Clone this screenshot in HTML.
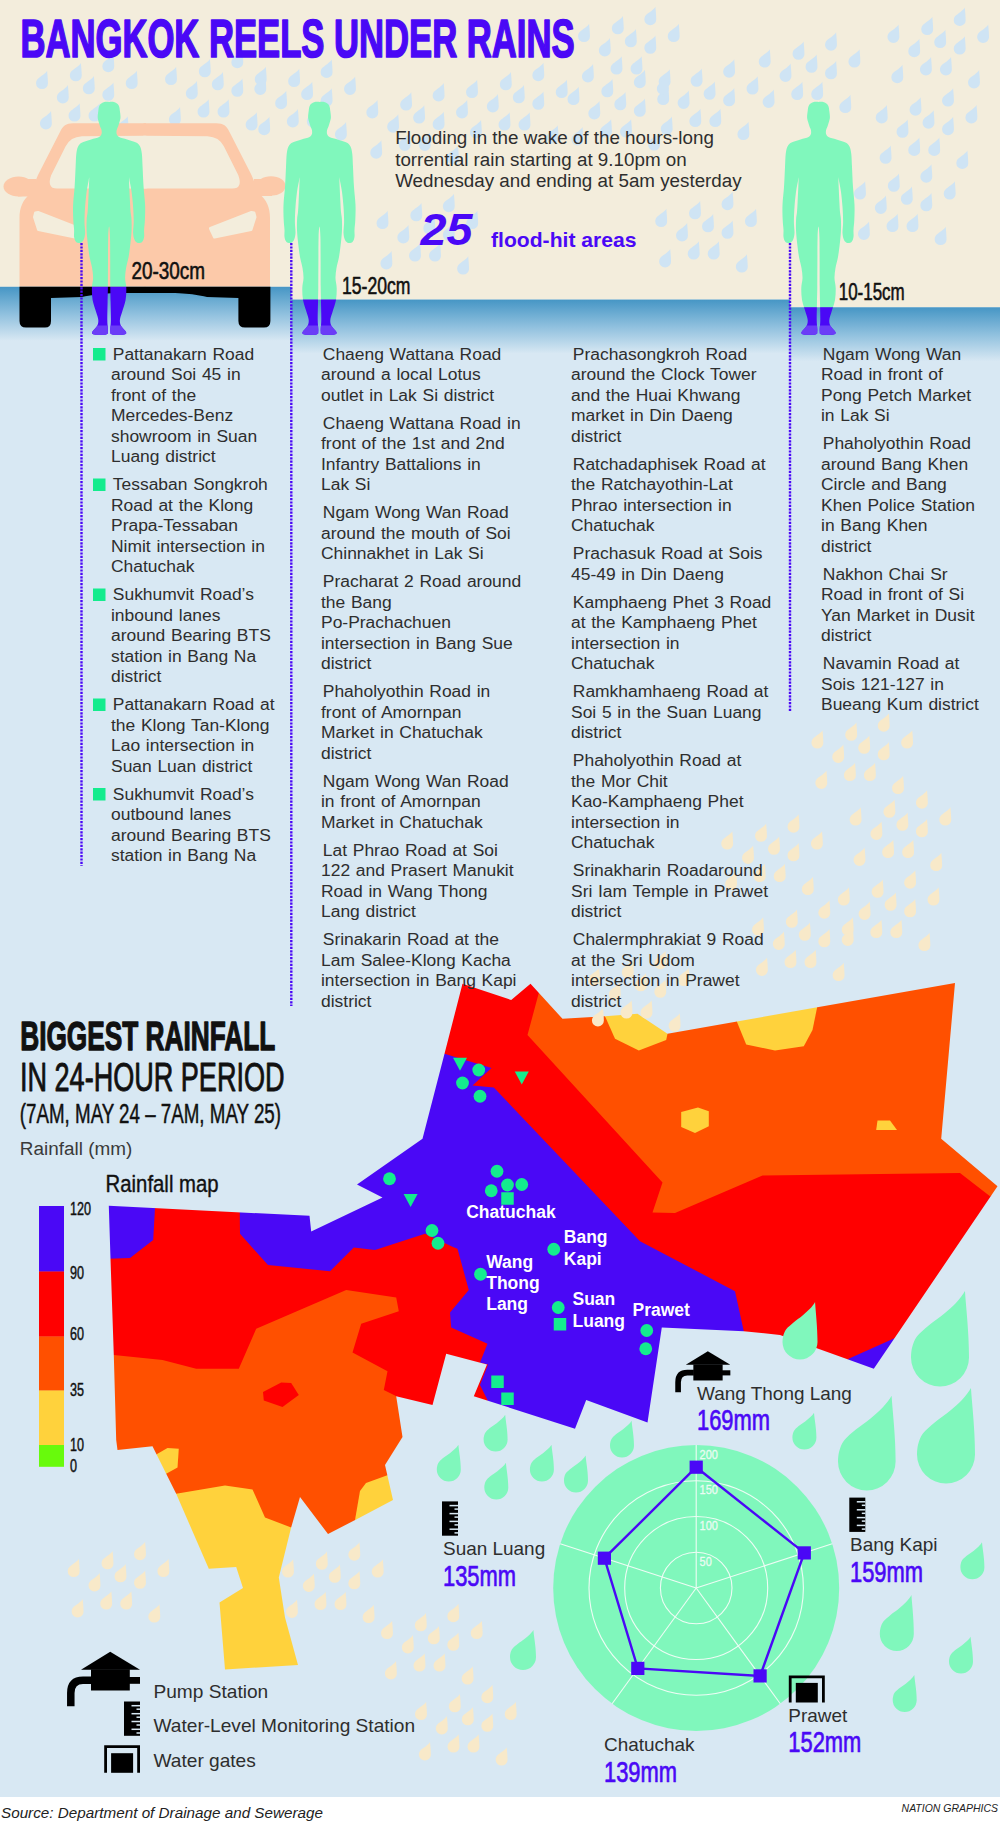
<!DOCTYPE html>
<html lang="en"><head><meta charset="utf-8"><title>Bangkok reels under rains</title>
<style>html,body{margin:0;padding:0;background:#fff}svg{display:block}text{font-family:"Liberation Sans",sans-serif}</style></head><body>
<svg width="1000" height="1823" viewBox="0 0 1000 1823">
<defs>
<linearGradient id="wg" x1="0" y1="0" x2="0" y2="1"><stop offset="0" stop-color="#4696c5"/><stop offset="0.5" stop-color="#8fc0de"/><stop offset="1" stop-color="#d8e8f3"/></linearGradient>
<clipPath id="creamclip"><path d="M0,0H1000V307.3H790V299.6H291.3V286.8H0Z"/></clipPath>
</defs>
<rect width="1000" height="1823" fill="#fff"/>
<rect width="1000" height="1797" fill="#d8e8f3"/>
<path d="M0,0H1000V307.3H790V299.6H291.3V286.8H0Z" fill="#f3eddc"/>
<g fill="#cfe4f4" clip-path="url(#creamclip)">
<path transform="translate(42.0,83.5) scale(5.94,5.6)" d="M0.86,-2.29C0.90,-1.69 1,-0.89 1,0A1,1 0 1 1 -1,0C-1.00,-0.11 -0.99,-0.23 -0.96,-0.35C-0.92,-0.47 -0.89,-0.60 -0.79,-0.73C-0.69,-0.86 -0.52,-0.99 -0.37,-1.12C-0.22,-1.25 -0.02,-1.37 0.13,-1.50C0.28,-1.63 0.43,-1.75 0.55,-1.88C0.67,-2.01 0.80,-2.17 0.86,-2.29Z"/>
<path transform="translate(75.8,75.7) scale(5.94,5.6)" d="M0.86,-2.29C0.90,-1.69 1,-0.89 1,0A1,1 0 1 1 -1,0C-1.00,-0.11 -0.99,-0.23 -0.96,-0.35C-0.92,-0.47 -0.89,-0.60 -0.79,-0.73C-0.69,-0.86 -0.52,-0.99 -0.37,-1.12C-0.22,-1.25 -0.02,-1.37 0.13,-1.50C0.28,-1.63 0.43,-1.75 0.55,-1.88C0.67,-2.01 0.80,-2.17 0.86,-2.29Z"/>
<path transform="translate(108.3,66.6) scale(5.94,5.6)" d="M0.86,-2.29C0.90,-1.69 1,-0.89 1,0A1,1 0 1 1 -1,0C-1.00,-0.11 -0.99,-0.23 -0.96,-0.35C-0.92,-0.47 -0.89,-0.60 -0.79,-0.73C-0.69,-0.86 -0.52,-0.99 -0.37,-1.12C-0.22,-1.25 -0.02,-1.37 0.13,-1.50C0.28,-1.63 0.43,-1.75 0.55,-1.88C0.67,-2.01 0.80,-2.17 0.86,-2.29Z"/>
<path transform="translate(131.7,83.5) scale(5.94,5.6)" d="M0.86,-2.29C0.90,-1.69 1,-0.89 1,0A1,1 0 1 1 -1,0C-1.00,-0.11 -0.99,-0.23 -0.96,-0.35C-0.92,-0.47 -0.89,-0.60 -0.79,-0.73C-0.69,-0.86 -0.52,-0.99 -0.37,-1.12C-0.22,-1.25 -0.02,-1.37 0.13,-1.50C0.28,-1.63 0.43,-1.75 0.55,-1.88C0.67,-2.01 0.80,-2.17 0.86,-2.29Z"/>
<path transform="translate(62.8,97.8) scale(5.94,5.6)" d="M0.86,-2.29C0.90,-1.69 1,-0.89 1,0A1,1 0 1 1 -1,0C-1.00,-0.11 -0.99,-0.23 -0.96,-0.35C-0.92,-0.47 -0.89,-0.60 -0.79,-0.73C-0.69,-0.86 -0.52,-0.99 -0.37,-1.12C-0.22,-1.25 -0.02,-1.37 0.13,-1.50C0.28,-1.63 0.43,-1.75 0.55,-1.88C0.67,-2.01 0.80,-2.17 0.86,-2.29Z"/>
<path transform="translate(88.8,88.7) scale(5.94,5.6)" d="M0.86,-2.29C0.90,-1.69 1,-0.89 1,0A1,1 0 1 1 -1,0C-1.00,-0.11 -0.99,-0.23 -0.96,-0.35C-0.92,-0.47 -0.89,-0.60 -0.79,-0.73C-0.69,-0.86 -0.52,-0.99 -0.37,-1.12C-0.22,-1.25 -0.02,-1.37 0.13,-1.50C0.28,-1.63 0.43,-1.75 0.55,-1.88C0.67,-2.01 0.80,-2.17 0.86,-2.29Z"/>
<path transform="translate(108.3,95.2) scale(5.94,5.6)" d="M0.86,-2.29C0.90,-1.69 1,-0.89 1,0A1,1 0 1 1 -1,0C-1.00,-0.11 -0.99,-0.23 -0.96,-0.35C-0.92,-0.47 -0.89,-0.60 -0.79,-0.73C-0.69,-0.86 -0.52,-0.99 -0.37,-1.12C-0.22,-1.25 -0.02,-1.37 0.13,-1.50C0.28,-1.63 0.43,-1.75 0.55,-1.88C0.67,-2.01 0.80,-2.17 0.86,-2.29Z"/>
<path transform="translate(45.9,123.8) scale(5.94,5.6)" d="M0.86,-2.29C0.90,-1.69 1,-0.89 1,0A1,1 0 1 1 -1,0C-1.00,-0.11 -0.99,-0.23 -0.96,-0.35C-0.92,-0.47 -0.89,-0.60 -0.79,-0.73C-0.69,-0.86 -0.52,-0.99 -0.37,-1.12C-0.22,-1.25 -0.02,-1.37 0.13,-1.50C0.28,-1.63 0.43,-1.75 0.55,-1.88C0.67,-2.01 0.80,-2.17 0.86,-2.29Z"/>
<path transform="translate(74.5,116.0) scale(5.94,5.6)" d="M0.86,-2.29C0.90,-1.69 1,-0.89 1,0A1,1 0 1 1 -1,0C-1.00,-0.11 -0.99,-0.23 -0.96,-0.35C-0.92,-0.47 -0.89,-0.60 -0.79,-0.73C-0.69,-0.86 -0.52,-0.99 -0.37,-1.12C-0.22,-1.25 -0.02,-1.37 0.13,-1.50C0.28,-1.63 0.43,-1.75 0.55,-1.88C0.67,-2.01 0.80,-2.17 0.86,-2.29Z"/>
<path transform="translate(94.5,116.0) scale(5.94,5.6)" d="M0.86,-2.29C0.90,-1.69 1,-0.89 1,0A1,1 0 1 1 -1,0C-1.00,-0.11 -0.99,-0.23 -0.96,-0.35C-0.92,-0.47 -0.89,-0.60 -0.79,-0.73C-0.69,-0.86 -0.52,-0.99 -0.37,-1.12C-0.22,-1.25 -0.02,-1.37 0.13,-1.50C0.28,-1.63 0.43,-1.75 0.55,-1.88C0.67,-2.01 0.80,-2.17 0.86,-2.29Z"/>
<path transform="translate(122.6,129.0) scale(5.94,5.6)" d="M0.86,-2.29C0.90,-1.69 1,-0.89 1,0A1,1 0 1 1 -1,0C-1.00,-0.11 -0.99,-0.23 -0.96,-0.35C-0.92,-0.47 -0.89,-0.60 -0.79,-0.73C-0.69,-0.86 -0.52,-0.99 -0.37,-1.12C-0.22,-1.25 -0.02,-1.37 0.13,-1.50C0.28,-1.63 0.43,-1.75 0.55,-1.88C0.67,-2.01 0.80,-2.17 0.86,-2.29Z"/>
</g>
<g fill="#cfe4f4" clip-path="url(#creamclip)">
<path transform="translate(171.0,79.5) scale(5.94,5.6)" d="M0.86,-2.29C0.90,-1.69 1,-0.89 1,0A1,1 0 1 1 -1,0C-1.00,-0.11 -0.99,-0.23 -0.96,-0.35C-0.92,-0.47 -0.89,-0.60 -0.79,-0.73C-0.69,-0.86 -0.52,-0.99 -0.37,-1.12C-0.22,-1.25 -0.02,-1.37 0.13,-1.50C0.28,-1.63 0.43,-1.75 0.55,-1.88C0.67,-2.01 0.80,-2.17 0.86,-2.29Z"/>
<path transform="translate(204.8,71.7) scale(5.94,5.6)" d="M0.86,-2.29C0.90,-1.69 1,-0.89 1,0A1,1 0 1 1 -1,0C-1.00,-0.11 -0.99,-0.23 -0.96,-0.35C-0.92,-0.47 -0.89,-0.60 -0.79,-0.73C-0.69,-0.86 -0.52,-0.99 -0.37,-1.12C-0.22,-1.25 -0.02,-1.37 0.13,-1.50C0.28,-1.63 0.43,-1.75 0.55,-1.88C0.67,-2.01 0.80,-2.17 0.86,-2.29Z"/>
<path transform="translate(237.3,62.6) scale(5.94,5.6)" d="M0.86,-2.29C0.90,-1.69 1,-0.89 1,0A1,1 0 1 1 -1,0C-1.00,-0.11 -0.99,-0.23 -0.96,-0.35C-0.92,-0.47 -0.89,-0.60 -0.79,-0.73C-0.69,-0.86 -0.52,-0.99 -0.37,-1.12C-0.22,-1.25 -0.02,-1.37 0.13,-1.50C0.28,-1.63 0.43,-1.75 0.55,-1.88C0.67,-2.01 0.80,-2.17 0.86,-2.29Z"/>
<path transform="translate(260.7,79.5) scale(5.94,5.6)" d="M0.86,-2.29C0.90,-1.69 1,-0.89 1,0A1,1 0 1 1 -1,0C-1.00,-0.11 -0.99,-0.23 -0.96,-0.35C-0.92,-0.47 -0.89,-0.60 -0.79,-0.73C-0.69,-0.86 -0.52,-0.99 -0.37,-1.12C-0.22,-1.25 -0.02,-1.37 0.13,-1.50C0.28,-1.63 0.43,-1.75 0.55,-1.88C0.67,-2.01 0.80,-2.17 0.86,-2.29Z"/>
<path transform="translate(191.8,93.8) scale(5.94,5.6)" d="M0.86,-2.29C0.90,-1.69 1,-0.89 1,0A1,1 0 1 1 -1,0C-1.00,-0.11 -0.99,-0.23 -0.96,-0.35C-0.92,-0.47 -0.89,-0.60 -0.79,-0.73C-0.69,-0.86 -0.52,-0.99 -0.37,-1.12C-0.22,-1.25 -0.02,-1.37 0.13,-1.50C0.28,-1.63 0.43,-1.75 0.55,-1.88C0.67,-2.01 0.80,-2.17 0.86,-2.29Z"/>
<path transform="translate(217.8,84.7) scale(5.94,5.6)" d="M0.86,-2.29C0.90,-1.69 1,-0.89 1,0A1,1 0 1 1 -1,0C-1.00,-0.11 -0.99,-0.23 -0.96,-0.35C-0.92,-0.47 -0.89,-0.60 -0.79,-0.73C-0.69,-0.86 -0.52,-0.99 -0.37,-1.12C-0.22,-1.25 -0.02,-1.37 0.13,-1.50C0.28,-1.63 0.43,-1.75 0.55,-1.88C0.67,-2.01 0.80,-2.17 0.86,-2.29Z"/>
<path transform="translate(237.3,91.2) scale(5.94,5.6)" d="M0.86,-2.29C0.90,-1.69 1,-0.89 1,0A1,1 0 1 1 -1,0C-1.00,-0.11 -0.99,-0.23 -0.96,-0.35C-0.92,-0.47 -0.89,-0.60 -0.79,-0.73C-0.69,-0.86 -0.52,-0.99 -0.37,-1.12C-0.22,-1.25 -0.02,-1.37 0.13,-1.50C0.28,-1.63 0.43,-1.75 0.55,-1.88C0.67,-2.01 0.80,-2.17 0.86,-2.29Z"/>
<path transform="translate(174.9,119.8) scale(5.94,5.6)" d="M0.86,-2.29C0.90,-1.69 1,-0.89 1,0A1,1 0 1 1 -1,0C-1.00,-0.11 -0.99,-0.23 -0.96,-0.35C-0.92,-0.47 -0.89,-0.60 -0.79,-0.73C-0.69,-0.86 -0.52,-0.99 -0.37,-1.12C-0.22,-1.25 -0.02,-1.37 0.13,-1.50C0.28,-1.63 0.43,-1.75 0.55,-1.88C0.67,-2.01 0.80,-2.17 0.86,-2.29Z"/>
<path transform="translate(203.5,112.0) scale(5.94,5.6)" d="M0.86,-2.29C0.90,-1.69 1,-0.89 1,0A1,1 0 1 1 -1,0C-1.00,-0.11 -0.99,-0.23 -0.96,-0.35C-0.92,-0.47 -0.89,-0.60 -0.79,-0.73C-0.69,-0.86 -0.52,-0.99 -0.37,-1.12C-0.22,-1.25 -0.02,-1.37 0.13,-1.50C0.28,-1.63 0.43,-1.75 0.55,-1.88C0.67,-2.01 0.80,-2.17 0.86,-2.29Z"/>
<path transform="translate(223.5,112.0) scale(5.94,5.6)" d="M0.86,-2.29C0.90,-1.69 1,-0.89 1,0A1,1 0 1 1 -1,0C-1.00,-0.11 -0.99,-0.23 -0.96,-0.35C-0.92,-0.47 -0.89,-0.60 -0.79,-0.73C-0.69,-0.86 -0.52,-0.99 -0.37,-1.12C-0.22,-1.25 -0.02,-1.37 0.13,-1.50C0.28,-1.63 0.43,-1.75 0.55,-1.88C0.67,-2.01 0.80,-2.17 0.86,-2.29Z"/>
<path transform="translate(251.6,125.0) scale(5.94,5.6)" d="M0.86,-2.29C0.90,-1.69 1,-0.89 1,0A1,1 0 1 1 -1,0C-1.00,-0.11 -0.99,-0.23 -0.96,-0.35C-0.92,-0.47 -0.89,-0.60 -0.79,-0.73C-0.69,-0.86 -0.52,-0.99 -0.37,-1.12C-0.22,-1.25 -0.02,-1.37 0.13,-1.50C0.28,-1.63 0.43,-1.75 0.55,-1.88C0.67,-2.01 0.80,-2.17 0.86,-2.29Z"/>
</g>
<g fill="#cfe4f4" clip-path="url(#creamclip)">
<path transform="translate(260.3,89.3) scale(5.94,5.6)" d="M0.86,-2.29C0.90,-1.69 1,-0.89 1,0A1,1 0 1 1 -1,0C-1.00,-0.11 -0.99,-0.23 -0.96,-0.35C-0.92,-0.47 -0.89,-0.60 -0.79,-0.73C-0.69,-0.86 -0.52,-0.99 -0.37,-1.12C-0.22,-1.25 -0.02,-1.37 0.13,-1.50C0.28,-1.63 0.43,-1.75 0.55,-1.88C0.67,-2.01 0.80,-2.17 0.86,-2.29Z"/>
<path transform="translate(294.1,81.5) scale(5.94,5.6)" d="M0.86,-2.29C0.90,-1.69 1,-0.89 1,0A1,1 0 1 1 -1,0C-1.00,-0.11 -0.99,-0.23 -0.96,-0.35C-0.92,-0.47 -0.89,-0.60 -0.79,-0.73C-0.69,-0.86 -0.52,-0.99 -0.37,-1.12C-0.22,-1.25 -0.02,-1.37 0.13,-1.50C0.28,-1.63 0.43,-1.75 0.55,-1.88C0.67,-2.01 0.80,-2.17 0.86,-2.29Z"/>
<path transform="translate(326.6,72.4) scale(5.94,5.6)" d="M0.86,-2.29C0.90,-1.69 1,-0.89 1,0A1,1 0 1 1 -1,0C-1.00,-0.11 -0.99,-0.23 -0.96,-0.35C-0.92,-0.47 -0.89,-0.60 -0.79,-0.73C-0.69,-0.86 -0.52,-0.99 -0.37,-1.12C-0.22,-1.25 -0.02,-1.37 0.13,-1.50C0.28,-1.63 0.43,-1.75 0.55,-1.88C0.67,-2.01 0.80,-2.17 0.86,-2.29Z"/>
<path transform="translate(350.0,89.3) scale(5.94,5.6)" d="M0.86,-2.29C0.90,-1.69 1,-0.89 1,0A1,1 0 1 1 -1,0C-1.00,-0.11 -0.99,-0.23 -0.96,-0.35C-0.92,-0.47 -0.89,-0.60 -0.79,-0.73C-0.69,-0.86 -0.52,-0.99 -0.37,-1.12C-0.22,-1.25 -0.02,-1.37 0.13,-1.50C0.28,-1.63 0.43,-1.75 0.55,-1.88C0.67,-2.01 0.80,-2.17 0.86,-2.29Z"/>
<path transform="translate(281.1,103.6) scale(5.94,5.6)" d="M0.86,-2.29C0.90,-1.69 1,-0.89 1,0A1,1 0 1 1 -1,0C-1.00,-0.11 -0.99,-0.23 -0.96,-0.35C-0.92,-0.47 -0.89,-0.60 -0.79,-0.73C-0.69,-0.86 -0.52,-0.99 -0.37,-1.12C-0.22,-1.25 -0.02,-1.37 0.13,-1.50C0.28,-1.63 0.43,-1.75 0.55,-1.88C0.67,-2.01 0.80,-2.17 0.86,-2.29Z"/>
<path transform="translate(307.1,94.5) scale(5.94,5.6)" d="M0.86,-2.29C0.90,-1.69 1,-0.89 1,0A1,1 0 1 1 -1,0C-1.00,-0.11 -0.99,-0.23 -0.96,-0.35C-0.92,-0.47 -0.89,-0.60 -0.79,-0.73C-0.69,-0.86 -0.52,-0.99 -0.37,-1.12C-0.22,-1.25 -0.02,-1.37 0.13,-1.50C0.28,-1.63 0.43,-1.75 0.55,-1.88C0.67,-2.01 0.80,-2.17 0.86,-2.29Z"/>
<path transform="translate(326.6,101.0) scale(5.94,5.6)" d="M0.86,-2.29C0.90,-1.69 1,-0.89 1,0A1,1 0 1 1 -1,0C-1.00,-0.11 -0.99,-0.23 -0.96,-0.35C-0.92,-0.47 -0.89,-0.60 -0.79,-0.73C-0.69,-0.86 -0.52,-0.99 -0.37,-1.12C-0.22,-1.25 -0.02,-1.37 0.13,-1.50C0.28,-1.63 0.43,-1.75 0.55,-1.88C0.67,-2.01 0.80,-2.17 0.86,-2.29Z"/>
<path transform="translate(264.2,129.6) scale(5.94,5.6)" d="M0.86,-2.29C0.90,-1.69 1,-0.89 1,0A1,1 0 1 1 -1,0C-1.00,-0.11 -0.99,-0.23 -0.96,-0.35C-0.92,-0.47 -0.89,-0.60 -0.79,-0.73C-0.69,-0.86 -0.52,-0.99 -0.37,-1.12C-0.22,-1.25 -0.02,-1.37 0.13,-1.50C0.28,-1.63 0.43,-1.75 0.55,-1.88C0.67,-2.01 0.80,-2.17 0.86,-2.29Z"/>
<path transform="translate(292.8,121.8) scale(5.94,5.6)" d="M0.86,-2.29C0.90,-1.69 1,-0.89 1,0A1,1 0 1 1 -1,0C-1.00,-0.11 -0.99,-0.23 -0.96,-0.35C-0.92,-0.47 -0.89,-0.60 -0.79,-0.73C-0.69,-0.86 -0.52,-0.99 -0.37,-1.12C-0.22,-1.25 -0.02,-1.37 0.13,-1.50C0.28,-1.63 0.43,-1.75 0.55,-1.88C0.67,-2.01 0.80,-2.17 0.86,-2.29Z"/>
<path transform="translate(312.8,121.8) scale(5.94,5.6)" d="M0.86,-2.29C0.90,-1.69 1,-0.89 1,0A1,1 0 1 1 -1,0C-1.00,-0.11 -0.99,-0.23 -0.96,-0.35C-0.92,-0.47 -0.89,-0.60 -0.79,-0.73C-0.69,-0.86 -0.52,-0.99 -0.37,-1.12C-0.22,-1.25 -0.02,-1.37 0.13,-1.50C0.28,-1.63 0.43,-1.75 0.55,-1.88C0.67,-2.01 0.80,-2.17 0.86,-2.29Z"/>
<path transform="translate(340.9,134.8) scale(5.94,5.6)" d="M0.86,-2.29C0.90,-1.69 1,-0.89 1,0A1,1 0 1 1 -1,0C-1.00,-0.11 -0.99,-0.23 -0.96,-0.35C-0.92,-0.47 -0.89,-0.60 -0.79,-0.73C-0.69,-0.86 -0.52,-0.99 -0.37,-1.12C-0.22,-1.25 -0.02,-1.37 0.13,-1.50C0.28,-1.63 0.43,-1.75 0.55,-1.88C0.67,-2.01 0.80,-2.17 0.86,-2.29Z"/>
</g>
<g fill="#cfe4f4" clip-path="url(#creamclip)">
<path transform="translate(372.3,112.8) scale(5.94,5.6)" d="M0.86,-2.29C0.90,-1.69 1,-0.89 1,0A1,1 0 1 1 -1,0C-1.00,-0.11 -0.99,-0.23 -0.96,-0.35C-0.92,-0.47 -0.89,-0.60 -0.79,-0.73C-0.69,-0.86 -0.52,-0.99 -0.37,-1.12C-0.22,-1.25 -0.02,-1.37 0.13,-1.50C0.28,-1.63 0.43,-1.75 0.55,-1.88C0.67,-2.01 0.80,-2.17 0.86,-2.29Z"/>
<path transform="translate(406.1,105.0) scale(5.94,5.6)" d="M0.86,-2.29C0.90,-1.69 1,-0.89 1,0A1,1 0 1 1 -1,0C-1.00,-0.11 -0.99,-0.23 -0.96,-0.35C-0.92,-0.47 -0.89,-0.60 -0.79,-0.73C-0.69,-0.86 -0.52,-0.99 -0.37,-1.12C-0.22,-1.25 -0.02,-1.37 0.13,-1.50C0.28,-1.63 0.43,-1.75 0.55,-1.88C0.67,-2.01 0.80,-2.17 0.86,-2.29Z"/>
<path transform="translate(438.6,95.9) scale(5.94,5.6)" d="M0.86,-2.29C0.90,-1.69 1,-0.89 1,0A1,1 0 1 1 -1,0C-1.00,-0.11 -0.99,-0.23 -0.96,-0.35C-0.92,-0.47 -0.89,-0.60 -0.79,-0.73C-0.69,-0.86 -0.52,-0.99 -0.37,-1.12C-0.22,-1.25 -0.02,-1.37 0.13,-1.50C0.28,-1.63 0.43,-1.75 0.55,-1.88C0.67,-2.01 0.80,-2.17 0.86,-2.29Z"/>
<path transform="translate(462.0,112.8) scale(5.94,5.6)" d="M0.86,-2.29C0.90,-1.69 1,-0.89 1,0A1,1 0 1 1 -1,0C-1.00,-0.11 -0.99,-0.23 -0.96,-0.35C-0.92,-0.47 -0.89,-0.60 -0.79,-0.73C-0.69,-0.86 -0.52,-0.99 -0.37,-1.12C-0.22,-1.25 -0.02,-1.37 0.13,-1.50C0.28,-1.63 0.43,-1.75 0.55,-1.88C0.67,-2.01 0.80,-2.17 0.86,-2.29Z"/>
<path transform="translate(393.1,127.1) scale(5.94,5.6)" d="M0.86,-2.29C0.90,-1.69 1,-0.89 1,0A1,1 0 1 1 -1,0C-1.00,-0.11 -0.99,-0.23 -0.96,-0.35C-0.92,-0.47 -0.89,-0.60 -0.79,-0.73C-0.69,-0.86 -0.52,-0.99 -0.37,-1.12C-0.22,-1.25 -0.02,-1.37 0.13,-1.50C0.28,-1.63 0.43,-1.75 0.55,-1.88C0.67,-2.01 0.80,-2.17 0.86,-2.29Z"/>
<path transform="translate(419.1,118.0) scale(5.94,5.6)" d="M0.86,-2.29C0.90,-1.69 1,-0.89 1,0A1,1 0 1 1 -1,0C-1.00,-0.11 -0.99,-0.23 -0.96,-0.35C-0.92,-0.47 -0.89,-0.60 -0.79,-0.73C-0.69,-0.86 -0.52,-0.99 -0.37,-1.12C-0.22,-1.25 -0.02,-1.37 0.13,-1.50C0.28,-1.63 0.43,-1.75 0.55,-1.88C0.67,-2.01 0.80,-2.17 0.86,-2.29Z"/>
<path transform="translate(438.6,124.5) scale(5.94,5.6)" d="M0.86,-2.29C0.90,-1.69 1,-0.89 1,0A1,1 0 1 1 -1,0C-1.00,-0.11 -0.99,-0.23 -0.96,-0.35C-0.92,-0.47 -0.89,-0.60 -0.79,-0.73C-0.69,-0.86 -0.52,-0.99 -0.37,-1.12C-0.22,-1.25 -0.02,-1.37 0.13,-1.50C0.28,-1.63 0.43,-1.75 0.55,-1.88C0.67,-2.01 0.80,-2.17 0.86,-2.29Z"/>
<path transform="translate(376.2,153.1) scale(5.94,5.6)" d="M0.86,-2.29C0.90,-1.69 1,-0.89 1,0A1,1 0 1 1 -1,0C-1.00,-0.11 -0.99,-0.23 -0.96,-0.35C-0.92,-0.47 -0.89,-0.60 -0.79,-0.73C-0.69,-0.86 -0.52,-0.99 -0.37,-1.12C-0.22,-1.25 -0.02,-1.37 0.13,-1.50C0.28,-1.63 0.43,-1.75 0.55,-1.88C0.67,-2.01 0.80,-2.17 0.86,-2.29Z"/>
<path transform="translate(404.8,145.3) scale(5.94,5.6)" d="M0.86,-2.29C0.90,-1.69 1,-0.89 1,0A1,1 0 1 1 -1,0C-1.00,-0.11 -0.99,-0.23 -0.96,-0.35C-0.92,-0.47 -0.89,-0.60 -0.79,-0.73C-0.69,-0.86 -0.52,-0.99 -0.37,-1.12C-0.22,-1.25 -0.02,-1.37 0.13,-1.50C0.28,-1.63 0.43,-1.75 0.55,-1.88C0.67,-2.01 0.80,-2.17 0.86,-2.29Z"/>
<path transform="translate(424.8,145.3) scale(5.94,5.6)" d="M0.86,-2.29C0.90,-1.69 1,-0.89 1,0A1,1 0 1 1 -1,0C-1.00,-0.11 -0.99,-0.23 -0.96,-0.35C-0.92,-0.47 -0.89,-0.60 -0.79,-0.73C-0.69,-0.86 -0.52,-0.99 -0.37,-1.12C-0.22,-1.25 -0.02,-1.37 0.13,-1.50C0.28,-1.63 0.43,-1.75 0.55,-1.88C0.67,-2.01 0.80,-2.17 0.86,-2.29Z"/>
<path transform="translate(452.9,158.3) scale(5.94,5.6)" d="M0.86,-2.29C0.90,-1.69 1,-0.89 1,0A1,1 0 1 1 -1,0C-1.00,-0.11 -0.99,-0.23 -0.96,-0.35C-0.92,-0.47 -0.89,-0.60 -0.79,-0.73C-0.69,-0.86 -0.52,-0.99 -0.37,-1.12C-0.22,-1.25 -0.02,-1.37 0.13,-1.50C0.28,-1.63 0.43,-1.75 0.55,-1.88C0.67,-2.01 0.80,-2.17 0.86,-2.29Z"/>
</g>
<g fill="#cfe4f4" clip-path="url(#creamclip)">
<path transform="translate(382.5,223.5) scale(5.94,5.6)" d="M0.86,-2.29C0.90,-1.69 1,-0.89 1,0A1,1 0 1 1 -1,0C-1.00,-0.11 -0.99,-0.23 -0.96,-0.35C-0.92,-0.47 -0.89,-0.60 -0.79,-0.73C-0.69,-0.86 -0.52,-0.99 -0.37,-1.12C-0.22,-1.25 -0.02,-1.37 0.13,-1.50C0.28,-1.63 0.43,-1.75 0.55,-1.88C0.67,-2.01 0.80,-2.17 0.86,-2.29Z"/>
<path transform="translate(416.3,215.7) scale(5.94,5.6)" d="M0.86,-2.29C0.90,-1.69 1,-0.89 1,0A1,1 0 1 1 -1,0C-1.00,-0.11 -0.99,-0.23 -0.96,-0.35C-0.92,-0.47 -0.89,-0.60 -0.79,-0.73C-0.69,-0.86 -0.52,-0.99 -0.37,-1.12C-0.22,-1.25 -0.02,-1.37 0.13,-1.50C0.28,-1.63 0.43,-1.75 0.55,-1.88C0.67,-2.01 0.80,-2.17 0.86,-2.29Z"/>
<path transform="translate(448.8,206.6) scale(5.94,5.6)" d="M0.86,-2.29C0.90,-1.69 1,-0.89 1,0A1,1 0 1 1 -1,0C-1.00,-0.11 -0.99,-0.23 -0.96,-0.35C-0.92,-0.47 -0.89,-0.60 -0.79,-0.73C-0.69,-0.86 -0.52,-0.99 -0.37,-1.12C-0.22,-1.25 -0.02,-1.37 0.13,-1.50C0.28,-1.63 0.43,-1.75 0.55,-1.88C0.67,-2.01 0.80,-2.17 0.86,-2.29Z"/>
<path transform="translate(472.2,223.5) scale(5.94,5.6)" d="M0.86,-2.29C0.90,-1.69 1,-0.89 1,0A1,1 0 1 1 -1,0C-1.00,-0.11 -0.99,-0.23 -0.96,-0.35C-0.92,-0.47 -0.89,-0.60 -0.79,-0.73C-0.69,-0.86 -0.52,-0.99 -0.37,-1.12C-0.22,-1.25 -0.02,-1.37 0.13,-1.50C0.28,-1.63 0.43,-1.75 0.55,-1.88C0.67,-2.01 0.80,-2.17 0.86,-2.29Z"/>
<path transform="translate(403.3,237.8) scale(5.94,5.6)" d="M0.86,-2.29C0.90,-1.69 1,-0.89 1,0A1,1 0 1 1 -1,0C-1.00,-0.11 -0.99,-0.23 -0.96,-0.35C-0.92,-0.47 -0.89,-0.60 -0.79,-0.73C-0.69,-0.86 -0.52,-0.99 -0.37,-1.12C-0.22,-1.25 -0.02,-1.37 0.13,-1.50C0.28,-1.63 0.43,-1.75 0.55,-1.88C0.67,-2.01 0.80,-2.17 0.86,-2.29Z"/>
<path transform="translate(429.3,228.7) scale(5.94,5.6)" d="M0.86,-2.29C0.90,-1.69 1,-0.89 1,0A1,1 0 1 1 -1,0C-1.00,-0.11 -0.99,-0.23 -0.96,-0.35C-0.92,-0.47 -0.89,-0.60 -0.79,-0.73C-0.69,-0.86 -0.52,-0.99 -0.37,-1.12C-0.22,-1.25 -0.02,-1.37 0.13,-1.50C0.28,-1.63 0.43,-1.75 0.55,-1.88C0.67,-2.01 0.80,-2.17 0.86,-2.29Z"/>
<path transform="translate(448.8,235.2) scale(5.94,5.6)" d="M0.86,-2.29C0.90,-1.69 1,-0.89 1,0A1,1 0 1 1 -1,0C-1.00,-0.11 -0.99,-0.23 -0.96,-0.35C-0.92,-0.47 -0.89,-0.60 -0.79,-0.73C-0.69,-0.86 -0.52,-0.99 -0.37,-1.12C-0.22,-1.25 -0.02,-1.37 0.13,-1.50C0.28,-1.63 0.43,-1.75 0.55,-1.88C0.67,-2.01 0.80,-2.17 0.86,-2.29Z"/>
<path transform="translate(386.4,263.8) scale(5.94,5.6)" d="M0.86,-2.29C0.90,-1.69 1,-0.89 1,0A1,1 0 1 1 -1,0C-1.00,-0.11 -0.99,-0.23 -0.96,-0.35C-0.92,-0.47 -0.89,-0.60 -0.79,-0.73C-0.69,-0.86 -0.52,-0.99 -0.37,-1.12C-0.22,-1.25 -0.02,-1.37 0.13,-1.50C0.28,-1.63 0.43,-1.75 0.55,-1.88C0.67,-2.01 0.80,-2.17 0.86,-2.29Z"/>
<path transform="translate(415.0,256.0) scale(5.94,5.6)" d="M0.86,-2.29C0.90,-1.69 1,-0.89 1,0A1,1 0 1 1 -1,0C-1.00,-0.11 -0.99,-0.23 -0.96,-0.35C-0.92,-0.47 -0.89,-0.60 -0.79,-0.73C-0.69,-0.86 -0.52,-0.99 -0.37,-1.12C-0.22,-1.25 -0.02,-1.37 0.13,-1.50C0.28,-1.63 0.43,-1.75 0.55,-1.88C0.67,-2.01 0.80,-2.17 0.86,-2.29Z"/>
<path transform="translate(435.0,256.0) scale(5.94,5.6)" d="M0.86,-2.29C0.90,-1.69 1,-0.89 1,0A1,1 0 1 1 -1,0C-1.00,-0.11 -0.99,-0.23 -0.96,-0.35C-0.92,-0.47 -0.89,-0.60 -0.79,-0.73C-0.69,-0.86 -0.52,-0.99 -0.37,-1.12C-0.22,-1.25 -0.02,-1.37 0.13,-1.50C0.28,-1.63 0.43,-1.75 0.55,-1.88C0.67,-2.01 0.80,-2.17 0.86,-2.29Z"/>
<path transform="translate(463.1,269.0) scale(5.94,5.6)" d="M0.86,-2.29C0.90,-1.69 1,-0.89 1,0A1,1 0 1 1 -1,0C-1.00,-0.11 -0.99,-0.23 -0.96,-0.35C-0.92,-0.47 -0.89,-0.60 -0.79,-0.73C-0.69,-0.86 -0.52,-0.99 -0.37,-1.12C-0.22,-1.25 -0.02,-1.37 0.13,-1.50C0.28,-1.63 0.43,-1.75 0.55,-1.88C0.67,-2.01 0.80,-2.17 0.86,-2.29Z"/>
</g>
<g fill="#cfe4f4" clip-path="url(#creamclip)">
<path transform="translate(472.0,92.5) scale(5.94,5.6)" d="M0.86,-2.29C0.90,-1.69 1,-0.89 1,0A1,1 0 1 1 -1,0C-1.00,-0.11 -0.99,-0.23 -0.96,-0.35C-0.92,-0.47 -0.89,-0.60 -0.79,-0.73C-0.69,-0.86 -0.52,-0.99 -0.37,-1.12C-0.22,-1.25 -0.02,-1.37 0.13,-1.50C0.28,-1.63 0.43,-1.75 0.55,-1.88C0.67,-2.01 0.80,-2.17 0.86,-2.29Z"/>
<path transform="translate(505.8,84.7) scale(5.94,5.6)" d="M0.86,-2.29C0.90,-1.69 1,-0.89 1,0A1,1 0 1 1 -1,0C-1.00,-0.11 -0.99,-0.23 -0.96,-0.35C-0.92,-0.47 -0.89,-0.60 -0.79,-0.73C-0.69,-0.86 -0.52,-0.99 -0.37,-1.12C-0.22,-1.25 -0.02,-1.37 0.13,-1.50C0.28,-1.63 0.43,-1.75 0.55,-1.88C0.67,-2.01 0.80,-2.17 0.86,-2.29Z"/>
<path transform="translate(538.3,75.6) scale(5.94,5.6)" d="M0.86,-2.29C0.90,-1.69 1,-0.89 1,0A1,1 0 1 1 -1,0C-1.00,-0.11 -0.99,-0.23 -0.96,-0.35C-0.92,-0.47 -0.89,-0.60 -0.79,-0.73C-0.69,-0.86 -0.52,-0.99 -0.37,-1.12C-0.22,-1.25 -0.02,-1.37 0.13,-1.50C0.28,-1.63 0.43,-1.75 0.55,-1.88C0.67,-2.01 0.80,-2.17 0.86,-2.29Z"/>
<path transform="translate(561.7,92.5) scale(5.94,5.6)" d="M0.86,-2.29C0.90,-1.69 1,-0.89 1,0A1,1 0 1 1 -1,0C-1.00,-0.11 -0.99,-0.23 -0.96,-0.35C-0.92,-0.47 -0.89,-0.60 -0.79,-0.73C-0.69,-0.86 -0.52,-0.99 -0.37,-1.12C-0.22,-1.25 -0.02,-1.37 0.13,-1.50C0.28,-1.63 0.43,-1.75 0.55,-1.88C0.67,-2.01 0.80,-2.17 0.86,-2.29Z"/>
<path transform="translate(492.8,106.8) scale(5.94,5.6)" d="M0.86,-2.29C0.90,-1.69 1,-0.89 1,0A1,1 0 1 1 -1,0C-1.00,-0.11 -0.99,-0.23 -0.96,-0.35C-0.92,-0.47 -0.89,-0.60 -0.79,-0.73C-0.69,-0.86 -0.52,-0.99 -0.37,-1.12C-0.22,-1.25 -0.02,-1.37 0.13,-1.50C0.28,-1.63 0.43,-1.75 0.55,-1.88C0.67,-2.01 0.80,-2.17 0.86,-2.29Z"/>
<path transform="translate(518.8,97.7) scale(5.94,5.6)" d="M0.86,-2.29C0.90,-1.69 1,-0.89 1,0A1,1 0 1 1 -1,0C-1.00,-0.11 -0.99,-0.23 -0.96,-0.35C-0.92,-0.47 -0.89,-0.60 -0.79,-0.73C-0.69,-0.86 -0.52,-0.99 -0.37,-1.12C-0.22,-1.25 -0.02,-1.37 0.13,-1.50C0.28,-1.63 0.43,-1.75 0.55,-1.88C0.67,-2.01 0.80,-2.17 0.86,-2.29Z"/>
<path transform="translate(538.3,104.2) scale(5.94,5.6)" d="M0.86,-2.29C0.90,-1.69 1,-0.89 1,0A1,1 0 1 1 -1,0C-1.00,-0.11 -0.99,-0.23 -0.96,-0.35C-0.92,-0.47 -0.89,-0.60 -0.79,-0.73C-0.69,-0.86 -0.52,-0.99 -0.37,-1.12C-0.22,-1.25 -0.02,-1.37 0.13,-1.50C0.28,-1.63 0.43,-1.75 0.55,-1.88C0.67,-2.01 0.80,-2.17 0.86,-2.29Z"/>
<path transform="translate(475.9,132.8) scale(5.94,5.6)" d="M0.86,-2.29C0.90,-1.69 1,-0.89 1,0A1,1 0 1 1 -1,0C-1.00,-0.11 -0.99,-0.23 -0.96,-0.35C-0.92,-0.47 -0.89,-0.60 -0.79,-0.73C-0.69,-0.86 -0.52,-0.99 -0.37,-1.12C-0.22,-1.25 -0.02,-1.37 0.13,-1.50C0.28,-1.63 0.43,-1.75 0.55,-1.88C0.67,-2.01 0.80,-2.17 0.86,-2.29Z"/>
<path transform="translate(504.5,125.0) scale(5.94,5.6)" d="M0.86,-2.29C0.90,-1.69 1,-0.89 1,0A1,1 0 1 1 -1,0C-1.00,-0.11 -0.99,-0.23 -0.96,-0.35C-0.92,-0.47 -0.89,-0.60 -0.79,-0.73C-0.69,-0.86 -0.52,-0.99 -0.37,-1.12C-0.22,-1.25 -0.02,-1.37 0.13,-1.50C0.28,-1.63 0.43,-1.75 0.55,-1.88C0.67,-2.01 0.80,-2.17 0.86,-2.29Z"/>
<path transform="translate(524.5,125.0) scale(5.94,5.6)" d="M0.86,-2.29C0.90,-1.69 1,-0.89 1,0A1,1 0 1 1 -1,0C-1.00,-0.11 -0.99,-0.23 -0.96,-0.35C-0.92,-0.47 -0.89,-0.60 -0.79,-0.73C-0.69,-0.86 -0.52,-0.99 -0.37,-1.12C-0.22,-1.25 -0.02,-1.37 0.13,-1.50C0.28,-1.63 0.43,-1.75 0.55,-1.88C0.67,-2.01 0.80,-2.17 0.86,-2.29Z"/>
<path transform="translate(552.6,138.0) scale(5.94,5.6)" d="M0.86,-2.29C0.90,-1.69 1,-0.89 1,0A1,1 0 1 1 -1,0C-1.00,-0.11 -0.99,-0.23 -0.96,-0.35C-0.92,-0.47 -0.89,-0.60 -0.79,-0.73C-0.69,-0.86 -0.52,-0.99 -0.37,-1.12C-0.22,-1.25 -0.02,-1.37 0.13,-1.50C0.28,-1.63 0.43,-1.75 0.55,-1.88C0.67,-2.01 0.80,-2.17 0.86,-2.29Z"/>
</g>
<g fill="#cfe4f4" clip-path="url(#creamclip)">
<path transform="translate(573.5,99.5) scale(5.94,5.6)" d="M0.86,-2.29C0.90,-1.69 1,-0.89 1,0A1,1 0 1 1 -1,0C-1.00,-0.11 -0.99,-0.23 -0.96,-0.35C-0.92,-0.47 -0.89,-0.60 -0.79,-0.73C-0.69,-0.86 -0.52,-0.99 -0.37,-1.12C-0.22,-1.25 -0.02,-1.37 0.13,-1.50C0.28,-1.63 0.43,-1.75 0.55,-1.88C0.67,-2.01 0.80,-2.17 0.86,-2.29Z"/>
<path transform="translate(607.3,91.7) scale(5.94,5.6)" d="M0.86,-2.29C0.90,-1.69 1,-0.89 1,0A1,1 0 1 1 -1,0C-1.00,-0.11 -0.99,-0.23 -0.96,-0.35C-0.92,-0.47 -0.89,-0.60 -0.79,-0.73C-0.69,-0.86 -0.52,-0.99 -0.37,-1.12C-0.22,-1.25 -0.02,-1.37 0.13,-1.50C0.28,-1.63 0.43,-1.75 0.55,-1.88C0.67,-2.01 0.80,-2.17 0.86,-2.29Z"/>
<path transform="translate(639.8,82.6) scale(5.94,5.6)" d="M0.86,-2.29C0.90,-1.69 1,-0.89 1,0A1,1 0 1 1 -1,0C-1.00,-0.11 -0.99,-0.23 -0.96,-0.35C-0.92,-0.47 -0.89,-0.60 -0.79,-0.73C-0.69,-0.86 -0.52,-0.99 -0.37,-1.12C-0.22,-1.25 -0.02,-1.37 0.13,-1.50C0.28,-1.63 0.43,-1.75 0.55,-1.88C0.67,-2.01 0.80,-2.17 0.86,-2.29Z"/>
<path transform="translate(663.2,99.5) scale(5.94,5.6)" d="M0.86,-2.29C0.90,-1.69 1,-0.89 1,0A1,1 0 1 1 -1,0C-1.00,-0.11 -0.99,-0.23 -0.96,-0.35C-0.92,-0.47 -0.89,-0.60 -0.79,-0.73C-0.69,-0.86 -0.52,-0.99 -0.37,-1.12C-0.22,-1.25 -0.02,-1.37 0.13,-1.50C0.28,-1.63 0.43,-1.75 0.55,-1.88C0.67,-2.01 0.80,-2.17 0.86,-2.29Z"/>
<path transform="translate(594.3,113.8) scale(5.94,5.6)" d="M0.86,-2.29C0.90,-1.69 1,-0.89 1,0A1,1 0 1 1 -1,0C-1.00,-0.11 -0.99,-0.23 -0.96,-0.35C-0.92,-0.47 -0.89,-0.60 -0.79,-0.73C-0.69,-0.86 -0.52,-0.99 -0.37,-1.12C-0.22,-1.25 -0.02,-1.37 0.13,-1.50C0.28,-1.63 0.43,-1.75 0.55,-1.88C0.67,-2.01 0.80,-2.17 0.86,-2.29Z"/>
<path transform="translate(620.3,104.7) scale(5.94,5.6)" d="M0.86,-2.29C0.90,-1.69 1,-0.89 1,0A1,1 0 1 1 -1,0C-1.00,-0.11 -0.99,-0.23 -0.96,-0.35C-0.92,-0.47 -0.89,-0.60 -0.79,-0.73C-0.69,-0.86 -0.52,-0.99 -0.37,-1.12C-0.22,-1.25 -0.02,-1.37 0.13,-1.50C0.28,-1.63 0.43,-1.75 0.55,-1.88C0.67,-2.01 0.80,-2.17 0.86,-2.29Z"/>
<path transform="translate(639.8,111.2) scale(5.94,5.6)" d="M0.86,-2.29C0.90,-1.69 1,-0.89 1,0A1,1 0 1 1 -1,0C-1.00,-0.11 -0.99,-0.23 -0.96,-0.35C-0.92,-0.47 -0.89,-0.60 -0.79,-0.73C-0.69,-0.86 -0.52,-0.99 -0.37,-1.12C-0.22,-1.25 -0.02,-1.37 0.13,-1.50C0.28,-1.63 0.43,-1.75 0.55,-1.88C0.67,-2.01 0.80,-2.17 0.86,-2.29Z"/>
<path transform="translate(577.4,139.8) scale(5.94,5.6)" d="M0.86,-2.29C0.90,-1.69 1,-0.89 1,0A1,1 0 1 1 -1,0C-1.00,-0.11 -0.99,-0.23 -0.96,-0.35C-0.92,-0.47 -0.89,-0.60 -0.79,-0.73C-0.69,-0.86 -0.52,-0.99 -0.37,-1.12C-0.22,-1.25 -0.02,-1.37 0.13,-1.50C0.28,-1.63 0.43,-1.75 0.55,-1.88C0.67,-2.01 0.80,-2.17 0.86,-2.29Z"/>
<path transform="translate(606.0,132.0) scale(5.94,5.6)" d="M0.86,-2.29C0.90,-1.69 1,-0.89 1,0A1,1 0 1 1 -1,0C-1.00,-0.11 -0.99,-0.23 -0.96,-0.35C-0.92,-0.47 -0.89,-0.60 -0.79,-0.73C-0.69,-0.86 -0.52,-0.99 -0.37,-1.12C-0.22,-1.25 -0.02,-1.37 0.13,-1.50C0.28,-1.63 0.43,-1.75 0.55,-1.88C0.67,-2.01 0.80,-2.17 0.86,-2.29Z"/>
<path transform="translate(626.0,132.0) scale(5.94,5.6)" d="M0.86,-2.29C0.90,-1.69 1,-0.89 1,0A1,1 0 1 1 -1,0C-1.00,-0.11 -0.99,-0.23 -0.96,-0.35C-0.92,-0.47 -0.89,-0.60 -0.79,-0.73C-0.69,-0.86 -0.52,-0.99 -0.37,-1.12C-0.22,-1.25 -0.02,-1.37 0.13,-1.50C0.28,-1.63 0.43,-1.75 0.55,-1.88C0.67,-2.01 0.80,-2.17 0.86,-2.29Z"/>
<path transform="translate(654.1,145.0) scale(5.94,5.6)" d="M0.86,-2.29C0.90,-1.69 1,-0.89 1,0A1,1 0 1 1 -1,0C-1.00,-0.11 -0.99,-0.23 -0.96,-0.35C-0.92,-0.47 -0.89,-0.60 -0.79,-0.73C-0.69,-0.86 -0.52,-0.99 -0.37,-1.12C-0.22,-1.25 -0.02,-1.37 0.13,-1.50C0.28,-1.63 0.43,-1.75 0.55,-1.88C0.67,-2.01 0.80,-2.17 0.86,-2.29Z"/>
</g>
<g fill="#cfe4f4" clip-path="url(#creamclip)">
<path transform="translate(584.0,36.5) scale(5.94,5.6)" d="M0.86,-2.29C0.90,-1.69 1,-0.89 1,0A1,1 0 1 1 -1,0C-1.00,-0.11 -0.99,-0.23 -0.96,-0.35C-0.92,-0.47 -0.89,-0.60 -0.79,-0.73C-0.69,-0.86 -0.52,-0.99 -0.37,-1.12C-0.22,-1.25 -0.02,-1.37 0.13,-1.50C0.28,-1.63 0.43,-1.75 0.55,-1.88C0.67,-2.01 0.80,-2.17 0.86,-2.29Z"/>
<path transform="translate(617.8,28.7) scale(5.94,5.6)" d="M0.86,-2.29C0.90,-1.69 1,-0.89 1,0A1,1 0 1 1 -1,0C-1.00,-0.11 -0.99,-0.23 -0.96,-0.35C-0.92,-0.47 -0.89,-0.60 -0.79,-0.73C-0.69,-0.86 -0.52,-0.99 -0.37,-1.12C-0.22,-1.25 -0.02,-1.37 0.13,-1.50C0.28,-1.63 0.43,-1.75 0.55,-1.88C0.67,-2.01 0.80,-2.17 0.86,-2.29Z"/>
<path transform="translate(650.3,19.6) scale(5.94,5.6)" d="M0.86,-2.29C0.90,-1.69 1,-0.89 1,0A1,1 0 1 1 -1,0C-1.00,-0.11 -0.99,-0.23 -0.96,-0.35C-0.92,-0.47 -0.89,-0.60 -0.79,-0.73C-0.69,-0.86 -0.52,-0.99 -0.37,-1.12C-0.22,-1.25 -0.02,-1.37 0.13,-1.50C0.28,-1.63 0.43,-1.75 0.55,-1.88C0.67,-2.01 0.80,-2.17 0.86,-2.29Z"/>
<path transform="translate(673.7,36.5) scale(5.94,5.6)" d="M0.86,-2.29C0.90,-1.69 1,-0.89 1,0A1,1 0 1 1 -1,0C-1.00,-0.11 -0.99,-0.23 -0.96,-0.35C-0.92,-0.47 -0.89,-0.60 -0.79,-0.73C-0.69,-0.86 -0.52,-0.99 -0.37,-1.12C-0.22,-1.25 -0.02,-1.37 0.13,-1.50C0.28,-1.63 0.43,-1.75 0.55,-1.88C0.67,-2.01 0.80,-2.17 0.86,-2.29Z"/>
<path transform="translate(604.8,50.8) scale(5.94,5.6)" d="M0.86,-2.29C0.90,-1.69 1,-0.89 1,0A1,1 0 1 1 -1,0C-1.00,-0.11 -0.99,-0.23 -0.96,-0.35C-0.92,-0.47 -0.89,-0.60 -0.79,-0.73C-0.69,-0.86 -0.52,-0.99 -0.37,-1.12C-0.22,-1.25 -0.02,-1.37 0.13,-1.50C0.28,-1.63 0.43,-1.75 0.55,-1.88C0.67,-2.01 0.80,-2.17 0.86,-2.29Z"/>
<path transform="translate(630.8,41.7) scale(5.94,5.6)" d="M0.86,-2.29C0.90,-1.69 1,-0.89 1,0A1,1 0 1 1 -1,0C-1.00,-0.11 -0.99,-0.23 -0.96,-0.35C-0.92,-0.47 -0.89,-0.60 -0.79,-0.73C-0.69,-0.86 -0.52,-0.99 -0.37,-1.12C-0.22,-1.25 -0.02,-1.37 0.13,-1.50C0.28,-1.63 0.43,-1.75 0.55,-1.88C0.67,-2.01 0.80,-2.17 0.86,-2.29Z"/>
<path transform="translate(650.3,48.2) scale(5.94,5.6)" d="M0.86,-2.29C0.90,-1.69 1,-0.89 1,0A1,1 0 1 1 -1,0C-1.00,-0.11 -0.99,-0.23 -0.96,-0.35C-0.92,-0.47 -0.89,-0.60 -0.79,-0.73C-0.69,-0.86 -0.52,-0.99 -0.37,-1.12C-0.22,-1.25 -0.02,-1.37 0.13,-1.50C0.28,-1.63 0.43,-1.75 0.55,-1.88C0.67,-2.01 0.80,-2.17 0.86,-2.29Z"/>
<path transform="translate(587.9,76.8) scale(5.94,5.6)" d="M0.86,-2.29C0.90,-1.69 1,-0.89 1,0A1,1 0 1 1 -1,0C-1.00,-0.11 -0.99,-0.23 -0.96,-0.35C-0.92,-0.47 -0.89,-0.60 -0.79,-0.73C-0.69,-0.86 -0.52,-0.99 -0.37,-1.12C-0.22,-1.25 -0.02,-1.37 0.13,-1.50C0.28,-1.63 0.43,-1.75 0.55,-1.88C0.67,-2.01 0.80,-2.17 0.86,-2.29Z"/>
<path transform="translate(616.5,69.0) scale(5.94,5.6)" d="M0.86,-2.29C0.90,-1.69 1,-0.89 1,0A1,1 0 1 1 -1,0C-1.00,-0.11 -0.99,-0.23 -0.96,-0.35C-0.92,-0.47 -0.89,-0.60 -0.79,-0.73C-0.69,-0.86 -0.52,-0.99 -0.37,-1.12C-0.22,-1.25 -0.02,-1.37 0.13,-1.50C0.28,-1.63 0.43,-1.75 0.55,-1.88C0.67,-2.01 0.80,-2.17 0.86,-2.29Z"/>
<path transform="translate(636.5,69.0) scale(5.94,5.6)" d="M0.86,-2.29C0.90,-1.69 1,-0.89 1,0A1,1 0 1 1 -1,0C-1.00,-0.11 -0.99,-0.23 -0.96,-0.35C-0.92,-0.47 -0.89,-0.60 -0.79,-0.73C-0.69,-0.86 -0.52,-0.99 -0.37,-1.12C-0.22,-1.25 -0.02,-1.37 0.13,-1.50C0.28,-1.63 0.43,-1.75 0.55,-1.88C0.67,-2.01 0.80,-2.17 0.86,-2.29Z"/>
<path transform="translate(664.6,82.0) scale(5.94,5.6)" d="M0.86,-2.29C0.90,-1.69 1,-0.89 1,0A1,1 0 1 1 -1,0C-1.00,-0.11 -0.99,-0.23 -0.96,-0.35C-0.92,-0.47 -0.89,-0.60 -0.79,-0.73C-0.69,-0.86 -0.52,-0.99 -0.37,-1.12C-0.22,-1.25 -0.02,-1.37 0.13,-1.50C0.28,-1.63 0.43,-1.75 0.55,-1.88C0.67,-2.01 0.80,-2.17 0.86,-2.29Z"/>
</g>
<g fill="#cfe4f4" clip-path="url(#creamclip)">
<path transform="translate(662.8,89.0) scale(5.94,5.6)" d="M0.86,-2.29C0.90,-1.69 1,-0.89 1,0A1,1 0 1 1 -1,0C-1.00,-0.11 -0.99,-0.23 -0.96,-0.35C-0.92,-0.47 -0.89,-0.60 -0.79,-0.73C-0.69,-0.86 -0.52,-0.99 -0.37,-1.12C-0.22,-1.25 -0.02,-1.37 0.13,-1.50C0.28,-1.63 0.43,-1.75 0.55,-1.88C0.67,-2.01 0.80,-2.17 0.86,-2.29Z"/>
<path transform="translate(696.6,81.2) scale(5.94,5.6)" d="M0.86,-2.29C0.90,-1.69 1,-0.89 1,0A1,1 0 1 1 -1,0C-1.00,-0.11 -0.99,-0.23 -0.96,-0.35C-0.92,-0.47 -0.89,-0.60 -0.79,-0.73C-0.69,-0.86 -0.52,-0.99 -0.37,-1.12C-0.22,-1.25 -0.02,-1.37 0.13,-1.50C0.28,-1.63 0.43,-1.75 0.55,-1.88C0.67,-2.01 0.80,-2.17 0.86,-2.29Z"/>
<path transform="translate(729.1,72.1) scale(5.94,5.6)" d="M0.86,-2.29C0.90,-1.69 1,-0.89 1,0A1,1 0 1 1 -1,0C-1.00,-0.11 -0.99,-0.23 -0.96,-0.35C-0.92,-0.47 -0.89,-0.60 -0.79,-0.73C-0.69,-0.86 -0.52,-0.99 -0.37,-1.12C-0.22,-1.25 -0.02,-1.37 0.13,-1.50C0.28,-1.63 0.43,-1.75 0.55,-1.88C0.67,-2.01 0.80,-2.17 0.86,-2.29Z"/>
<path transform="translate(752.5,89.0) scale(5.94,5.6)" d="M0.86,-2.29C0.90,-1.69 1,-0.89 1,0A1,1 0 1 1 -1,0C-1.00,-0.11 -0.99,-0.23 -0.96,-0.35C-0.92,-0.47 -0.89,-0.60 -0.79,-0.73C-0.69,-0.86 -0.52,-0.99 -0.37,-1.12C-0.22,-1.25 -0.02,-1.37 0.13,-1.50C0.28,-1.63 0.43,-1.75 0.55,-1.88C0.67,-2.01 0.80,-2.17 0.86,-2.29Z"/>
<path transform="translate(683.6,103.3) scale(5.94,5.6)" d="M0.86,-2.29C0.90,-1.69 1,-0.89 1,0A1,1 0 1 1 -1,0C-1.00,-0.11 -0.99,-0.23 -0.96,-0.35C-0.92,-0.47 -0.89,-0.60 -0.79,-0.73C-0.69,-0.86 -0.52,-0.99 -0.37,-1.12C-0.22,-1.25 -0.02,-1.37 0.13,-1.50C0.28,-1.63 0.43,-1.75 0.55,-1.88C0.67,-2.01 0.80,-2.17 0.86,-2.29Z"/>
<path transform="translate(709.6,94.2) scale(5.94,5.6)" d="M0.86,-2.29C0.90,-1.69 1,-0.89 1,0A1,1 0 1 1 -1,0C-1.00,-0.11 -0.99,-0.23 -0.96,-0.35C-0.92,-0.47 -0.89,-0.60 -0.79,-0.73C-0.69,-0.86 -0.52,-0.99 -0.37,-1.12C-0.22,-1.25 -0.02,-1.37 0.13,-1.50C0.28,-1.63 0.43,-1.75 0.55,-1.88C0.67,-2.01 0.80,-2.17 0.86,-2.29Z"/>
<path transform="translate(729.1,100.7) scale(5.94,5.6)" d="M0.86,-2.29C0.90,-1.69 1,-0.89 1,0A1,1 0 1 1 -1,0C-1.00,-0.11 -0.99,-0.23 -0.96,-0.35C-0.92,-0.47 -0.89,-0.60 -0.79,-0.73C-0.69,-0.86 -0.52,-0.99 -0.37,-1.12C-0.22,-1.25 -0.02,-1.37 0.13,-1.50C0.28,-1.63 0.43,-1.75 0.55,-1.88C0.67,-2.01 0.80,-2.17 0.86,-2.29Z"/>
<path transform="translate(666.7,129.3) scale(5.94,5.6)" d="M0.86,-2.29C0.90,-1.69 1,-0.89 1,0A1,1 0 1 1 -1,0C-1.00,-0.11 -0.99,-0.23 -0.96,-0.35C-0.92,-0.47 -0.89,-0.60 -0.79,-0.73C-0.69,-0.86 -0.52,-0.99 -0.37,-1.12C-0.22,-1.25 -0.02,-1.37 0.13,-1.50C0.28,-1.63 0.43,-1.75 0.55,-1.88C0.67,-2.01 0.80,-2.17 0.86,-2.29Z"/>
<path transform="translate(695.3,121.5) scale(5.94,5.6)" d="M0.86,-2.29C0.90,-1.69 1,-0.89 1,0A1,1 0 1 1 -1,0C-1.00,-0.11 -0.99,-0.23 -0.96,-0.35C-0.92,-0.47 -0.89,-0.60 -0.79,-0.73C-0.69,-0.86 -0.52,-0.99 -0.37,-1.12C-0.22,-1.25 -0.02,-1.37 0.13,-1.50C0.28,-1.63 0.43,-1.75 0.55,-1.88C0.67,-2.01 0.80,-2.17 0.86,-2.29Z"/>
<path transform="translate(715.3,121.5) scale(5.94,5.6)" d="M0.86,-2.29C0.90,-1.69 1,-0.89 1,0A1,1 0 1 1 -1,0C-1.00,-0.11 -0.99,-0.23 -0.96,-0.35C-0.92,-0.47 -0.89,-0.60 -0.79,-0.73C-0.69,-0.86 -0.52,-0.99 -0.37,-1.12C-0.22,-1.25 -0.02,-1.37 0.13,-1.50C0.28,-1.63 0.43,-1.75 0.55,-1.88C0.67,-2.01 0.80,-2.17 0.86,-2.29Z"/>
<path transform="translate(743.4,134.5) scale(5.94,5.6)" d="M0.86,-2.29C0.90,-1.69 1,-0.89 1,0A1,1 0 1 1 -1,0C-1.00,-0.11 -0.99,-0.23 -0.96,-0.35C-0.92,-0.47 -0.89,-0.60 -0.79,-0.73C-0.69,-0.86 -0.52,-0.99 -0.37,-1.12C-0.22,-1.25 -0.02,-1.37 0.13,-1.50C0.28,-1.63 0.43,-1.75 0.55,-1.88C0.67,-2.01 0.80,-2.17 0.86,-2.29Z"/>
</g>
<g fill="#cfe4f4" clip-path="url(#creamclip)">
<path transform="translate(764.7,62.0) scale(5.94,5.6)" d="M0.86,-2.29C0.90,-1.69 1,-0.89 1,0A1,1 0 1 1 -1,0C-1.00,-0.11 -0.99,-0.23 -0.96,-0.35C-0.92,-0.47 -0.89,-0.60 -0.79,-0.73C-0.69,-0.86 -0.52,-0.99 -0.37,-1.12C-0.22,-1.25 -0.02,-1.37 0.13,-1.50C0.28,-1.63 0.43,-1.75 0.55,-1.88C0.67,-2.01 0.80,-2.17 0.86,-2.29Z"/>
<path transform="translate(798.5,54.2) scale(5.94,5.6)" d="M0.86,-2.29C0.90,-1.69 1,-0.89 1,0A1,1 0 1 1 -1,0C-1.00,-0.11 -0.99,-0.23 -0.96,-0.35C-0.92,-0.47 -0.89,-0.60 -0.79,-0.73C-0.69,-0.86 -0.52,-0.99 -0.37,-1.12C-0.22,-1.25 -0.02,-1.37 0.13,-1.50C0.28,-1.63 0.43,-1.75 0.55,-1.88C0.67,-2.01 0.80,-2.17 0.86,-2.29Z"/>
<path transform="translate(831.0,45.1) scale(5.94,5.6)" d="M0.86,-2.29C0.90,-1.69 1,-0.89 1,0A1,1 0 1 1 -1,0C-1.00,-0.11 -0.99,-0.23 -0.96,-0.35C-0.92,-0.47 -0.89,-0.60 -0.79,-0.73C-0.69,-0.86 -0.52,-0.99 -0.37,-1.12C-0.22,-1.25 -0.02,-1.37 0.13,-1.50C0.28,-1.63 0.43,-1.75 0.55,-1.88C0.67,-2.01 0.80,-2.17 0.86,-2.29Z"/>
<path transform="translate(854.4,62.0) scale(5.94,5.6)" d="M0.86,-2.29C0.90,-1.69 1,-0.89 1,0A1,1 0 1 1 -1,0C-1.00,-0.11 -0.99,-0.23 -0.96,-0.35C-0.92,-0.47 -0.89,-0.60 -0.79,-0.73C-0.69,-0.86 -0.52,-0.99 -0.37,-1.12C-0.22,-1.25 -0.02,-1.37 0.13,-1.50C0.28,-1.63 0.43,-1.75 0.55,-1.88C0.67,-2.01 0.80,-2.17 0.86,-2.29Z"/>
<path transform="translate(785.5,76.3) scale(5.94,5.6)" d="M0.86,-2.29C0.90,-1.69 1,-0.89 1,0A1,1 0 1 1 -1,0C-1.00,-0.11 -0.99,-0.23 -0.96,-0.35C-0.92,-0.47 -0.89,-0.60 -0.79,-0.73C-0.69,-0.86 -0.52,-0.99 -0.37,-1.12C-0.22,-1.25 -0.02,-1.37 0.13,-1.50C0.28,-1.63 0.43,-1.75 0.55,-1.88C0.67,-2.01 0.80,-2.17 0.86,-2.29Z"/>
<path transform="translate(811.5,67.2) scale(5.94,5.6)" d="M0.86,-2.29C0.90,-1.69 1,-0.89 1,0A1,1 0 1 1 -1,0C-1.00,-0.11 -0.99,-0.23 -0.96,-0.35C-0.92,-0.47 -0.89,-0.60 -0.79,-0.73C-0.69,-0.86 -0.52,-0.99 -0.37,-1.12C-0.22,-1.25 -0.02,-1.37 0.13,-1.50C0.28,-1.63 0.43,-1.75 0.55,-1.88C0.67,-2.01 0.80,-2.17 0.86,-2.29Z"/>
<path transform="translate(831.0,73.7) scale(5.94,5.6)" d="M0.86,-2.29C0.90,-1.69 1,-0.89 1,0A1,1 0 1 1 -1,0C-1.00,-0.11 -0.99,-0.23 -0.96,-0.35C-0.92,-0.47 -0.89,-0.60 -0.79,-0.73C-0.69,-0.86 -0.52,-0.99 -0.37,-1.12C-0.22,-1.25 -0.02,-1.37 0.13,-1.50C0.28,-1.63 0.43,-1.75 0.55,-1.88C0.67,-2.01 0.80,-2.17 0.86,-2.29Z"/>
<path transform="translate(768.6,102.3) scale(5.94,5.6)" d="M0.86,-2.29C0.90,-1.69 1,-0.89 1,0A1,1 0 1 1 -1,0C-1.00,-0.11 -0.99,-0.23 -0.96,-0.35C-0.92,-0.47 -0.89,-0.60 -0.79,-0.73C-0.69,-0.86 -0.52,-0.99 -0.37,-1.12C-0.22,-1.25 -0.02,-1.37 0.13,-1.50C0.28,-1.63 0.43,-1.75 0.55,-1.88C0.67,-2.01 0.80,-2.17 0.86,-2.29Z"/>
<path transform="translate(797.2,94.5) scale(5.94,5.6)" d="M0.86,-2.29C0.90,-1.69 1,-0.89 1,0A1,1 0 1 1 -1,0C-1.00,-0.11 -0.99,-0.23 -0.96,-0.35C-0.92,-0.47 -0.89,-0.60 -0.79,-0.73C-0.69,-0.86 -0.52,-0.99 -0.37,-1.12C-0.22,-1.25 -0.02,-1.37 0.13,-1.50C0.28,-1.63 0.43,-1.75 0.55,-1.88C0.67,-2.01 0.80,-2.17 0.86,-2.29Z"/>
<path transform="translate(817.2,94.5) scale(5.94,5.6)" d="M0.86,-2.29C0.90,-1.69 1,-0.89 1,0A1,1 0 1 1 -1,0C-1.00,-0.11 -0.99,-0.23 -0.96,-0.35C-0.92,-0.47 -0.89,-0.60 -0.79,-0.73C-0.69,-0.86 -0.52,-0.99 -0.37,-1.12C-0.22,-1.25 -0.02,-1.37 0.13,-1.50C0.28,-1.63 0.43,-1.75 0.55,-1.88C0.67,-2.01 0.80,-2.17 0.86,-2.29Z"/>
<path transform="translate(845.3,107.5) scale(5.94,5.6)" d="M0.86,-2.29C0.90,-1.69 1,-0.89 1,0A1,1 0 1 1 -1,0C-1.00,-0.11 -0.99,-0.23 -0.96,-0.35C-0.92,-0.47 -0.89,-0.60 -0.79,-0.73C-0.69,-0.86 -0.52,-0.99 -0.37,-1.12C-0.22,-1.25 -0.02,-1.37 0.13,-1.50C0.28,-1.63 0.43,-1.75 0.55,-1.88C0.67,-2.01 0.80,-2.17 0.86,-2.29Z"/>
</g>
<g fill="#cfe4f4" clip-path="url(#creamclip)">
<path transform="translate(893.4,37.3) scale(5.94,5.6)" d="M0.86,-2.29C0.90,-1.69 1,-0.89 1,0A1,1 0 1 1 -1,0C-1.00,-0.11 -0.99,-0.23 -0.96,-0.35C-0.92,-0.47 -0.89,-0.60 -0.79,-0.73C-0.69,-0.86 -0.52,-0.99 -0.37,-1.12C-0.22,-1.25 -0.02,-1.37 0.13,-1.50C0.28,-1.63 0.43,-1.75 0.55,-1.88C0.67,-2.01 0.80,-2.17 0.86,-2.29Z"/>
<path transform="translate(927.2,29.5) scale(5.94,5.6)" d="M0.86,-2.29C0.90,-1.69 1,-0.89 1,0A1,1 0 1 1 -1,0C-1.00,-0.11 -0.99,-0.23 -0.96,-0.35C-0.92,-0.47 -0.89,-0.60 -0.79,-0.73C-0.69,-0.86 -0.52,-0.99 -0.37,-1.12C-0.22,-1.25 -0.02,-1.37 0.13,-1.50C0.28,-1.63 0.43,-1.75 0.55,-1.88C0.67,-2.01 0.80,-2.17 0.86,-2.29Z"/>
<path transform="translate(959.7,20.4) scale(5.94,5.6)" d="M0.86,-2.29C0.90,-1.69 1,-0.89 1,0A1,1 0 1 1 -1,0C-1.00,-0.11 -0.99,-0.23 -0.96,-0.35C-0.92,-0.47 -0.89,-0.60 -0.79,-0.73C-0.69,-0.86 -0.52,-0.99 -0.37,-1.12C-0.22,-1.25 -0.02,-1.37 0.13,-1.50C0.28,-1.63 0.43,-1.75 0.55,-1.88C0.67,-2.01 0.80,-2.17 0.86,-2.29Z"/>
<path transform="translate(983.1,37.3) scale(5.94,5.6)" d="M0.86,-2.29C0.90,-1.69 1,-0.89 1,0A1,1 0 1 1 -1,0C-1.00,-0.11 -0.99,-0.23 -0.96,-0.35C-0.92,-0.47 -0.89,-0.60 -0.79,-0.73C-0.69,-0.86 -0.52,-0.99 -0.37,-1.12C-0.22,-1.25 -0.02,-1.37 0.13,-1.50C0.28,-1.63 0.43,-1.75 0.55,-1.88C0.67,-2.01 0.80,-2.17 0.86,-2.29Z"/>
<path transform="translate(914.2,51.6) scale(5.94,5.6)" d="M0.86,-2.29C0.90,-1.69 1,-0.89 1,0A1,1 0 1 1 -1,0C-1.00,-0.11 -0.99,-0.23 -0.96,-0.35C-0.92,-0.47 -0.89,-0.60 -0.79,-0.73C-0.69,-0.86 -0.52,-0.99 -0.37,-1.12C-0.22,-1.25 -0.02,-1.37 0.13,-1.50C0.28,-1.63 0.43,-1.75 0.55,-1.88C0.67,-2.01 0.80,-2.17 0.86,-2.29Z"/>
<path transform="translate(940.2,42.5) scale(5.94,5.6)" d="M0.86,-2.29C0.90,-1.69 1,-0.89 1,0A1,1 0 1 1 -1,0C-1.00,-0.11 -0.99,-0.23 -0.96,-0.35C-0.92,-0.47 -0.89,-0.60 -0.79,-0.73C-0.69,-0.86 -0.52,-0.99 -0.37,-1.12C-0.22,-1.25 -0.02,-1.37 0.13,-1.50C0.28,-1.63 0.43,-1.75 0.55,-1.88C0.67,-2.01 0.80,-2.17 0.86,-2.29Z"/>
<path transform="translate(959.7,49.0) scale(5.94,5.6)" d="M0.86,-2.29C0.90,-1.69 1,-0.89 1,0A1,1 0 1 1 -1,0C-1.00,-0.11 -0.99,-0.23 -0.96,-0.35C-0.92,-0.47 -0.89,-0.60 -0.79,-0.73C-0.69,-0.86 -0.52,-0.99 -0.37,-1.12C-0.22,-1.25 -0.02,-1.37 0.13,-1.50C0.28,-1.63 0.43,-1.75 0.55,-1.88C0.67,-2.01 0.80,-2.17 0.86,-2.29Z"/>
<path transform="translate(897.3,77.6) scale(5.94,5.6)" d="M0.86,-2.29C0.90,-1.69 1,-0.89 1,0A1,1 0 1 1 -1,0C-1.00,-0.11 -0.99,-0.23 -0.96,-0.35C-0.92,-0.47 -0.89,-0.60 -0.79,-0.73C-0.69,-0.86 -0.52,-0.99 -0.37,-1.12C-0.22,-1.25 -0.02,-1.37 0.13,-1.50C0.28,-1.63 0.43,-1.75 0.55,-1.88C0.67,-2.01 0.80,-2.17 0.86,-2.29Z"/>
<path transform="translate(925.9,69.8) scale(5.94,5.6)" d="M0.86,-2.29C0.90,-1.69 1,-0.89 1,0A1,1 0 1 1 -1,0C-1.00,-0.11 -0.99,-0.23 -0.96,-0.35C-0.92,-0.47 -0.89,-0.60 -0.79,-0.73C-0.69,-0.86 -0.52,-0.99 -0.37,-1.12C-0.22,-1.25 -0.02,-1.37 0.13,-1.50C0.28,-1.63 0.43,-1.75 0.55,-1.88C0.67,-2.01 0.80,-2.17 0.86,-2.29Z"/>
<path transform="translate(945.9,69.8) scale(5.94,5.6)" d="M0.86,-2.29C0.90,-1.69 1,-0.89 1,0A1,1 0 1 1 -1,0C-1.00,-0.11 -0.99,-0.23 -0.96,-0.35C-0.92,-0.47 -0.89,-0.60 -0.79,-0.73C-0.69,-0.86 -0.52,-0.99 -0.37,-1.12C-0.22,-1.25 -0.02,-1.37 0.13,-1.50C0.28,-1.63 0.43,-1.75 0.55,-1.88C0.67,-2.01 0.80,-2.17 0.86,-2.29Z"/>
<path transform="translate(974.0,82.8) scale(5.94,5.6)" d="M0.86,-2.29C0.90,-1.69 1,-0.89 1,0A1,1 0 1 1 -1,0C-1.00,-0.11 -0.99,-0.23 -0.96,-0.35C-0.92,-0.47 -0.89,-0.60 -0.79,-0.73C-0.69,-0.86 -0.52,-0.99 -0.37,-1.12C-0.22,-1.25 -0.02,-1.37 0.13,-1.50C0.28,-1.63 0.43,-1.75 0.55,-1.88C0.67,-2.01 0.80,-2.17 0.86,-2.29Z"/>
</g>
<g fill="#cfe4f4" clip-path="url(#creamclip)">
<path transform="translate(881.7,117.9) scale(5.94,5.6)" d="M0.86,-2.29C0.90,-1.69 1,-0.89 1,0A1,1 0 1 1 -1,0C-1.00,-0.11 -0.99,-0.23 -0.96,-0.35C-0.92,-0.47 -0.89,-0.60 -0.79,-0.73C-0.69,-0.86 -0.52,-0.99 -0.37,-1.12C-0.22,-1.25 -0.02,-1.37 0.13,-1.50C0.28,-1.63 0.43,-1.75 0.55,-1.88C0.67,-2.01 0.80,-2.17 0.86,-2.29Z"/>
<path transform="translate(915.5,110.1) scale(5.94,5.6)" d="M0.86,-2.29C0.90,-1.69 1,-0.89 1,0A1,1 0 1 1 -1,0C-1.00,-0.11 -0.99,-0.23 -0.96,-0.35C-0.92,-0.47 -0.89,-0.60 -0.79,-0.73C-0.69,-0.86 -0.52,-0.99 -0.37,-1.12C-0.22,-1.25 -0.02,-1.37 0.13,-1.50C0.28,-1.63 0.43,-1.75 0.55,-1.88C0.67,-2.01 0.80,-2.17 0.86,-2.29Z"/>
<path transform="translate(948.0,101.0) scale(5.94,5.6)" d="M0.86,-2.29C0.90,-1.69 1,-0.89 1,0A1,1 0 1 1 -1,0C-1.00,-0.11 -0.99,-0.23 -0.96,-0.35C-0.92,-0.47 -0.89,-0.60 -0.79,-0.73C-0.69,-0.86 -0.52,-0.99 -0.37,-1.12C-0.22,-1.25 -0.02,-1.37 0.13,-1.50C0.28,-1.63 0.43,-1.75 0.55,-1.88C0.67,-2.01 0.80,-2.17 0.86,-2.29Z"/>
<path transform="translate(971.4,117.9) scale(5.94,5.6)" d="M0.86,-2.29C0.90,-1.69 1,-0.89 1,0A1,1 0 1 1 -1,0C-1.00,-0.11 -0.99,-0.23 -0.96,-0.35C-0.92,-0.47 -0.89,-0.60 -0.79,-0.73C-0.69,-0.86 -0.52,-0.99 -0.37,-1.12C-0.22,-1.25 -0.02,-1.37 0.13,-1.50C0.28,-1.63 0.43,-1.75 0.55,-1.88C0.67,-2.01 0.80,-2.17 0.86,-2.29Z"/>
<path transform="translate(902.5,132.2) scale(5.94,5.6)" d="M0.86,-2.29C0.90,-1.69 1,-0.89 1,0A1,1 0 1 1 -1,0C-1.00,-0.11 -0.99,-0.23 -0.96,-0.35C-0.92,-0.47 -0.89,-0.60 -0.79,-0.73C-0.69,-0.86 -0.52,-0.99 -0.37,-1.12C-0.22,-1.25 -0.02,-1.37 0.13,-1.50C0.28,-1.63 0.43,-1.75 0.55,-1.88C0.67,-2.01 0.80,-2.17 0.86,-2.29Z"/>
<path transform="translate(928.5,123.1) scale(5.94,5.6)" d="M0.86,-2.29C0.90,-1.69 1,-0.89 1,0A1,1 0 1 1 -1,0C-1.00,-0.11 -0.99,-0.23 -0.96,-0.35C-0.92,-0.47 -0.89,-0.60 -0.79,-0.73C-0.69,-0.86 -0.52,-0.99 -0.37,-1.12C-0.22,-1.25 -0.02,-1.37 0.13,-1.50C0.28,-1.63 0.43,-1.75 0.55,-1.88C0.67,-2.01 0.80,-2.17 0.86,-2.29Z"/>
<path transform="translate(948.0,129.6) scale(5.94,5.6)" d="M0.86,-2.29C0.90,-1.69 1,-0.89 1,0A1,1 0 1 1 -1,0C-1.00,-0.11 -0.99,-0.23 -0.96,-0.35C-0.92,-0.47 -0.89,-0.60 -0.79,-0.73C-0.69,-0.86 -0.52,-0.99 -0.37,-1.12C-0.22,-1.25 -0.02,-1.37 0.13,-1.50C0.28,-1.63 0.43,-1.75 0.55,-1.88C0.67,-2.01 0.80,-2.17 0.86,-2.29Z"/>
<path transform="translate(885.6,158.2) scale(5.94,5.6)" d="M0.86,-2.29C0.90,-1.69 1,-0.89 1,0A1,1 0 1 1 -1,0C-1.00,-0.11 -0.99,-0.23 -0.96,-0.35C-0.92,-0.47 -0.89,-0.60 -0.79,-0.73C-0.69,-0.86 -0.52,-0.99 -0.37,-1.12C-0.22,-1.25 -0.02,-1.37 0.13,-1.50C0.28,-1.63 0.43,-1.75 0.55,-1.88C0.67,-2.01 0.80,-2.17 0.86,-2.29Z"/>
<path transform="translate(914.2,150.4) scale(5.94,5.6)" d="M0.86,-2.29C0.90,-1.69 1,-0.89 1,0A1,1 0 1 1 -1,0C-1.00,-0.11 -0.99,-0.23 -0.96,-0.35C-0.92,-0.47 -0.89,-0.60 -0.79,-0.73C-0.69,-0.86 -0.52,-0.99 -0.37,-1.12C-0.22,-1.25 -0.02,-1.37 0.13,-1.50C0.28,-1.63 0.43,-1.75 0.55,-1.88C0.67,-2.01 0.80,-2.17 0.86,-2.29Z"/>
<path transform="translate(934.2,150.4) scale(5.94,5.6)" d="M0.86,-2.29C0.90,-1.69 1,-0.89 1,0A1,1 0 1 1 -1,0C-1.00,-0.11 -0.99,-0.23 -0.96,-0.35C-0.92,-0.47 -0.89,-0.60 -0.79,-0.73C-0.69,-0.86 -0.52,-0.99 -0.37,-1.12C-0.22,-1.25 -0.02,-1.37 0.13,-1.50C0.28,-1.63 0.43,-1.75 0.55,-1.88C0.67,-2.01 0.80,-2.17 0.86,-2.29Z"/>
<path transform="translate(962.3,163.4) scale(5.94,5.6)" d="M0.86,-2.29C0.90,-1.69 1,-0.89 1,0A1,1 0 1 1 -1,0C-1.00,-0.11 -0.99,-0.23 -0.96,-0.35C-0.92,-0.47 -0.89,-0.60 -0.79,-0.73C-0.69,-0.86 -0.52,-0.99 -0.37,-1.12C-0.22,-1.25 -0.02,-1.37 0.13,-1.50C0.28,-1.63 0.43,-1.75 0.55,-1.88C0.67,-2.01 0.80,-2.17 0.86,-2.29Z"/>
</g>
<g fill="#cfe4f4" clip-path="url(#creamclip)">
<path transform="translate(860.0,194.0) scale(5.94,5.6)" d="M0.86,-2.29C0.90,-1.69 1,-0.89 1,0A1,1 0 1 1 -1,0C-1.00,-0.11 -0.99,-0.23 -0.96,-0.35C-0.92,-0.47 -0.89,-0.60 -0.79,-0.73C-0.69,-0.86 -0.52,-0.99 -0.37,-1.12C-0.22,-1.25 -0.02,-1.37 0.13,-1.50C0.28,-1.63 0.43,-1.75 0.55,-1.88C0.67,-2.01 0.80,-2.17 0.86,-2.29Z"/>
<path transform="translate(893.8,186.2) scale(5.94,5.6)" d="M0.86,-2.29C0.90,-1.69 1,-0.89 1,0A1,1 0 1 1 -1,0C-1.00,-0.11 -0.99,-0.23 -0.96,-0.35C-0.92,-0.47 -0.89,-0.60 -0.79,-0.73C-0.69,-0.86 -0.52,-0.99 -0.37,-1.12C-0.22,-1.25 -0.02,-1.37 0.13,-1.50C0.28,-1.63 0.43,-1.75 0.55,-1.88C0.67,-2.01 0.80,-2.17 0.86,-2.29Z"/>
<path transform="translate(926.3,177.1) scale(5.94,5.6)" d="M0.86,-2.29C0.90,-1.69 1,-0.89 1,0A1,1 0 1 1 -1,0C-1.00,-0.11 -0.99,-0.23 -0.96,-0.35C-0.92,-0.47 -0.89,-0.60 -0.79,-0.73C-0.69,-0.86 -0.52,-0.99 -0.37,-1.12C-0.22,-1.25 -0.02,-1.37 0.13,-1.50C0.28,-1.63 0.43,-1.75 0.55,-1.88C0.67,-2.01 0.80,-2.17 0.86,-2.29Z"/>
<path transform="translate(949.7,194.0) scale(5.94,5.6)" d="M0.86,-2.29C0.90,-1.69 1,-0.89 1,0A1,1 0 1 1 -1,0C-1.00,-0.11 -0.99,-0.23 -0.96,-0.35C-0.92,-0.47 -0.89,-0.60 -0.79,-0.73C-0.69,-0.86 -0.52,-0.99 -0.37,-1.12C-0.22,-1.25 -0.02,-1.37 0.13,-1.50C0.28,-1.63 0.43,-1.75 0.55,-1.88C0.67,-2.01 0.80,-2.17 0.86,-2.29Z"/>
<path transform="translate(880.8,208.3) scale(5.94,5.6)" d="M0.86,-2.29C0.90,-1.69 1,-0.89 1,0A1,1 0 1 1 -1,0C-1.00,-0.11 -0.99,-0.23 -0.96,-0.35C-0.92,-0.47 -0.89,-0.60 -0.79,-0.73C-0.69,-0.86 -0.52,-0.99 -0.37,-1.12C-0.22,-1.25 -0.02,-1.37 0.13,-1.50C0.28,-1.63 0.43,-1.75 0.55,-1.88C0.67,-2.01 0.80,-2.17 0.86,-2.29Z"/>
<path transform="translate(906.8,199.2) scale(5.94,5.6)" d="M0.86,-2.29C0.90,-1.69 1,-0.89 1,0A1,1 0 1 1 -1,0C-1.00,-0.11 -0.99,-0.23 -0.96,-0.35C-0.92,-0.47 -0.89,-0.60 -0.79,-0.73C-0.69,-0.86 -0.52,-0.99 -0.37,-1.12C-0.22,-1.25 -0.02,-1.37 0.13,-1.50C0.28,-1.63 0.43,-1.75 0.55,-1.88C0.67,-2.01 0.80,-2.17 0.86,-2.29Z"/>
<path transform="translate(926.3,205.7) scale(5.94,5.6)" d="M0.86,-2.29C0.90,-1.69 1,-0.89 1,0A1,1 0 1 1 -1,0C-1.00,-0.11 -0.99,-0.23 -0.96,-0.35C-0.92,-0.47 -0.89,-0.60 -0.79,-0.73C-0.69,-0.86 -0.52,-0.99 -0.37,-1.12C-0.22,-1.25 -0.02,-1.37 0.13,-1.50C0.28,-1.63 0.43,-1.75 0.55,-1.88C0.67,-2.01 0.80,-2.17 0.86,-2.29Z"/>
<path transform="translate(863.9,234.3) scale(5.94,5.6)" d="M0.86,-2.29C0.90,-1.69 1,-0.89 1,0A1,1 0 1 1 -1,0C-1.00,-0.11 -0.99,-0.23 -0.96,-0.35C-0.92,-0.47 -0.89,-0.60 -0.79,-0.73C-0.69,-0.86 -0.52,-0.99 -0.37,-1.12C-0.22,-1.25 -0.02,-1.37 0.13,-1.50C0.28,-1.63 0.43,-1.75 0.55,-1.88C0.67,-2.01 0.80,-2.17 0.86,-2.29Z"/>
<path transform="translate(892.5,226.5) scale(5.94,5.6)" d="M0.86,-2.29C0.90,-1.69 1,-0.89 1,0A1,1 0 1 1 -1,0C-1.00,-0.11 -0.99,-0.23 -0.96,-0.35C-0.92,-0.47 -0.89,-0.60 -0.79,-0.73C-0.69,-0.86 -0.52,-0.99 -0.37,-1.12C-0.22,-1.25 -0.02,-1.37 0.13,-1.50C0.28,-1.63 0.43,-1.75 0.55,-1.88C0.67,-2.01 0.80,-2.17 0.86,-2.29Z"/>
<path transform="translate(912.5,226.5) scale(5.94,5.6)" d="M0.86,-2.29C0.90,-1.69 1,-0.89 1,0A1,1 0 1 1 -1,0C-1.00,-0.11 -0.99,-0.23 -0.96,-0.35C-0.92,-0.47 -0.89,-0.60 -0.79,-0.73C-0.69,-0.86 -0.52,-0.99 -0.37,-1.12C-0.22,-1.25 -0.02,-1.37 0.13,-1.50C0.28,-1.63 0.43,-1.75 0.55,-1.88C0.67,-2.01 0.80,-2.17 0.86,-2.29Z"/>
<path transform="translate(940.6,239.5) scale(5.94,5.6)" d="M0.86,-2.29C0.90,-1.69 1,-0.89 1,0A1,1 0 1 1 -1,0C-1.00,-0.11 -0.99,-0.23 -0.96,-0.35C-0.92,-0.47 -0.89,-0.60 -0.79,-0.73C-0.69,-0.86 -0.52,-0.99 -0.37,-1.12C-0.22,-1.25 -0.02,-1.37 0.13,-1.50C0.28,-1.63 0.43,-1.75 0.55,-1.88C0.67,-2.01 0.80,-2.17 0.86,-2.29Z"/>
</g>
<g fill="#cfe4f4" clip-path="url(#creamclip)">
<path transform="translate(661.2,221.5) scale(5.94,5.6)" d="M0.86,-2.29C0.90,-1.69 1,-0.89 1,0A1,1 0 1 1 -1,0C-1.00,-0.11 -0.99,-0.23 -0.96,-0.35C-0.92,-0.47 -0.89,-0.60 -0.79,-0.73C-0.69,-0.86 -0.52,-0.99 -0.37,-1.12C-0.22,-1.25 -0.02,-1.37 0.13,-1.50C0.28,-1.63 0.43,-1.75 0.55,-1.88C0.67,-2.01 0.80,-2.17 0.86,-2.29Z"/>
<path transform="translate(695.0,213.7) scale(5.94,5.6)" d="M0.86,-2.29C0.90,-1.69 1,-0.89 1,0A1,1 0 1 1 -1,0C-1.00,-0.11 -0.99,-0.23 -0.96,-0.35C-0.92,-0.47 -0.89,-0.60 -0.79,-0.73C-0.69,-0.86 -0.52,-0.99 -0.37,-1.12C-0.22,-1.25 -0.02,-1.37 0.13,-1.50C0.28,-1.63 0.43,-1.75 0.55,-1.88C0.67,-2.01 0.80,-2.17 0.86,-2.29Z"/>
<path transform="translate(727.5,204.6) scale(5.94,5.6)" d="M0.86,-2.29C0.90,-1.69 1,-0.89 1,0A1,1 0 1 1 -1,0C-1.00,-0.11 -0.99,-0.23 -0.96,-0.35C-0.92,-0.47 -0.89,-0.60 -0.79,-0.73C-0.69,-0.86 -0.52,-0.99 -0.37,-1.12C-0.22,-1.25 -0.02,-1.37 0.13,-1.50C0.28,-1.63 0.43,-1.75 0.55,-1.88C0.67,-2.01 0.80,-2.17 0.86,-2.29Z"/>
<path transform="translate(750.9,221.5) scale(5.94,5.6)" d="M0.86,-2.29C0.90,-1.69 1,-0.89 1,0A1,1 0 1 1 -1,0C-1.00,-0.11 -0.99,-0.23 -0.96,-0.35C-0.92,-0.47 -0.89,-0.60 -0.79,-0.73C-0.69,-0.86 -0.52,-0.99 -0.37,-1.12C-0.22,-1.25 -0.02,-1.37 0.13,-1.50C0.28,-1.63 0.43,-1.75 0.55,-1.88C0.67,-2.01 0.80,-2.17 0.86,-2.29Z"/>
<path transform="translate(682.0,235.8) scale(5.94,5.6)" d="M0.86,-2.29C0.90,-1.69 1,-0.89 1,0A1,1 0 1 1 -1,0C-1.00,-0.11 -0.99,-0.23 -0.96,-0.35C-0.92,-0.47 -0.89,-0.60 -0.79,-0.73C-0.69,-0.86 -0.52,-0.99 -0.37,-1.12C-0.22,-1.25 -0.02,-1.37 0.13,-1.50C0.28,-1.63 0.43,-1.75 0.55,-1.88C0.67,-2.01 0.80,-2.17 0.86,-2.29Z"/>
<path transform="translate(708.0,226.7) scale(5.94,5.6)" d="M0.86,-2.29C0.90,-1.69 1,-0.89 1,0A1,1 0 1 1 -1,0C-1.00,-0.11 -0.99,-0.23 -0.96,-0.35C-0.92,-0.47 -0.89,-0.60 -0.79,-0.73C-0.69,-0.86 -0.52,-0.99 -0.37,-1.12C-0.22,-1.25 -0.02,-1.37 0.13,-1.50C0.28,-1.63 0.43,-1.75 0.55,-1.88C0.67,-2.01 0.80,-2.17 0.86,-2.29Z"/>
<path transform="translate(727.5,233.2) scale(5.94,5.6)" d="M0.86,-2.29C0.90,-1.69 1,-0.89 1,0A1,1 0 1 1 -1,0C-1.00,-0.11 -0.99,-0.23 -0.96,-0.35C-0.92,-0.47 -0.89,-0.60 -0.79,-0.73C-0.69,-0.86 -0.52,-0.99 -0.37,-1.12C-0.22,-1.25 -0.02,-1.37 0.13,-1.50C0.28,-1.63 0.43,-1.75 0.55,-1.88C0.67,-2.01 0.80,-2.17 0.86,-2.29Z"/>
<path transform="translate(665.1,261.8) scale(5.94,5.6)" d="M0.86,-2.29C0.90,-1.69 1,-0.89 1,0A1,1 0 1 1 -1,0C-1.00,-0.11 -0.99,-0.23 -0.96,-0.35C-0.92,-0.47 -0.89,-0.60 -0.79,-0.73C-0.69,-0.86 -0.52,-0.99 -0.37,-1.12C-0.22,-1.25 -0.02,-1.37 0.13,-1.50C0.28,-1.63 0.43,-1.75 0.55,-1.88C0.67,-2.01 0.80,-2.17 0.86,-2.29Z"/>
<path transform="translate(693.7,254.0) scale(5.94,5.6)" d="M0.86,-2.29C0.90,-1.69 1,-0.89 1,0A1,1 0 1 1 -1,0C-1.00,-0.11 -0.99,-0.23 -0.96,-0.35C-0.92,-0.47 -0.89,-0.60 -0.79,-0.73C-0.69,-0.86 -0.52,-0.99 -0.37,-1.12C-0.22,-1.25 -0.02,-1.37 0.13,-1.50C0.28,-1.63 0.43,-1.75 0.55,-1.88C0.67,-2.01 0.80,-2.17 0.86,-2.29Z"/>
<path transform="translate(713.7,254.0) scale(5.94,5.6)" d="M0.86,-2.29C0.90,-1.69 1,-0.89 1,0A1,1 0 1 1 -1,0C-1.00,-0.11 -0.99,-0.23 -0.96,-0.35C-0.92,-0.47 -0.89,-0.60 -0.79,-0.73C-0.69,-0.86 -0.52,-0.99 -0.37,-1.12C-0.22,-1.25 -0.02,-1.37 0.13,-1.50C0.28,-1.63 0.43,-1.75 0.55,-1.88C0.67,-2.01 0.80,-2.17 0.86,-2.29Z"/>
<path transform="translate(741.8,267.0) scale(5.94,5.6)" d="M0.86,-2.29C0.90,-1.69 1,-0.89 1,0A1,1 0 1 1 -1,0C-1.00,-0.11 -0.99,-0.23 -0.96,-0.35C-0.92,-0.47 -0.89,-0.60 -0.79,-0.73C-0.69,-0.86 -0.52,-0.99 -0.37,-1.12C-0.22,-1.25 -0.02,-1.37 0.13,-1.50C0.28,-1.63 0.43,-1.75 0.55,-1.88C0.67,-2.01 0.80,-2.17 0.86,-2.29Z"/>
</g>
<g id="car" fill="#fcc9a9">
<path d="M146,123.3 L73,123.3 C66,123.3 63,126 60,132 L38,175 C35,182 33,188 30,194 C23,200 19.5,207 19.5,218 L19.5,286.8 L146,286.8 Z"/><path d="M146,123.3 L73,123.3 C66,123.3 63,126 60,132 L38,175 C35,182 33,188 30,194 C23,200 19.5,207 19.5,218 L19.5,286.8 L146,286.8 Z" transform="translate(289.5,0) scale(-1,1)"/>
<ellipse cx="18.5" cy="186.5" rx="15" ry="10"/><rect x="18" y="179" width="18" height="17.5"/>
<ellipse cx="271" cy="186" rx="14.5" ry="9.8"/><rect x="254" y="179" width="18" height="17"/>
</g>
<g fill="#f3eddc" stroke="#f3eddc" stroke-width="3" stroke-linejoin="round">
<path d="M146,137.3 L82,137.8 C74,138.3 70,141 67,147 L52.5,176 C50,183 51,187 57,187 L146,187 Z"/><path d="M146,137.3 L82,137.8 C74,138.3 70,141 67,147 L52.5,176 C50,183 51,187 57,187 L146,187 Z" transform="translate(289.5,0) scale(-1,1)"/>
<path d="M35.5,213 L38,212.5 L79,228.5 L75,237 L38.5,229.5 L34.5,217 Z"/><path d="M35.5,213 L38,212.5 L79,228.5 L75,237 L38.5,229.5 L34.5,217 Z" transform="translate(289.5,0) scale(-1,1)"/>
</g>
<rect x="0" y="286.8" width="291.3" height="54" fill="url(#wg)"/>
<rect x="291.3" y="299.6" width="498.7" height="54" fill="url(#wg)"/>
<rect x="790" y="307.3" width="210" height="54" fill="url(#wg)"/>
<path d="M19.5,286.8 H270.4 V321 Q270.4,327.6 264,327.6 H245 Q238.4,327.6 238.4,321 V298 L207,297 C190,293 180,293 144.75,293 C110,293 100,293 82,297 L51,298 V321 Q51,327.6 45,327.6 H26 Q19.5,327.6 19.5,321 Z" fill="#000"/>
<clipPath id="pa1"><rect x="59.099999999999994" y="0" width="100" height="286.8"/></clipPath>
<clipPath id="pb1"><rect x="59.099999999999994" y="286.8" width="100" height="100"/></clipPath>
<g clip-path="url(#pa1)"><path d="M0.00,0.00 C1.83,0.00 3.90,-0.18 5.50,0.40 C7.10,0.98 8.72,2.07 9.60,3.50 C10.48,4.93 10.50,7.00 10.80,9.00 C11.10,11.00 11.47,13.67 11.40,15.50 C11.33,17.33 10.80,18.50 10.40,20.00 C10.00,21.50 9.47,23.17 9.00,24.50 C8.53,25.83 7.83,26.75 7.60,28.00 C7.37,29.25 7.20,30.83 7.60,32.00 C8.00,33.17 8.27,34.08 10.00,35.00 C11.73,35.92 15.17,36.58 18.00,37.50 C20.83,38.42 24.83,39.33 27.00,40.50 C29.17,41.67 30.03,42.58 31.00,44.50 C31.97,46.42 32.38,48.58 32.80,52.00 C33.22,55.42 33.22,59.50 33.50,65.00 C33.78,70.50 34.08,78.67 34.50,85.00 C34.92,91.33 35.78,97.50 36.00,103.00 C36.22,108.50 35.97,113.83 35.80,118.00 C35.63,122.17 35.13,125.17 35.00,128.00 C34.87,130.83 35.33,133.00 35.00,135.00 C34.67,137.00 34.00,139.00 33.00,140.00 C32.00,141.00 30.25,141.33 29.00,141.00 C27.75,140.67 26.33,139.67 25.50,138.00 C24.67,136.33 24.15,134.00 24.00,131.00 C23.85,128.00 24.60,124.33 24.60,120.00 C24.60,115.67 24.35,110.00 24.00,105.00 C23.65,100.00 23.08,94.33 22.50,90.00 C21.92,85.67 20.93,81.33 20.50,79.00 C20.07,76.67 19.95,75.00 19.90,76.00 C19.85,77.00 20.03,81.00 20.20,85.00 C20.37,89.00 20.68,95.83 20.90,100.00 C21.12,104.17 21.25,107.17 21.50,110.00 C21.75,112.83 22.23,114.00 22.40,117.00 C22.57,120.00 22.65,124.17 22.50,128.00 C22.35,131.83 22.00,135.50 21.50,140.00 C21.00,144.50 20.25,150.67 19.50,155.00 C18.75,159.33 17.58,162.50 17.00,166.00 C16.42,169.50 15.97,172.67 16.00,176.00 C16.03,179.33 17.12,182.33 17.20,186.00 C17.28,189.67 17.20,194.00 16.50,198.00 C15.80,202.00 13.95,206.67 13.00,210.00 C12.05,213.33 10.97,215.67 10.80,218.00 C10.63,220.33 10.98,222.00 12.00,224.00 C13.02,226.00 16.40,228.58 16.90,230.00 C17.40,231.42 17.32,232.08 15.00,232.50 C12.68,232.92 5.30,233.08 3.00,232.50 C0.70,231.92 1.40,231.42 1.20,229.00 C1.00,226.58 1.75,222.83 1.80,218.00 C1.85,213.17 1.60,205.50 1.50,200.00 C1.40,194.50 1.27,191.67 1.20,185.00 C1.13,178.33 1.15,168.33 1.10,160.00 C1.05,151.67 1.08,140.92 0.90,135.00 C0.72,129.08 0.30,124.50 0.00,124.50 C-0.30,124.50 -0.72,129.08 -0.90,135.00 C-1.08,140.92 -1.05,151.67 -1.10,160.00 C-1.15,168.33 -1.13,178.33 -1.20,185.00 C-1.27,191.67 -1.40,194.50 -1.50,200.00 C-1.60,205.50 -1.85,213.17 -1.80,218.00 C-1.75,222.83 -1.00,226.58 -1.20,229.00 C-1.40,231.42 -0.70,231.92 -3.00,232.50 C-5.30,233.08 -12.68,232.92 -15.00,232.50 C-17.32,232.08 -17.40,231.42 -16.90,230.00 C-16.40,228.58 -13.02,226.00 -12.00,224.00 C-10.98,222.00 -10.63,220.33 -10.80,218.00 C-10.97,215.67 -12.05,213.33 -13.00,210.00 C-13.95,206.67 -15.80,202.00 -16.50,198.00 C-17.20,194.00 -17.28,189.67 -17.20,186.00 C-17.12,182.33 -16.03,179.33 -16.00,176.00 C-15.97,172.67 -16.42,169.50 -17.00,166.00 C-17.58,162.50 -18.75,159.33 -19.50,155.00 C-20.25,150.67 -21.00,144.50 -21.50,140.00 C-22.00,135.50 -22.35,131.83 -22.50,128.00 C-22.65,124.17 -22.57,120.00 -22.40,117.00 C-22.23,114.00 -21.75,112.83 -21.50,110.00 C-21.25,107.17 -21.12,104.17 -20.90,100.00 C-20.68,95.83 -20.37,89.00 -20.20,85.00 C-20.03,81.00 -19.85,77.00 -19.90,76.00 C-19.95,75.00 -20.07,76.67 -20.50,79.00 C-20.93,81.33 -21.92,85.67 -22.50,90.00 C-23.08,94.33 -23.65,100.00 -24.00,105.00 C-24.35,110.00 -24.60,115.67 -24.60,120.00 C-24.60,124.33 -23.85,128.00 -24.00,131.00 C-24.15,134.00 -24.67,136.33 -25.50,138.00 C-26.33,139.67 -27.75,140.67 -29.00,141.00 C-30.25,141.33 -32.00,141.00 -33.00,140.00 C-34.00,139.00 -34.67,137.00 -35.00,135.00 C-35.33,133.00 -34.87,130.83 -35.00,128.00 C-35.13,125.17 -35.63,122.17 -35.80,118.00 C-35.97,113.83 -36.22,108.50 -36.00,103.00 C-35.78,97.50 -34.92,91.33 -34.50,85.00 C-34.08,78.67 -33.78,70.50 -33.50,65.00 C-33.22,59.50 -33.22,55.42 -32.80,52.00 C-32.38,48.58 -31.97,46.42 -31.00,44.50 C-30.03,42.58 -29.17,41.67 -27.00,40.50 C-24.83,39.33 -20.83,38.42 -18.00,37.50 C-15.17,36.58 -11.73,35.92 -10.00,35.00 C-8.27,34.08 -8.00,33.17 -7.60,32.00 C-7.20,30.83 -7.37,29.25 -7.60,28.00 C-7.83,26.75 -8.53,25.83 -9.00,24.50 C-9.47,23.17 -10.00,21.50 -10.40,20.00 C-10.80,18.50 -11.33,17.33 -11.40,15.50 C-11.47,13.67 -11.10,11.00 -10.80,9.00 C-10.50,7.00 -10.48,4.93 -9.60,3.50 C-8.72,2.07 -7.10,0.98 -5.50,0.40 C-3.90,-0.18 -1.83,0.00 0.00,0.00Z" transform="translate(109.1,101.9)" fill="#80f7bc"/></g>
<g clip-path="url(#pb1)"><path d="M0.00,0.00 C1.83,0.00 3.90,-0.18 5.50,0.40 C7.10,0.98 8.72,2.07 9.60,3.50 C10.48,4.93 10.50,7.00 10.80,9.00 C11.10,11.00 11.47,13.67 11.40,15.50 C11.33,17.33 10.80,18.50 10.40,20.00 C10.00,21.50 9.47,23.17 9.00,24.50 C8.53,25.83 7.83,26.75 7.60,28.00 C7.37,29.25 7.20,30.83 7.60,32.00 C8.00,33.17 8.27,34.08 10.00,35.00 C11.73,35.92 15.17,36.58 18.00,37.50 C20.83,38.42 24.83,39.33 27.00,40.50 C29.17,41.67 30.03,42.58 31.00,44.50 C31.97,46.42 32.38,48.58 32.80,52.00 C33.22,55.42 33.22,59.50 33.50,65.00 C33.78,70.50 34.08,78.67 34.50,85.00 C34.92,91.33 35.78,97.50 36.00,103.00 C36.22,108.50 35.97,113.83 35.80,118.00 C35.63,122.17 35.13,125.17 35.00,128.00 C34.87,130.83 35.33,133.00 35.00,135.00 C34.67,137.00 34.00,139.00 33.00,140.00 C32.00,141.00 30.25,141.33 29.00,141.00 C27.75,140.67 26.33,139.67 25.50,138.00 C24.67,136.33 24.15,134.00 24.00,131.00 C23.85,128.00 24.60,124.33 24.60,120.00 C24.60,115.67 24.35,110.00 24.00,105.00 C23.65,100.00 23.08,94.33 22.50,90.00 C21.92,85.67 20.93,81.33 20.50,79.00 C20.07,76.67 19.95,75.00 19.90,76.00 C19.85,77.00 20.03,81.00 20.20,85.00 C20.37,89.00 20.68,95.83 20.90,100.00 C21.12,104.17 21.25,107.17 21.50,110.00 C21.75,112.83 22.23,114.00 22.40,117.00 C22.57,120.00 22.65,124.17 22.50,128.00 C22.35,131.83 22.00,135.50 21.50,140.00 C21.00,144.50 20.25,150.67 19.50,155.00 C18.75,159.33 17.58,162.50 17.00,166.00 C16.42,169.50 15.97,172.67 16.00,176.00 C16.03,179.33 17.12,182.33 17.20,186.00 C17.28,189.67 17.20,194.00 16.50,198.00 C15.80,202.00 13.95,206.67 13.00,210.00 C12.05,213.33 10.97,215.67 10.80,218.00 C10.63,220.33 10.98,222.00 12.00,224.00 C13.02,226.00 16.40,228.58 16.90,230.00 C17.40,231.42 17.32,232.08 15.00,232.50 C12.68,232.92 5.30,233.08 3.00,232.50 C0.70,231.92 1.40,231.42 1.20,229.00 C1.00,226.58 1.75,222.83 1.80,218.00 C1.85,213.17 1.60,205.50 1.50,200.00 C1.40,194.50 1.27,191.67 1.20,185.00 C1.13,178.33 1.15,168.33 1.10,160.00 C1.05,151.67 1.08,140.92 0.90,135.00 C0.72,129.08 0.30,124.50 0.00,124.50 C-0.30,124.50 -0.72,129.08 -0.90,135.00 C-1.08,140.92 -1.05,151.67 -1.10,160.00 C-1.15,168.33 -1.13,178.33 -1.20,185.00 C-1.27,191.67 -1.40,194.50 -1.50,200.00 C-1.60,205.50 -1.85,213.17 -1.80,218.00 C-1.75,222.83 -1.00,226.58 -1.20,229.00 C-1.40,231.42 -0.70,231.92 -3.00,232.50 C-5.30,233.08 -12.68,232.92 -15.00,232.50 C-17.32,232.08 -17.40,231.42 -16.90,230.00 C-16.40,228.58 -13.02,226.00 -12.00,224.00 C-10.98,222.00 -10.63,220.33 -10.80,218.00 C-10.97,215.67 -12.05,213.33 -13.00,210.00 C-13.95,206.67 -15.80,202.00 -16.50,198.00 C-17.20,194.00 -17.28,189.67 -17.20,186.00 C-17.12,182.33 -16.03,179.33 -16.00,176.00 C-15.97,172.67 -16.42,169.50 -17.00,166.00 C-17.58,162.50 -18.75,159.33 -19.50,155.00 C-20.25,150.67 -21.00,144.50 -21.50,140.00 C-22.00,135.50 -22.35,131.83 -22.50,128.00 C-22.65,124.17 -22.57,120.00 -22.40,117.00 C-22.23,114.00 -21.75,112.83 -21.50,110.00 C-21.25,107.17 -21.12,104.17 -20.90,100.00 C-20.68,95.83 -20.37,89.00 -20.20,85.00 C-20.03,81.00 -19.85,77.00 -19.90,76.00 C-19.95,75.00 -20.07,76.67 -20.50,79.00 C-20.93,81.33 -21.92,85.67 -22.50,90.00 C-23.08,94.33 -23.65,100.00 -24.00,105.00 C-24.35,110.00 -24.60,115.67 -24.60,120.00 C-24.60,124.33 -23.85,128.00 -24.00,131.00 C-24.15,134.00 -24.67,136.33 -25.50,138.00 C-26.33,139.67 -27.75,140.67 -29.00,141.00 C-30.25,141.33 -32.00,141.00 -33.00,140.00 C-34.00,139.00 -34.67,137.00 -35.00,135.00 C-35.33,133.00 -34.87,130.83 -35.00,128.00 C-35.13,125.17 -35.63,122.17 -35.80,118.00 C-35.97,113.83 -36.22,108.50 -36.00,103.00 C-35.78,97.50 -34.92,91.33 -34.50,85.00 C-34.08,78.67 -33.78,70.50 -33.50,65.00 C-33.22,59.50 -33.22,55.42 -32.80,52.00 C-32.38,48.58 -31.97,46.42 -31.00,44.50 C-30.03,42.58 -29.17,41.67 -27.00,40.50 C-24.83,39.33 -20.83,38.42 -18.00,37.50 C-15.17,36.58 -11.73,35.92 -10.00,35.00 C-8.27,34.08 -8.00,33.17 -7.60,32.00 C-7.20,30.83 -7.37,29.25 -7.60,28.00 C-7.83,26.75 -8.53,25.83 -9.00,24.50 C-9.47,23.17 -10.00,21.50 -10.40,20.00 C-10.80,18.50 -11.33,17.33 -11.40,15.50 C-11.47,13.67 -11.10,11.00 -10.80,9.00 C-10.50,7.00 -10.48,4.93 -9.60,3.50 C-8.72,2.07 -7.10,0.98 -5.50,0.40 C-3.90,-0.18 -1.83,0.00 0.00,0.00Z" transform="translate(109.1,101.9)" fill="#4a08f6"/></g>
<clipPath id="pc1"><rect x="59.099999999999994" y="325.4" width="100" height="20"/></clipPath>
<g clip-path="url(#pc1)"><path d="M0.00,0.00 C1.83,0.00 3.90,-0.18 5.50,0.40 C7.10,0.98 8.72,2.07 9.60,3.50 C10.48,4.93 10.50,7.00 10.80,9.00 C11.10,11.00 11.47,13.67 11.40,15.50 C11.33,17.33 10.80,18.50 10.40,20.00 C10.00,21.50 9.47,23.17 9.00,24.50 C8.53,25.83 7.83,26.75 7.60,28.00 C7.37,29.25 7.20,30.83 7.60,32.00 C8.00,33.17 8.27,34.08 10.00,35.00 C11.73,35.92 15.17,36.58 18.00,37.50 C20.83,38.42 24.83,39.33 27.00,40.50 C29.17,41.67 30.03,42.58 31.00,44.50 C31.97,46.42 32.38,48.58 32.80,52.00 C33.22,55.42 33.22,59.50 33.50,65.00 C33.78,70.50 34.08,78.67 34.50,85.00 C34.92,91.33 35.78,97.50 36.00,103.00 C36.22,108.50 35.97,113.83 35.80,118.00 C35.63,122.17 35.13,125.17 35.00,128.00 C34.87,130.83 35.33,133.00 35.00,135.00 C34.67,137.00 34.00,139.00 33.00,140.00 C32.00,141.00 30.25,141.33 29.00,141.00 C27.75,140.67 26.33,139.67 25.50,138.00 C24.67,136.33 24.15,134.00 24.00,131.00 C23.85,128.00 24.60,124.33 24.60,120.00 C24.60,115.67 24.35,110.00 24.00,105.00 C23.65,100.00 23.08,94.33 22.50,90.00 C21.92,85.67 20.93,81.33 20.50,79.00 C20.07,76.67 19.95,75.00 19.90,76.00 C19.85,77.00 20.03,81.00 20.20,85.00 C20.37,89.00 20.68,95.83 20.90,100.00 C21.12,104.17 21.25,107.17 21.50,110.00 C21.75,112.83 22.23,114.00 22.40,117.00 C22.57,120.00 22.65,124.17 22.50,128.00 C22.35,131.83 22.00,135.50 21.50,140.00 C21.00,144.50 20.25,150.67 19.50,155.00 C18.75,159.33 17.58,162.50 17.00,166.00 C16.42,169.50 15.97,172.67 16.00,176.00 C16.03,179.33 17.12,182.33 17.20,186.00 C17.28,189.67 17.20,194.00 16.50,198.00 C15.80,202.00 13.95,206.67 13.00,210.00 C12.05,213.33 10.97,215.67 10.80,218.00 C10.63,220.33 10.98,222.00 12.00,224.00 C13.02,226.00 16.40,228.58 16.90,230.00 C17.40,231.42 17.32,232.08 15.00,232.50 C12.68,232.92 5.30,233.08 3.00,232.50 C0.70,231.92 1.40,231.42 1.20,229.00 C1.00,226.58 1.75,222.83 1.80,218.00 C1.85,213.17 1.60,205.50 1.50,200.00 C1.40,194.50 1.27,191.67 1.20,185.00 C1.13,178.33 1.15,168.33 1.10,160.00 C1.05,151.67 1.08,140.92 0.90,135.00 C0.72,129.08 0.30,124.50 0.00,124.50 C-0.30,124.50 -0.72,129.08 -0.90,135.00 C-1.08,140.92 -1.05,151.67 -1.10,160.00 C-1.15,168.33 -1.13,178.33 -1.20,185.00 C-1.27,191.67 -1.40,194.50 -1.50,200.00 C-1.60,205.50 -1.85,213.17 -1.80,218.00 C-1.75,222.83 -1.00,226.58 -1.20,229.00 C-1.40,231.42 -0.70,231.92 -3.00,232.50 C-5.30,233.08 -12.68,232.92 -15.00,232.50 C-17.32,232.08 -17.40,231.42 -16.90,230.00 C-16.40,228.58 -13.02,226.00 -12.00,224.00 C-10.98,222.00 -10.63,220.33 -10.80,218.00 C-10.97,215.67 -12.05,213.33 -13.00,210.00 C-13.95,206.67 -15.80,202.00 -16.50,198.00 C-17.20,194.00 -17.28,189.67 -17.20,186.00 C-17.12,182.33 -16.03,179.33 -16.00,176.00 C-15.97,172.67 -16.42,169.50 -17.00,166.00 C-17.58,162.50 -18.75,159.33 -19.50,155.00 C-20.25,150.67 -21.00,144.50 -21.50,140.00 C-22.00,135.50 -22.35,131.83 -22.50,128.00 C-22.65,124.17 -22.57,120.00 -22.40,117.00 C-22.23,114.00 -21.75,112.83 -21.50,110.00 C-21.25,107.17 -21.12,104.17 -20.90,100.00 C-20.68,95.83 -20.37,89.00 -20.20,85.00 C-20.03,81.00 -19.85,77.00 -19.90,76.00 C-19.95,75.00 -20.07,76.67 -20.50,79.00 C-20.93,81.33 -21.92,85.67 -22.50,90.00 C-23.08,94.33 -23.65,100.00 -24.00,105.00 C-24.35,110.00 -24.60,115.67 -24.60,120.00 C-24.60,124.33 -23.85,128.00 -24.00,131.00 C-24.15,134.00 -24.67,136.33 -25.50,138.00 C-26.33,139.67 -27.75,140.67 -29.00,141.00 C-30.25,141.33 -32.00,141.00 -33.00,140.00 C-34.00,139.00 -34.67,137.00 -35.00,135.00 C-35.33,133.00 -34.87,130.83 -35.00,128.00 C-35.13,125.17 -35.63,122.17 -35.80,118.00 C-35.97,113.83 -36.22,108.50 -36.00,103.00 C-35.78,97.50 -34.92,91.33 -34.50,85.00 C-34.08,78.67 -33.78,70.50 -33.50,65.00 C-33.22,59.50 -33.22,55.42 -32.80,52.00 C-32.38,48.58 -31.97,46.42 -31.00,44.50 C-30.03,42.58 -29.17,41.67 -27.00,40.50 C-24.83,39.33 -20.83,38.42 -18.00,37.50 C-15.17,36.58 -11.73,35.92 -10.00,35.00 C-8.27,34.08 -8.00,33.17 -7.60,32.00 C-7.20,30.83 -7.37,29.25 -7.60,28.00 C-7.83,26.75 -8.53,25.83 -9.00,24.50 C-9.47,23.17 -10.00,21.50 -10.40,20.00 C-10.80,18.50 -11.33,17.33 -11.40,15.50 C-11.47,13.67 -11.10,11.00 -10.80,9.00 C-10.50,7.00 -10.48,4.93 -9.60,3.50 C-8.72,2.07 -7.10,0.98 -5.50,0.40 C-3.90,-0.18 -1.83,0.00 0.00,0.00Z" transform="translate(109.1,101.9)" fill="#6b3df7"/></g>
<clipPath id="pa2"><rect x="269.5" y="0" width="100" height="299.6"/></clipPath>
<clipPath id="pb2"><rect x="269.5" y="299.6" width="100" height="100"/></clipPath>
<g clip-path="url(#pa2)"><path d="M0.00,0.00 C1.83,0.00 3.90,-0.18 5.50,0.40 C7.10,0.98 8.72,2.07 9.60,3.50 C10.48,4.93 10.50,7.00 10.80,9.00 C11.10,11.00 11.47,13.67 11.40,15.50 C11.33,17.33 10.80,18.50 10.40,20.00 C10.00,21.50 9.47,23.17 9.00,24.50 C8.53,25.83 7.83,26.75 7.60,28.00 C7.37,29.25 7.20,30.83 7.60,32.00 C8.00,33.17 8.27,34.08 10.00,35.00 C11.73,35.92 15.17,36.58 18.00,37.50 C20.83,38.42 24.83,39.33 27.00,40.50 C29.17,41.67 30.03,42.58 31.00,44.50 C31.97,46.42 32.38,48.58 32.80,52.00 C33.22,55.42 33.22,59.50 33.50,65.00 C33.78,70.50 34.08,78.67 34.50,85.00 C34.92,91.33 35.78,97.50 36.00,103.00 C36.22,108.50 35.97,113.83 35.80,118.00 C35.63,122.17 35.13,125.17 35.00,128.00 C34.87,130.83 35.33,133.00 35.00,135.00 C34.67,137.00 34.00,139.00 33.00,140.00 C32.00,141.00 30.25,141.33 29.00,141.00 C27.75,140.67 26.33,139.67 25.50,138.00 C24.67,136.33 24.15,134.00 24.00,131.00 C23.85,128.00 24.60,124.33 24.60,120.00 C24.60,115.67 24.35,110.00 24.00,105.00 C23.65,100.00 23.08,94.33 22.50,90.00 C21.92,85.67 20.93,81.33 20.50,79.00 C20.07,76.67 19.95,75.00 19.90,76.00 C19.85,77.00 20.03,81.00 20.20,85.00 C20.37,89.00 20.68,95.83 20.90,100.00 C21.12,104.17 21.25,107.17 21.50,110.00 C21.75,112.83 22.23,114.00 22.40,117.00 C22.57,120.00 22.65,124.17 22.50,128.00 C22.35,131.83 22.00,135.50 21.50,140.00 C21.00,144.50 20.25,150.67 19.50,155.00 C18.75,159.33 17.58,162.50 17.00,166.00 C16.42,169.50 15.97,172.67 16.00,176.00 C16.03,179.33 17.12,182.33 17.20,186.00 C17.28,189.67 17.20,194.00 16.50,198.00 C15.80,202.00 13.95,206.67 13.00,210.00 C12.05,213.33 10.97,215.67 10.80,218.00 C10.63,220.33 10.98,222.00 12.00,224.00 C13.02,226.00 16.40,228.58 16.90,230.00 C17.40,231.42 17.32,232.08 15.00,232.50 C12.68,232.92 5.30,233.08 3.00,232.50 C0.70,231.92 1.40,231.42 1.20,229.00 C1.00,226.58 1.75,222.83 1.80,218.00 C1.85,213.17 1.60,205.50 1.50,200.00 C1.40,194.50 1.27,191.67 1.20,185.00 C1.13,178.33 1.15,168.33 1.10,160.00 C1.05,151.67 1.08,140.92 0.90,135.00 C0.72,129.08 0.30,124.50 0.00,124.50 C-0.30,124.50 -0.72,129.08 -0.90,135.00 C-1.08,140.92 -1.05,151.67 -1.10,160.00 C-1.15,168.33 -1.13,178.33 -1.20,185.00 C-1.27,191.67 -1.40,194.50 -1.50,200.00 C-1.60,205.50 -1.85,213.17 -1.80,218.00 C-1.75,222.83 -1.00,226.58 -1.20,229.00 C-1.40,231.42 -0.70,231.92 -3.00,232.50 C-5.30,233.08 -12.68,232.92 -15.00,232.50 C-17.32,232.08 -17.40,231.42 -16.90,230.00 C-16.40,228.58 -13.02,226.00 -12.00,224.00 C-10.98,222.00 -10.63,220.33 -10.80,218.00 C-10.97,215.67 -12.05,213.33 -13.00,210.00 C-13.95,206.67 -15.80,202.00 -16.50,198.00 C-17.20,194.00 -17.28,189.67 -17.20,186.00 C-17.12,182.33 -16.03,179.33 -16.00,176.00 C-15.97,172.67 -16.42,169.50 -17.00,166.00 C-17.58,162.50 -18.75,159.33 -19.50,155.00 C-20.25,150.67 -21.00,144.50 -21.50,140.00 C-22.00,135.50 -22.35,131.83 -22.50,128.00 C-22.65,124.17 -22.57,120.00 -22.40,117.00 C-22.23,114.00 -21.75,112.83 -21.50,110.00 C-21.25,107.17 -21.12,104.17 -20.90,100.00 C-20.68,95.83 -20.37,89.00 -20.20,85.00 C-20.03,81.00 -19.85,77.00 -19.90,76.00 C-19.95,75.00 -20.07,76.67 -20.50,79.00 C-20.93,81.33 -21.92,85.67 -22.50,90.00 C-23.08,94.33 -23.65,100.00 -24.00,105.00 C-24.35,110.00 -24.60,115.67 -24.60,120.00 C-24.60,124.33 -23.85,128.00 -24.00,131.00 C-24.15,134.00 -24.67,136.33 -25.50,138.00 C-26.33,139.67 -27.75,140.67 -29.00,141.00 C-30.25,141.33 -32.00,141.00 -33.00,140.00 C-34.00,139.00 -34.67,137.00 -35.00,135.00 C-35.33,133.00 -34.87,130.83 -35.00,128.00 C-35.13,125.17 -35.63,122.17 -35.80,118.00 C-35.97,113.83 -36.22,108.50 -36.00,103.00 C-35.78,97.50 -34.92,91.33 -34.50,85.00 C-34.08,78.67 -33.78,70.50 -33.50,65.00 C-33.22,59.50 -33.22,55.42 -32.80,52.00 C-32.38,48.58 -31.97,46.42 -31.00,44.50 C-30.03,42.58 -29.17,41.67 -27.00,40.50 C-24.83,39.33 -20.83,38.42 -18.00,37.50 C-15.17,36.58 -11.73,35.92 -10.00,35.00 C-8.27,34.08 -8.00,33.17 -7.60,32.00 C-7.20,30.83 -7.37,29.25 -7.60,28.00 C-7.83,26.75 -8.53,25.83 -9.00,24.50 C-9.47,23.17 -10.00,21.50 -10.40,20.00 C-10.80,18.50 -11.33,17.33 -11.40,15.50 C-11.47,13.67 -11.10,11.00 -10.80,9.00 C-10.50,7.00 -10.48,4.93 -9.60,3.50 C-8.72,2.07 -7.10,0.98 -5.50,0.40 C-3.90,-0.18 -1.83,0.00 0.00,0.00Z" transform="translate(319.5,101.9)" fill="#80f7bc"/></g>
<g clip-path="url(#pb2)"><path d="M0.00,0.00 C1.83,0.00 3.90,-0.18 5.50,0.40 C7.10,0.98 8.72,2.07 9.60,3.50 C10.48,4.93 10.50,7.00 10.80,9.00 C11.10,11.00 11.47,13.67 11.40,15.50 C11.33,17.33 10.80,18.50 10.40,20.00 C10.00,21.50 9.47,23.17 9.00,24.50 C8.53,25.83 7.83,26.75 7.60,28.00 C7.37,29.25 7.20,30.83 7.60,32.00 C8.00,33.17 8.27,34.08 10.00,35.00 C11.73,35.92 15.17,36.58 18.00,37.50 C20.83,38.42 24.83,39.33 27.00,40.50 C29.17,41.67 30.03,42.58 31.00,44.50 C31.97,46.42 32.38,48.58 32.80,52.00 C33.22,55.42 33.22,59.50 33.50,65.00 C33.78,70.50 34.08,78.67 34.50,85.00 C34.92,91.33 35.78,97.50 36.00,103.00 C36.22,108.50 35.97,113.83 35.80,118.00 C35.63,122.17 35.13,125.17 35.00,128.00 C34.87,130.83 35.33,133.00 35.00,135.00 C34.67,137.00 34.00,139.00 33.00,140.00 C32.00,141.00 30.25,141.33 29.00,141.00 C27.75,140.67 26.33,139.67 25.50,138.00 C24.67,136.33 24.15,134.00 24.00,131.00 C23.85,128.00 24.60,124.33 24.60,120.00 C24.60,115.67 24.35,110.00 24.00,105.00 C23.65,100.00 23.08,94.33 22.50,90.00 C21.92,85.67 20.93,81.33 20.50,79.00 C20.07,76.67 19.95,75.00 19.90,76.00 C19.85,77.00 20.03,81.00 20.20,85.00 C20.37,89.00 20.68,95.83 20.90,100.00 C21.12,104.17 21.25,107.17 21.50,110.00 C21.75,112.83 22.23,114.00 22.40,117.00 C22.57,120.00 22.65,124.17 22.50,128.00 C22.35,131.83 22.00,135.50 21.50,140.00 C21.00,144.50 20.25,150.67 19.50,155.00 C18.75,159.33 17.58,162.50 17.00,166.00 C16.42,169.50 15.97,172.67 16.00,176.00 C16.03,179.33 17.12,182.33 17.20,186.00 C17.28,189.67 17.20,194.00 16.50,198.00 C15.80,202.00 13.95,206.67 13.00,210.00 C12.05,213.33 10.97,215.67 10.80,218.00 C10.63,220.33 10.98,222.00 12.00,224.00 C13.02,226.00 16.40,228.58 16.90,230.00 C17.40,231.42 17.32,232.08 15.00,232.50 C12.68,232.92 5.30,233.08 3.00,232.50 C0.70,231.92 1.40,231.42 1.20,229.00 C1.00,226.58 1.75,222.83 1.80,218.00 C1.85,213.17 1.60,205.50 1.50,200.00 C1.40,194.50 1.27,191.67 1.20,185.00 C1.13,178.33 1.15,168.33 1.10,160.00 C1.05,151.67 1.08,140.92 0.90,135.00 C0.72,129.08 0.30,124.50 0.00,124.50 C-0.30,124.50 -0.72,129.08 -0.90,135.00 C-1.08,140.92 -1.05,151.67 -1.10,160.00 C-1.15,168.33 -1.13,178.33 -1.20,185.00 C-1.27,191.67 -1.40,194.50 -1.50,200.00 C-1.60,205.50 -1.85,213.17 -1.80,218.00 C-1.75,222.83 -1.00,226.58 -1.20,229.00 C-1.40,231.42 -0.70,231.92 -3.00,232.50 C-5.30,233.08 -12.68,232.92 -15.00,232.50 C-17.32,232.08 -17.40,231.42 -16.90,230.00 C-16.40,228.58 -13.02,226.00 -12.00,224.00 C-10.98,222.00 -10.63,220.33 -10.80,218.00 C-10.97,215.67 -12.05,213.33 -13.00,210.00 C-13.95,206.67 -15.80,202.00 -16.50,198.00 C-17.20,194.00 -17.28,189.67 -17.20,186.00 C-17.12,182.33 -16.03,179.33 -16.00,176.00 C-15.97,172.67 -16.42,169.50 -17.00,166.00 C-17.58,162.50 -18.75,159.33 -19.50,155.00 C-20.25,150.67 -21.00,144.50 -21.50,140.00 C-22.00,135.50 -22.35,131.83 -22.50,128.00 C-22.65,124.17 -22.57,120.00 -22.40,117.00 C-22.23,114.00 -21.75,112.83 -21.50,110.00 C-21.25,107.17 -21.12,104.17 -20.90,100.00 C-20.68,95.83 -20.37,89.00 -20.20,85.00 C-20.03,81.00 -19.85,77.00 -19.90,76.00 C-19.95,75.00 -20.07,76.67 -20.50,79.00 C-20.93,81.33 -21.92,85.67 -22.50,90.00 C-23.08,94.33 -23.65,100.00 -24.00,105.00 C-24.35,110.00 -24.60,115.67 -24.60,120.00 C-24.60,124.33 -23.85,128.00 -24.00,131.00 C-24.15,134.00 -24.67,136.33 -25.50,138.00 C-26.33,139.67 -27.75,140.67 -29.00,141.00 C-30.25,141.33 -32.00,141.00 -33.00,140.00 C-34.00,139.00 -34.67,137.00 -35.00,135.00 C-35.33,133.00 -34.87,130.83 -35.00,128.00 C-35.13,125.17 -35.63,122.17 -35.80,118.00 C-35.97,113.83 -36.22,108.50 -36.00,103.00 C-35.78,97.50 -34.92,91.33 -34.50,85.00 C-34.08,78.67 -33.78,70.50 -33.50,65.00 C-33.22,59.50 -33.22,55.42 -32.80,52.00 C-32.38,48.58 -31.97,46.42 -31.00,44.50 C-30.03,42.58 -29.17,41.67 -27.00,40.50 C-24.83,39.33 -20.83,38.42 -18.00,37.50 C-15.17,36.58 -11.73,35.92 -10.00,35.00 C-8.27,34.08 -8.00,33.17 -7.60,32.00 C-7.20,30.83 -7.37,29.25 -7.60,28.00 C-7.83,26.75 -8.53,25.83 -9.00,24.50 C-9.47,23.17 -10.00,21.50 -10.40,20.00 C-10.80,18.50 -11.33,17.33 -11.40,15.50 C-11.47,13.67 -11.10,11.00 -10.80,9.00 C-10.50,7.00 -10.48,4.93 -9.60,3.50 C-8.72,2.07 -7.10,0.98 -5.50,0.40 C-3.90,-0.18 -1.83,0.00 0.00,0.00Z" transform="translate(319.5,101.9)" fill="#4a08f6"/></g>
<clipPath id="pc2"><rect x="269.5" y="325.4" width="100" height="20"/></clipPath>
<g clip-path="url(#pc2)"><path d="M0.00,0.00 C1.83,0.00 3.90,-0.18 5.50,0.40 C7.10,0.98 8.72,2.07 9.60,3.50 C10.48,4.93 10.50,7.00 10.80,9.00 C11.10,11.00 11.47,13.67 11.40,15.50 C11.33,17.33 10.80,18.50 10.40,20.00 C10.00,21.50 9.47,23.17 9.00,24.50 C8.53,25.83 7.83,26.75 7.60,28.00 C7.37,29.25 7.20,30.83 7.60,32.00 C8.00,33.17 8.27,34.08 10.00,35.00 C11.73,35.92 15.17,36.58 18.00,37.50 C20.83,38.42 24.83,39.33 27.00,40.50 C29.17,41.67 30.03,42.58 31.00,44.50 C31.97,46.42 32.38,48.58 32.80,52.00 C33.22,55.42 33.22,59.50 33.50,65.00 C33.78,70.50 34.08,78.67 34.50,85.00 C34.92,91.33 35.78,97.50 36.00,103.00 C36.22,108.50 35.97,113.83 35.80,118.00 C35.63,122.17 35.13,125.17 35.00,128.00 C34.87,130.83 35.33,133.00 35.00,135.00 C34.67,137.00 34.00,139.00 33.00,140.00 C32.00,141.00 30.25,141.33 29.00,141.00 C27.75,140.67 26.33,139.67 25.50,138.00 C24.67,136.33 24.15,134.00 24.00,131.00 C23.85,128.00 24.60,124.33 24.60,120.00 C24.60,115.67 24.35,110.00 24.00,105.00 C23.65,100.00 23.08,94.33 22.50,90.00 C21.92,85.67 20.93,81.33 20.50,79.00 C20.07,76.67 19.95,75.00 19.90,76.00 C19.85,77.00 20.03,81.00 20.20,85.00 C20.37,89.00 20.68,95.83 20.90,100.00 C21.12,104.17 21.25,107.17 21.50,110.00 C21.75,112.83 22.23,114.00 22.40,117.00 C22.57,120.00 22.65,124.17 22.50,128.00 C22.35,131.83 22.00,135.50 21.50,140.00 C21.00,144.50 20.25,150.67 19.50,155.00 C18.75,159.33 17.58,162.50 17.00,166.00 C16.42,169.50 15.97,172.67 16.00,176.00 C16.03,179.33 17.12,182.33 17.20,186.00 C17.28,189.67 17.20,194.00 16.50,198.00 C15.80,202.00 13.95,206.67 13.00,210.00 C12.05,213.33 10.97,215.67 10.80,218.00 C10.63,220.33 10.98,222.00 12.00,224.00 C13.02,226.00 16.40,228.58 16.90,230.00 C17.40,231.42 17.32,232.08 15.00,232.50 C12.68,232.92 5.30,233.08 3.00,232.50 C0.70,231.92 1.40,231.42 1.20,229.00 C1.00,226.58 1.75,222.83 1.80,218.00 C1.85,213.17 1.60,205.50 1.50,200.00 C1.40,194.50 1.27,191.67 1.20,185.00 C1.13,178.33 1.15,168.33 1.10,160.00 C1.05,151.67 1.08,140.92 0.90,135.00 C0.72,129.08 0.30,124.50 0.00,124.50 C-0.30,124.50 -0.72,129.08 -0.90,135.00 C-1.08,140.92 -1.05,151.67 -1.10,160.00 C-1.15,168.33 -1.13,178.33 -1.20,185.00 C-1.27,191.67 -1.40,194.50 -1.50,200.00 C-1.60,205.50 -1.85,213.17 -1.80,218.00 C-1.75,222.83 -1.00,226.58 -1.20,229.00 C-1.40,231.42 -0.70,231.92 -3.00,232.50 C-5.30,233.08 -12.68,232.92 -15.00,232.50 C-17.32,232.08 -17.40,231.42 -16.90,230.00 C-16.40,228.58 -13.02,226.00 -12.00,224.00 C-10.98,222.00 -10.63,220.33 -10.80,218.00 C-10.97,215.67 -12.05,213.33 -13.00,210.00 C-13.95,206.67 -15.80,202.00 -16.50,198.00 C-17.20,194.00 -17.28,189.67 -17.20,186.00 C-17.12,182.33 -16.03,179.33 -16.00,176.00 C-15.97,172.67 -16.42,169.50 -17.00,166.00 C-17.58,162.50 -18.75,159.33 -19.50,155.00 C-20.25,150.67 -21.00,144.50 -21.50,140.00 C-22.00,135.50 -22.35,131.83 -22.50,128.00 C-22.65,124.17 -22.57,120.00 -22.40,117.00 C-22.23,114.00 -21.75,112.83 -21.50,110.00 C-21.25,107.17 -21.12,104.17 -20.90,100.00 C-20.68,95.83 -20.37,89.00 -20.20,85.00 C-20.03,81.00 -19.85,77.00 -19.90,76.00 C-19.95,75.00 -20.07,76.67 -20.50,79.00 C-20.93,81.33 -21.92,85.67 -22.50,90.00 C-23.08,94.33 -23.65,100.00 -24.00,105.00 C-24.35,110.00 -24.60,115.67 -24.60,120.00 C-24.60,124.33 -23.85,128.00 -24.00,131.00 C-24.15,134.00 -24.67,136.33 -25.50,138.00 C-26.33,139.67 -27.75,140.67 -29.00,141.00 C-30.25,141.33 -32.00,141.00 -33.00,140.00 C-34.00,139.00 -34.67,137.00 -35.00,135.00 C-35.33,133.00 -34.87,130.83 -35.00,128.00 C-35.13,125.17 -35.63,122.17 -35.80,118.00 C-35.97,113.83 -36.22,108.50 -36.00,103.00 C-35.78,97.50 -34.92,91.33 -34.50,85.00 C-34.08,78.67 -33.78,70.50 -33.50,65.00 C-33.22,59.50 -33.22,55.42 -32.80,52.00 C-32.38,48.58 -31.97,46.42 -31.00,44.50 C-30.03,42.58 -29.17,41.67 -27.00,40.50 C-24.83,39.33 -20.83,38.42 -18.00,37.50 C-15.17,36.58 -11.73,35.92 -10.00,35.00 C-8.27,34.08 -8.00,33.17 -7.60,32.00 C-7.20,30.83 -7.37,29.25 -7.60,28.00 C-7.83,26.75 -8.53,25.83 -9.00,24.50 C-9.47,23.17 -10.00,21.50 -10.40,20.00 C-10.80,18.50 -11.33,17.33 -11.40,15.50 C-11.47,13.67 -11.10,11.00 -10.80,9.00 C-10.50,7.00 -10.48,4.93 -9.60,3.50 C-8.72,2.07 -7.10,0.98 -5.50,0.40 C-3.90,-0.18 -1.83,0.00 0.00,0.00Z" transform="translate(319.5,101.9)" fill="#6b3df7"/></g>
<clipPath id="pa3"><rect x="768.5" y="0" width="100" height="307.3"/></clipPath>
<clipPath id="pb3"><rect x="768.5" y="307.3" width="100" height="100"/></clipPath>
<g clip-path="url(#pa3)"><path d="M0.00,0.00 C1.83,0.00 3.90,-0.18 5.50,0.40 C7.10,0.98 8.72,2.07 9.60,3.50 C10.48,4.93 10.50,7.00 10.80,9.00 C11.10,11.00 11.47,13.67 11.40,15.50 C11.33,17.33 10.80,18.50 10.40,20.00 C10.00,21.50 9.47,23.17 9.00,24.50 C8.53,25.83 7.83,26.75 7.60,28.00 C7.37,29.25 7.20,30.83 7.60,32.00 C8.00,33.17 8.27,34.08 10.00,35.00 C11.73,35.92 15.17,36.58 18.00,37.50 C20.83,38.42 24.83,39.33 27.00,40.50 C29.17,41.67 30.03,42.58 31.00,44.50 C31.97,46.42 32.38,48.58 32.80,52.00 C33.22,55.42 33.22,59.50 33.50,65.00 C33.78,70.50 34.08,78.67 34.50,85.00 C34.92,91.33 35.78,97.50 36.00,103.00 C36.22,108.50 35.97,113.83 35.80,118.00 C35.63,122.17 35.13,125.17 35.00,128.00 C34.87,130.83 35.33,133.00 35.00,135.00 C34.67,137.00 34.00,139.00 33.00,140.00 C32.00,141.00 30.25,141.33 29.00,141.00 C27.75,140.67 26.33,139.67 25.50,138.00 C24.67,136.33 24.15,134.00 24.00,131.00 C23.85,128.00 24.60,124.33 24.60,120.00 C24.60,115.67 24.35,110.00 24.00,105.00 C23.65,100.00 23.08,94.33 22.50,90.00 C21.92,85.67 20.93,81.33 20.50,79.00 C20.07,76.67 19.95,75.00 19.90,76.00 C19.85,77.00 20.03,81.00 20.20,85.00 C20.37,89.00 20.68,95.83 20.90,100.00 C21.12,104.17 21.25,107.17 21.50,110.00 C21.75,112.83 22.23,114.00 22.40,117.00 C22.57,120.00 22.65,124.17 22.50,128.00 C22.35,131.83 22.00,135.50 21.50,140.00 C21.00,144.50 20.25,150.67 19.50,155.00 C18.75,159.33 17.58,162.50 17.00,166.00 C16.42,169.50 15.97,172.67 16.00,176.00 C16.03,179.33 17.12,182.33 17.20,186.00 C17.28,189.67 17.20,194.00 16.50,198.00 C15.80,202.00 13.95,206.67 13.00,210.00 C12.05,213.33 10.97,215.67 10.80,218.00 C10.63,220.33 10.98,222.00 12.00,224.00 C13.02,226.00 16.40,228.58 16.90,230.00 C17.40,231.42 17.32,232.08 15.00,232.50 C12.68,232.92 5.30,233.08 3.00,232.50 C0.70,231.92 1.40,231.42 1.20,229.00 C1.00,226.58 1.75,222.83 1.80,218.00 C1.85,213.17 1.60,205.50 1.50,200.00 C1.40,194.50 1.27,191.67 1.20,185.00 C1.13,178.33 1.15,168.33 1.10,160.00 C1.05,151.67 1.08,140.92 0.90,135.00 C0.72,129.08 0.30,124.50 0.00,124.50 C-0.30,124.50 -0.72,129.08 -0.90,135.00 C-1.08,140.92 -1.05,151.67 -1.10,160.00 C-1.15,168.33 -1.13,178.33 -1.20,185.00 C-1.27,191.67 -1.40,194.50 -1.50,200.00 C-1.60,205.50 -1.85,213.17 -1.80,218.00 C-1.75,222.83 -1.00,226.58 -1.20,229.00 C-1.40,231.42 -0.70,231.92 -3.00,232.50 C-5.30,233.08 -12.68,232.92 -15.00,232.50 C-17.32,232.08 -17.40,231.42 -16.90,230.00 C-16.40,228.58 -13.02,226.00 -12.00,224.00 C-10.98,222.00 -10.63,220.33 -10.80,218.00 C-10.97,215.67 -12.05,213.33 -13.00,210.00 C-13.95,206.67 -15.80,202.00 -16.50,198.00 C-17.20,194.00 -17.28,189.67 -17.20,186.00 C-17.12,182.33 -16.03,179.33 -16.00,176.00 C-15.97,172.67 -16.42,169.50 -17.00,166.00 C-17.58,162.50 -18.75,159.33 -19.50,155.00 C-20.25,150.67 -21.00,144.50 -21.50,140.00 C-22.00,135.50 -22.35,131.83 -22.50,128.00 C-22.65,124.17 -22.57,120.00 -22.40,117.00 C-22.23,114.00 -21.75,112.83 -21.50,110.00 C-21.25,107.17 -21.12,104.17 -20.90,100.00 C-20.68,95.83 -20.37,89.00 -20.20,85.00 C-20.03,81.00 -19.85,77.00 -19.90,76.00 C-19.95,75.00 -20.07,76.67 -20.50,79.00 C-20.93,81.33 -21.92,85.67 -22.50,90.00 C-23.08,94.33 -23.65,100.00 -24.00,105.00 C-24.35,110.00 -24.60,115.67 -24.60,120.00 C-24.60,124.33 -23.85,128.00 -24.00,131.00 C-24.15,134.00 -24.67,136.33 -25.50,138.00 C-26.33,139.67 -27.75,140.67 -29.00,141.00 C-30.25,141.33 -32.00,141.00 -33.00,140.00 C-34.00,139.00 -34.67,137.00 -35.00,135.00 C-35.33,133.00 -34.87,130.83 -35.00,128.00 C-35.13,125.17 -35.63,122.17 -35.80,118.00 C-35.97,113.83 -36.22,108.50 -36.00,103.00 C-35.78,97.50 -34.92,91.33 -34.50,85.00 C-34.08,78.67 -33.78,70.50 -33.50,65.00 C-33.22,59.50 -33.22,55.42 -32.80,52.00 C-32.38,48.58 -31.97,46.42 -31.00,44.50 C-30.03,42.58 -29.17,41.67 -27.00,40.50 C-24.83,39.33 -20.83,38.42 -18.00,37.50 C-15.17,36.58 -11.73,35.92 -10.00,35.00 C-8.27,34.08 -8.00,33.17 -7.60,32.00 C-7.20,30.83 -7.37,29.25 -7.60,28.00 C-7.83,26.75 -8.53,25.83 -9.00,24.50 C-9.47,23.17 -10.00,21.50 -10.40,20.00 C-10.80,18.50 -11.33,17.33 -11.40,15.50 C-11.47,13.67 -11.10,11.00 -10.80,9.00 C-10.50,7.00 -10.48,4.93 -9.60,3.50 C-8.72,2.07 -7.10,0.98 -5.50,0.40 C-3.90,-0.18 -1.83,0.00 0.00,0.00Z" transform="translate(818.5,101.9)" fill="#80f7bc"/></g>
<g clip-path="url(#pb3)"><path d="M0.00,0.00 C1.83,0.00 3.90,-0.18 5.50,0.40 C7.10,0.98 8.72,2.07 9.60,3.50 C10.48,4.93 10.50,7.00 10.80,9.00 C11.10,11.00 11.47,13.67 11.40,15.50 C11.33,17.33 10.80,18.50 10.40,20.00 C10.00,21.50 9.47,23.17 9.00,24.50 C8.53,25.83 7.83,26.75 7.60,28.00 C7.37,29.25 7.20,30.83 7.60,32.00 C8.00,33.17 8.27,34.08 10.00,35.00 C11.73,35.92 15.17,36.58 18.00,37.50 C20.83,38.42 24.83,39.33 27.00,40.50 C29.17,41.67 30.03,42.58 31.00,44.50 C31.97,46.42 32.38,48.58 32.80,52.00 C33.22,55.42 33.22,59.50 33.50,65.00 C33.78,70.50 34.08,78.67 34.50,85.00 C34.92,91.33 35.78,97.50 36.00,103.00 C36.22,108.50 35.97,113.83 35.80,118.00 C35.63,122.17 35.13,125.17 35.00,128.00 C34.87,130.83 35.33,133.00 35.00,135.00 C34.67,137.00 34.00,139.00 33.00,140.00 C32.00,141.00 30.25,141.33 29.00,141.00 C27.75,140.67 26.33,139.67 25.50,138.00 C24.67,136.33 24.15,134.00 24.00,131.00 C23.85,128.00 24.60,124.33 24.60,120.00 C24.60,115.67 24.35,110.00 24.00,105.00 C23.65,100.00 23.08,94.33 22.50,90.00 C21.92,85.67 20.93,81.33 20.50,79.00 C20.07,76.67 19.95,75.00 19.90,76.00 C19.85,77.00 20.03,81.00 20.20,85.00 C20.37,89.00 20.68,95.83 20.90,100.00 C21.12,104.17 21.25,107.17 21.50,110.00 C21.75,112.83 22.23,114.00 22.40,117.00 C22.57,120.00 22.65,124.17 22.50,128.00 C22.35,131.83 22.00,135.50 21.50,140.00 C21.00,144.50 20.25,150.67 19.50,155.00 C18.75,159.33 17.58,162.50 17.00,166.00 C16.42,169.50 15.97,172.67 16.00,176.00 C16.03,179.33 17.12,182.33 17.20,186.00 C17.28,189.67 17.20,194.00 16.50,198.00 C15.80,202.00 13.95,206.67 13.00,210.00 C12.05,213.33 10.97,215.67 10.80,218.00 C10.63,220.33 10.98,222.00 12.00,224.00 C13.02,226.00 16.40,228.58 16.90,230.00 C17.40,231.42 17.32,232.08 15.00,232.50 C12.68,232.92 5.30,233.08 3.00,232.50 C0.70,231.92 1.40,231.42 1.20,229.00 C1.00,226.58 1.75,222.83 1.80,218.00 C1.85,213.17 1.60,205.50 1.50,200.00 C1.40,194.50 1.27,191.67 1.20,185.00 C1.13,178.33 1.15,168.33 1.10,160.00 C1.05,151.67 1.08,140.92 0.90,135.00 C0.72,129.08 0.30,124.50 0.00,124.50 C-0.30,124.50 -0.72,129.08 -0.90,135.00 C-1.08,140.92 -1.05,151.67 -1.10,160.00 C-1.15,168.33 -1.13,178.33 -1.20,185.00 C-1.27,191.67 -1.40,194.50 -1.50,200.00 C-1.60,205.50 -1.85,213.17 -1.80,218.00 C-1.75,222.83 -1.00,226.58 -1.20,229.00 C-1.40,231.42 -0.70,231.92 -3.00,232.50 C-5.30,233.08 -12.68,232.92 -15.00,232.50 C-17.32,232.08 -17.40,231.42 -16.90,230.00 C-16.40,228.58 -13.02,226.00 -12.00,224.00 C-10.98,222.00 -10.63,220.33 -10.80,218.00 C-10.97,215.67 -12.05,213.33 -13.00,210.00 C-13.95,206.67 -15.80,202.00 -16.50,198.00 C-17.20,194.00 -17.28,189.67 -17.20,186.00 C-17.12,182.33 -16.03,179.33 -16.00,176.00 C-15.97,172.67 -16.42,169.50 -17.00,166.00 C-17.58,162.50 -18.75,159.33 -19.50,155.00 C-20.25,150.67 -21.00,144.50 -21.50,140.00 C-22.00,135.50 -22.35,131.83 -22.50,128.00 C-22.65,124.17 -22.57,120.00 -22.40,117.00 C-22.23,114.00 -21.75,112.83 -21.50,110.00 C-21.25,107.17 -21.12,104.17 -20.90,100.00 C-20.68,95.83 -20.37,89.00 -20.20,85.00 C-20.03,81.00 -19.85,77.00 -19.90,76.00 C-19.95,75.00 -20.07,76.67 -20.50,79.00 C-20.93,81.33 -21.92,85.67 -22.50,90.00 C-23.08,94.33 -23.65,100.00 -24.00,105.00 C-24.35,110.00 -24.60,115.67 -24.60,120.00 C-24.60,124.33 -23.85,128.00 -24.00,131.00 C-24.15,134.00 -24.67,136.33 -25.50,138.00 C-26.33,139.67 -27.75,140.67 -29.00,141.00 C-30.25,141.33 -32.00,141.00 -33.00,140.00 C-34.00,139.00 -34.67,137.00 -35.00,135.00 C-35.33,133.00 -34.87,130.83 -35.00,128.00 C-35.13,125.17 -35.63,122.17 -35.80,118.00 C-35.97,113.83 -36.22,108.50 -36.00,103.00 C-35.78,97.50 -34.92,91.33 -34.50,85.00 C-34.08,78.67 -33.78,70.50 -33.50,65.00 C-33.22,59.50 -33.22,55.42 -32.80,52.00 C-32.38,48.58 -31.97,46.42 -31.00,44.50 C-30.03,42.58 -29.17,41.67 -27.00,40.50 C-24.83,39.33 -20.83,38.42 -18.00,37.50 C-15.17,36.58 -11.73,35.92 -10.00,35.00 C-8.27,34.08 -8.00,33.17 -7.60,32.00 C-7.20,30.83 -7.37,29.25 -7.60,28.00 C-7.83,26.75 -8.53,25.83 -9.00,24.50 C-9.47,23.17 -10.00,21.50 -10.40,20.00 C-10.80,18.50 -11.33,17.33 -11.40,15.50 C-11.47,13.67 -11.10,11.00 -10.80,9.00 C-10.50,7.00 -10.48,4.93 -9.60,3.50 C-8.72,2.07 -7.10,0.98 -5.50,0.40 C-3.90,-0.18 -1.83,0.00 0.00,0.00Z" transform="translate(818.5,101.9)" fill="#4a08f6"/></g>
<clipPath id="pc3"><rect x="768.5" y="325.4" width="100" height="20"/></clipPath>
<g clip-path="url(#pc3)"><path d="M0.00,0.00 C1.83,0.00 3.90,-0.18 5.50,0.40 C7.10,0.98 8.72,2.07 9.60,3.50 C10.48,4.93 10.50,7.00 10.80,9.00 C11.10,11.00 11.47,13.67 11.40,15.50 C11.33,17.33 10.80,18.50 10.40,20.00 C10.00,21.50 9.47,23.17 9.00,24.50 C8.53,25.83 7.83,26.75 7.60,28.00 C7.37,29.25 7.20,30.83 7.60,32.00 C8.00,33.17 8.27,34.08 10.00,35.00 C11.73,35.92 15.17,36.58 18.00,37.50 C20.83,38.42 24.83,39.33 27.00,40.50 C29.17,41.67 30.03,42.58 31.00,44.50 C31.97,46.42 32.38,48.58 32.80,52.00 C33.22,55.42 33.22,59.50 33.50,65.00 C33.78,70.50 34.08,78.67 34.50,85.00 C34.92,91.33 35.78,97.50 36.00,103.00 C36.22,108.50 35.97,113.83 35.80,118.00 C35.63,122.17 35.13,125.17 35.00,128.00 C34.87,130.83 35.33,133.00 35.00,135.00 C34.67,137.00 34.00,139.00 33.00,140.00 C32.00,141.00 30.25,141.33 29.00,141.00 C27.75,140.67 26.33,139.67 25.50,138.00 C24.67,136.33 24.15,134.00 24.00,131.00 C23.85,128.00 24.60,124.33 24.60,120.00 C24.60,115.67 24.35,110.00 24.00,105.00 C23.65,100.00 23.08,94.33 22.50,90.00 C21.92,85.67 20.93,81.33 20.50,79.00 C20.07,76.67 19.95,75.00 19.90,76.00 C19.85,77.00 20.03,81.00 20.20,85.00 C20.37,89.00 20.68,95.83 20.90,100.00 C21.12,104.17 21.25,107.17 21.50,110.00 C21.75,112.83 22.23,114.00 22.40,117.00 C22.57,120.00 22.65,124.17 22.50,128.00 C22.35,131.83 22.00,135.50 21.50,140.00 C21.00,144.50 20.25,150.67 19.50,155.00 C18.75,159.33 17.58,162.50 17.00,166.00 C16.42,169.50 15.97,172.67 16.00,176.00 C16.03,179.33 17.12,182.33 17.20,186.00 C17.28,189.67 17.20,194.00 16.50,198.00 C15.80,202.00 13.95,206.67 13.00,210.00 C12.05,213.33 10.97,215.67 10.80,218.00 C10.63,220.33 10.98,222.00 12.00,224.00 C13.02,226.00 16.40,228.58 16.90,230.00 C17.40,231.42 17.32,232.08 15.00,232.50 C12.68,232.92 5.30,233.08 3.00,232.50 C0.70,231.92 1.40,231.42 1.20,229.00 C1.00,226.58 1.75,222.83 1.80,218.00 C1.85,213.17 1.60,205.50 1.50,200.00 C1.40,194.50 1.27,191.67 1.20,185.00 C1.13,178.33 1.15,168.33 1.10,160.00 C1.05,151.67 1.08,140.92 0.90,135.00 C0.72,129.08 0.30,124.50 0.00,124.50 C-0.30,124.50 -0.72,129.08 -0.90,135.00 C-1.08,140.92 -1.05,151.67 -1.10,160.00 C-1.15,168.33 -1.13,178.33 -1.20,185.00 C-1.27,191.67 -1.40,194.50 -1.50,200.00 C-1.60,205.50 -1.85,213.17 -1.80,218.00 C-1.75,222.83 -1.00,226.58 -1.20,229.00 C-1.40,231.42 -0.70,231.92 -3.00,232.50 C-5.30,233.08 -12.68,232.92 -15.00,232.50 C-17.32,232.08 -17.40,231.42 -16.90,230.00 C-16.40,228.58 -13.02,226.00 -12.00,224.00 C-10.98,222.00 -10.63,220.33 -10.80,218.00 C-10.97,215.67 -12.05,213.33 -13.00,210.00 C-13.95,206.67 -15.80,202.00 -16.50,198.00 C-17.20,194.00 -17.28,189.67 -17.20,186.00 C-17.12,182.33 -16.03,179.33 -16.00,176.00 C-15.97,172.67 -16.42,169.50 -17.00,166.00 C-17.58,162.50 -18.75,159.33 -19.50,155.00 C-20.25,150.67 -21.00,144.50 -21.50,140.00 C-22.00,135.50 -22.35,131.83 -22.50,128.00 C-22.65,124.17 -22.57,120.00 -22.40,117.00 C-22.23,114.00 -21.75,112.83 -21.50,110.00 C-21.25,107.17 -21.12,104.17 -20.90,100.00 C-20.68,95.83 -20.37,89.00 -20.20,85.00 C-20.03,81.00 -19.85,77.00 -19.90,76.00 C-19.95,75.00 -20.07,76.67 -20.50,79.00 C-20.93,81.33 -21.92,85.67 -22.50,90.00 C-23.08,94.33 -23.65,100.00 -24.00,105.00 C-24.35,110.00 -24.60,115.67 -24.60,120.00 C-24.60,124.33 -23.85,128.00 -24.00,131.00 C-24.15,134.00 -24.67,136.33 -25.50,138.00 C-26.33,139.67 -27.75,140.67 -29.00,141.00 C-30.25,141.33 -32.00,141.00 -33.00,140.00 C-34.00,139.00 -34.67,137.00 -35.00,135.00 C-35.33,133.00 -34.87,130.83 -35.00,128.00 C-35.13,125.17 -35.63,122.17 -35.80,118.00 C-35.97,113.83 -36.22,108.50 -36.00,103.00 C-35.78,97.50 -34.92,91.33 -34.50,85.00 C-34.08,78.67 -33.78,70.50 -33.50,65.00 C-33.22,59.50 -33.22,55.42 -32.80,52.00 C-32.38,48.58 -31.97,46.42 -31.00,44.50 C-30.03,42.58 -29.17,41.67 -27.00,40.50 C-24.83,39.33 -20.83,38.42 -18.00,37.50 C-15.17,36.58 -11.73,35.92 -10.00,35.00 C-8.27,34.08 -8.00,33.17 -7.60,32.00 C-7.20,30.83 -7.37,29.25 -7.60,28.00 C-7.83,26.75 -8.53,25.83 -9.00,24.50 C-9.47,23.17 -10.00,21.50 -10.40,20.00 C-10.80,18.50 -11.33,17.33 -11.40,15.50 C-11.47,13.67 -11.10,11.00 -10.80,9.00 C-10.50,7.00 -10.48,4.93 -9.60,3.50 C-8.72,2.07 -7.10,0.98 -5.50,0.40 C-3.90,-0.18 -1.83,0.00 0.00,0.00Z" transform="translate(818.5,101.9)" fill="#6b3df7"/></g>
<line x1="81.5" y1="243" x2="81.5" y2="866" stroke="#4a08f6" stroke-width="2.4" stroke-dasharray="2.2 1.2"/>
<line x1="291.3" y1="243" x2="291.3" y2="1006" stroke="#4a08f6" stroke-width="2.4" stroke-dasharray="2.2 1.2"/>
<line x1="790" y1="243" x2="790" y2="712" stroke="#4a08f6" stroke-width="2.4" stroke-dasharray="2.2 1.2"/>
<mask id="mapmask" maskUnits="userSpaceOnUse" x="100" y="960" width="900" height="730"><polygon fill="#fff" points="108.8,1205.8 309.5,1215.8 311.2,1231.5 382.5,1197.5 357.0,1184.5 422.5,1138.8 444.5,1053.8 462.5,983.8 511.2,1000.0 530.5,983.8 562.5,1018.8 605.0,1016.2 637.5,1013.8 667.5,1033.8 955.0,983.0 941.2,1138.8 997.5,1186.2 873.8,1368.8 847.5,1359.2 780.0,1335.0 743.8,1331.2 661.8,1327.5 647.5,1422.5 586.2,1400.0 575.0,1428.8 473.8,1396.2 487.0,1364.5 446.2,1353.8 432.5,1405.0 396.2,1396.2 402.5,1437.0 385.0,1465.0 393.0,1500.0 359.0,1518.0 328.0,1534.0 300.0,1497.0 291.0,1528.0 278.8,1577.5 285.0,1617.5 298.0,1665.0 225.0,1669.5 219.5,1602.5 243.0,1588.0 236.2,1567.0 208.8,1568.8 176.2,1493.8 152.5,1446.2 117.5,1450.0 116.2,1440.0 113.8,1355.0 110.5,1258.8"/></mask>
<g mask="url(#mapmask)">
<rect x="100" y="970" width="900" height="710" fill="#ff0000"/>
<polygon points="100.0,1355.0 113.8,1355.0 162.5,1360.0 196.2,1368.8 238.8,1368.8 256.2,1328.8 346.2,1290.0 396.2,1297.5 398.8,1311.2 361.2,1323.8 352.5,1352.5 387.5,1371.2 383.8,1390.0 396.0,1396.0 397.0,1397.0 404.0,1437.0 420.0,1440.0 420.0,1700.0 100.0,1700.0" fill="#ff5000"/>
<polygon points="538.8,993.0 527.5,1035.0 662.5,1182.5 652.5,1212.5 675.0,1213.0 762.5,1175.5 960.0,1173.0 990.0,1196.2 1000.0,1190.0 1000.0,960.0 538.0,960.0" fill="#ff5000"/>
<polygon points="100.0,1195.0 155.0,1195.0 155.0,1208.0 153.2,1240.0 130.0,1258.0 100.0,1259.0" fill="#4a08f6"/>
<polygon points="239.5,1190.0 240.0,1233.8 268.0,1265.0 330.0,1271.2 353.8,1247.5 375.0,1250.0 425.0,1233.8 453.0,1247.0 457.5,1248.8 468.8,1290.0 450.0,1312.5 451.2,1327.5 487.5,1343.8 480.0,1362.5 488.0,1364.5 480.0,1385.0 487.5,1400.0 480.0,1450.0 745.0,1450.0 743.8,1331.2 735.0,1291.2 640.0,1241.2 493.8,1087.5 472.5,1085.5 491.5,1068.0 444.5,1053.8 400.0,1040.0 300.0,1150.0" fill="#4a08f6"/>
<polygon points="895.0,1338.0 880.0,1375.0 847.5,1359.2" fill="#4a08f6"/>
<polygon points="605.0,1010.0 605.0,1016.2 615.0,1038.8 638.8,1050.5 666.2,1040.0 667.5,1033.8 667.5,1000.0" fill="#ffd23c"/>
<polygon points="737.0,1000.0 737.0,1022.0 746.2,1044.5 775.0,1050.5 803.8,1046.2 812.5,1030.0 817.0,1008.0 817.0,990.0" fill="#ffd23c"/>
<polygon points="681.2,1112.0 698.0,1107.5 708.8,1111.2 708.8,1126.2 695.0,1133.0 681.2,1127.0" fill="#ffd23c"/>
<polygon points="877.5,1120.5 890.0,1120.5 897.0,1130.0 876.2,1130.0" fill="#ffd23c"/>
<polygon points="170.0,1494.0 176.2,1493.8 225.0,1485.5 252.5,1489.5 265.0,1517.5 291.2,1527.5 300.0,1528.0 310.0,1700.0 170.0,1700.0" fill="#ffd23c"/>
<polygon points="157.5,1453.8 167.5,1448.0 178.8,1448.8 177.5,1467.5 166.2,1473.8 150.0,1460.0" fill="#ffd23c"/>
<polygon points="360.0,1491.0 366.0,1483.0 388.0,1475.0 395.0,1500.0 359.0,1519.0 355.0,1520.0" fill="#ffd23c"/>
<polygon points="263.0,1392.0 281.2,1382.5 291.2,1383.0 298.8,1395.0 282.5,1407.0 263.8,1400.5" fill="#ff0000"/>
</g>
<g fill="#f8e9c9">
<path transform="translate(817.4,743.0) scale(5.94,5.6)" d="M0.86,-2.29C0.90,-1.69 1,-0.89 1,0A1,1 0 1 1 -1,0C-1.00,-0.11 -0.99,-0.23 -0.96,-0.35C-0.92,-0.47 -0.89,-0.60 -0.79,-0.73C-0.69,-0.86 -0.52,-0.99 -0.37,-1.12C-0.22,-1.25 -0.02,-1.37 0.13,-1.50C0.28,-1.63 0.43,-1.75 0.55,-1.88C0.67,-2.01 0.80,-2.17 0.86,-2.29Z"/>
<path transform="translate(851.2,735.2) scale(5.94,5.6)" d="M0.86,-2.29C0.90,-1.69 1,-0.89 1,0A1,1 0 1 1 -1,0C-1.00,-0.11 -0.99,-0.23 -0.96,-0.35C-0.92,-0.47 -0.89,-0.60 -0.79,-0.73C-0.69,-0.86 -0.52,-0.99 -0.37,-1.12C-0.22,-1.25 -0.02,-1.37 0.13,-1.50C0.28,-1.63 0.43,-1.75 0.55,-1.88C0.67,-2.01 0.80,-2.17 0.86,-2.29Z"/>
<path transform="translate(883.7,726.1) scale(5.94,5.6)" d="M0.86,-2.29C0.90,-1.69 1,-0.89 1,0A1,1 0 1 1 -1,0C-1.00,-0.11 -0.99,-0.23 -0.96,-0.35C-0.92,-0.47 -0.89,-0.60 -0.79,-0.73C-0.69,-0.86 -0.52,-0.99 -0.37,-1.12C-0.22,-1.25 -0.02,-1.37 0.13,-1.50C0.28,-1.63 0.43,-1.75 0.55,-1.88C0.67,-2.01 0.80,-2.17 0.86,-2.29Z"/>
<path transform="translate(907.1,743.0) scale(5.94,5.6)" d="M0.86,-2.29C0.90,-1.69 1,-0.89 1,0A1,1 0 1 1 -1,0C-1.00,-0.11 -0.99,-0.23 -0.96,-0.35C-0.92,-0.47 -0.89,-0.60 -0.79,-0.73C-0.69,-0.86 -0.52,-0.99 -0.37,-1.12C-0.22,-1.25 -0.02,-1.37 0.13,-1.50C0.28,-1.63 0.43,-1.75 0.55,-1.88C0.67,-2.01 0.80,-2.17 0.86,-2.29Z"/>
<path transform="translate(838.2,757.3) scale(5.94,5.6)" d="M0.86,-2.29C0.90,-1.69 1,-0.89 1,0A1,1 0 1 1 -1,0C-1.00,-0.11 -0.99,-0.23 -0.96,-0.35C-0.92,-0.47 -0.89,-0.60 -0.79,-0.73C-0.69,-0.86 -0.52,-0.99 -0.37,-1.12C-0.22,-1.25 -0.02,-1.37 0.13,-1.50C0.28,-1.63 0.43,-1.75 0.55,-1.88C0.67,-2.01 0.80,-2.17 0.86,-2.29Z"/>
<path transform="translate(864.2,748.2) scale(5.94,5.6)" d="M0.86,-2.29C0.90,-1.69 1,-0.89 1,0A1,1 0 1 1 -1,0C-1.00,-0.11 -0.99,-0.23 -0.96,-0.35C-0.92,-0.47 -0.89,-0.60 -0.79,-0.73C-0.69,-0.86 -0.52,-0.99 -0.37,-1.12C-0.22,-1.25 -0.02,-1.37 0.13,-1.50C0.28,-1.63 0.43,-1.75 0.55,-1.88C0.67,-2.01 0.80,-2.17 0.86,-2.29Z"/>
<path transform="translate(883.7,754.7) scale(5.94,5.6)" d="M0.86,-2.29C0.90,-1.69 1,-0.89 1,0A1,1 0 1 1 -1,0C-1.00,-0.11 -0.99,-0.23 -0.96,-0.35C-0.92,-0.47 -0.89,-0.60 -0.79,-0.73C-0.69,-0.86 -0.52,-0.99 -0.37,-1.12C-0.22,-1.25 -0.02,-1.37 0.13,-1.50C0.28,-1.63 0.43,-1.75 0.55,-1.88C0.67,-2.01 0.80,-2.17 0.86,-2.29Z"/>
<path transform="translate(821.3,783.3) scale(5.94,5.6)" d="M0.86,-2.29C0.90,-1.69 1,-0.89 1,0A1,1 0 1 1 -1,0C-1.00,-0.11 -0.99,-0.23 -0.96,-0.35C-0.92,-0.47 -0.89,-0.60 -0.79,-0.73C-0.69,-0.86 -0.52,-0.99 -0.37,-1.12C-0.22,-1.25 -0.02,-1.37 0.13,-1.50C0.28,-1.63 0.43,-1.75 0.55,-1.88C0.67,-2.01 0.80,-2.17 0.86,-2.29Z"/>
<path transform="translate(849.9,775.5) scale(5.94,5.6)" d="M0.86,-2.29C0.90,-1.69 1,-0.89 1,0A1,1 0 1 1 -1,0C-1.00,-0.11 -0.99,-0.23 -0.96,-0.35C-0.92,-0.47 -0.89,-0.60 -0.79,-0.73C-0.69,-0.86 -0.52,-0.99 -0.37,-1.12C-0.22,-1.25 -0.02,-1.37 0.13,-1.50C0.28,-1.63 0.43,-1.75 0.55,-1.88C0.67,-2.01 0.80,-2.17 0.86,-2.29Z"/>
<path transform="translate(869.9,775.5) scale(5.94,5.6)" d="M0.86,-2.29C0.90,-1.69 1,-0.89 1,0A1,1 0 1 1 -1,0C-1.00,-0.11 -0.99,-0.23 -0.96,-0.35C-0.92,-0.47 -0.89,-0.60 -0.79,-0.73C-0.69,-0.86 -0.52,-0.99 -0.37,-1.12C-0.22,-1.25 -0.02,-1.37 0.13,-1.50C0.28,-1.63 0.43,-1.75 0.55,-1.88C0.67,-2.01 0.80,-2.17 0.86,-2.29Z"/>
<path transform="translate(898.0,788.5) scale(5.94,5.6)" d="M0.86,-2.29C0.90,-1.69 1,-0.89 1,0A1,1 0 1 1 -1,0C-1.00,-0.11 -0.99,-0.23 -0.96,-0.35C-0.92,-0.47 -0.89,-0.60 -0.79,-0.73C-0.69,-0.86 -0.52,-0.99 -0.37,-1.12C-0.22,-1.25 -0.02,-1.37 0.13,-1.50C0.28,-1.63 0.43,-1.75 0.55,-1.88C0.67,-2.01 0.80,-2.17 0.86,-2.29Z"/>
</g>
<g fill="#f8e9c9">
<path transform="translate(855.6,820.0) scale(5.94,5.6)" d="M0.86,-2.29C0.90,-1.69 1,-0.89 1,0A1,1 0 1 1 -1,0C-1.00,-0.11 -0.99,-0.23 -0.96,-0.35C-0.92,-0.47 -0.89,-0.60 -0.79,-0.73C-0.69,-0.86 -0.52,-0.99 -0.37,-1.12C-0.22,-1.25 -0.02,-1.37 0.13,-1.50C0.28,-1.63 0.43,-1.75 0.55,-1.88C0.67,-2.01 0.80,-2.17 0.86,-2.29Z"/>
<path transform="translate(889.4,812.2) scale(5.94,5.6)" d="M0.86,-2.29C0.90,-1.69 1,-0.89 1,0A1,1 0 1 1 -1,0C-1.00,-0.11 -0.99,-0.23 -0.96,-0.35C-0.92,-0.47 -0.89,-0.60 -0.79,-0.73C-0.69,-0.86 -0.52,-0.99 -0.37,-1.12C-0.22,-1.25 -0.02,-1.37 0.13,-1.50C0.28,-1.63 0.43,-1.75 0.55,-1.88C0.67,-2.01 0.80,-2.17 0.86,-2.29Z"/>
<path transform="translate(921.9,803.1) scale(5.94,5.6)" d="M0.86,-2.29C0.90,-1.69 1,-0.89 1,0A1,1 0 1 1 -1,0C-1.00,-0.11 -0.99,-0.23 -0.96,-0.35C-0.92,-0.47 -0.89,-0.60 -0.79,-0.73C-0.69,-0.86 -0.52,-0.99 -0.37,-1.12C-0.22,-1.25 -0.02,-1.37 0.13,-1.50C0.28,-1.63 0.43,-1.75 0.55,-1.88C0.67,-2.01 0.80,-2.17 0.86,-2.29Z"/>
<path transform="translate(945.3,820.0) scale(5.94,5.6)" d="M0.86,-2.29C0.90,-1.69 1,-0.89 1,0A1,1 0 1 1 -1,0C-1.00,-0.11 -0.99,-0.23 -0.96,-0.35C-0.92,-0.47 -0.89,-0.60 -0.79,-0.73C-0.69,-0.86 -0.52,-0.99 -0.37,-1.12C-0.22,-1.25 -0.02,-1.37 0.13,-1.50C0.28,-1.63 0.43,-1.75 0.55,-1.88C0.67,-2.01 0.80,-2.17 0.86,-2.29Z"/>
<path transform="translate(876.4,834.3) scale(5.94,5.6)" d="M0.86,-2.29C0.90,-1.69 1,-0.89 1,0A1,1 0 1 1 -1,0C-1.00,-0.11 -0.99,-0.23 -0.96,-0.35C-0.92,-0.47 -0.89,-0.60 -0.79,-0.73C-0.69,-0.86 -0.52,-0.99 -0.37,-1.12C-0.22,-1.25 -0.02,-1.37 0.13,-1.50C0.28,-1.63 0.43,-1.75 0.55,-1.88C0.67,-2.01 0.80,-2.17 0.86,-2.29Z"/>
<path transform="translate(902.4,825.2) scale(5.94,5.6)" d="M0.86,-2.29C0.90,-1.69 1,-0.89 1,0A1,1 0 1 1 -1,0C-1.00,-0.11 -0.99,-0.23 -0.96,-0.35C-0.92,-0.47 -0.89,-0.60 -0.79,-0.73C-0.69,-0.86 -0.52,-0.99 -0.37,-1.12C-0.22,-1.25 -0.02,-1.37 0.13,-1.50C0.28,-1.63 0.43,-1.75 0.55,-1.88C0.67,-2.01 0.80,-2.17 0.86,-2.29Z"/>
<path transform="translate(921.9,831.7) scale(5.94,5.6)" d="M0.86,-2.29C0.90,-1.69 1,-0.89 1,0A1,1 0 1 1 -1,0C-1.00,-0.11 -0.99,-0.23 -0.96,-0.35C-0.92,-0.47 -0.89,-0.60 -0.79,-0.73C-0.69,-0.86 -0.52,-0.99 -0.37,-1.12C-0.22,-1.25 -0.02,-1.37 0.13,-1.50C0.28,-1.63 0.43,-1.75 0.55,-1.88C0.67,-2.01 0.80,-2.17 0.86,-2.29Z"/>
<path transform="translate(859.5,860.3) scale(5.94,5.6)" d="M0.86,-2.29C0.90,-1.69 1,-0.89 1,0A1,1 0 1 1 -1,0C-1.00,-0.11 -0.99,-0.23 -0.96,-0.35C-0.92,-0.47 -0.89,-0.60 -0.79,-0.73C-0.69,-0.86 -0.52,-0.99 -0.37,-1.12C-0.22,-1.25 -0.02,-1.37 0.13,-1.50C0.28,-1.63 0.43,-1.75 0.55,-1.88C0.67,-2.01 0.80,-2.17 0.86,-2.29Z"/>
<path transform="translate(888.1,852.5) scale(5.94,5.6)" d="M0.86,-2.29C0.90,-1.69 1,-0.89 1,0A1,1 0 1 1 -1,0C-1.00,-0.11 -0.99,-0.23 -0.96,-0.35C-0.92,-0.47 -0.89,-0.60 -0.79,-0.73C-0.69,-0.86 -0.52,-0.99 -0.37,-1.12C-0.22,-1.25 -0.02,-1.37 0.13,-1.50C0.28,-1.63 0.43,-1.75 0.55,-1.88C0.67,-2.01 0.80,-2.17 0.86,-2.29Z"/>
<path transform="translate(908.1,852.5) scale(5.94,5.6)" d="M0.86,-2.29C0.90,-1.69 1,-0.89 1,0A1,1 0 1 1 -1,0C-1.00,-0.11 -0.99,-0.23 -0.96,-0.35C-0.92,-0.47 -0.89,-0.60 -0.79,-0.73C-0.69,-0.86 -0.52,-0.99 -0.37,-1.12C-0.22,-1.25 -0.02,-1.37 0.13,-1.50C0.28,-1.63 0.43,-1.75 0.55,-1.88C0.67,-2.01 0.80,-2.17 0.86,-2.29Z"/>
<path transform="translate(936.2,865.5) scale(5.94,5.6)" d="M0.86,-2.29C0.90,-1.69 1,-0.89 1,0A1,1 0 1 1 -1,0C-1.00,-0.11 -0.99,-0.23 -0.96,-0.35C-0.92,-0.47 -0.89,-0.60 -0.79,-0.73C-0.69,-0.86 -0.52,-0.99 -0.37,-1.12C-0.22,-1.25 -0.02,-1.37 0.13,-1.50C0.28,-1.63 0.43,-1.75 0.55,-1.88C0.67,-2.01 0.80,-2.17 0.86,-2.29Z"/>
</g>
<g fill="#f8e9c9">
<path transform="translate(727.2,844.0) scale(5.94,5.6)" d="M0.86,-2.29C0.90,-1.69 1,-0.89 1,0A1,1 0 1 1 -1,0C-1.00,-0.11 -0.99,-0.23 -0.96,-0.35C-0.92,-0.47 -0.89,-0.60 -0.79,-0.73C-0.69,-0.86 -0.52,-0.99 -0.37,-1.12C-0.22,-1.25 -0.02,-1.37 0.13,-1.50C0.28,-1.63 0.43,-1.75 0.55,-1.88C0.67,-2.01 0.80,-2.17 0.86,-2.29Z"/>
<path transform="translate(761.0,836.2) scale(5.94,5.6)" d="M0.86,-2.29C0.90,-1.69 1,-0.89 1,0A1,1 0 1 1 -1,0C-1.00,-0.11 -0.99,-0.23 -0.96,-0.35C-0.92,-0.47 -0.89,-0.60 -0.79,-0.73C-0.69,-0.86 -0.52,-0.99 -0.37,-1.12C-0.22,-1.25 -0.02,-1.37 0.13,-1.50C0.28,-1.63 0.43,-1.75 0.55,-1.88C0.67,-2.01 0.80,-2.17 0.86,-2.29Z"/>
<path transform="translate(793.5,827.1) scale(5.94,5.6)" d="M0.86,-2.29C0.90,-1.69 1,-0.89 1,0A1,1 0 1 1 -1,0C-1.00,-0.11 -0.99,-0.23 -0.96,-0.35C-0.92,-0.47 -0.89,-0.60 -0.79,-0.73C-0.69,-0.86 -0.52,-0.99 -0.37,-1.12C-0.22,-1.25 -0.02,-1.37 0.13,-1.50C0.28,-1.63 0.43,-1.75 0.55,-1.88C0.67,-2.01 0.80,-2.17 0.86,-2.29Z"/>
<path transform="translate(816.9,844.0) scale(5.94,5.6)" d="M0.86,-2.29C0.90,-1.69 1,-0.89 1,0A1,1 0 1 1 -1,0C-1.00,-0.11 -0.99,-0.23 -0.96,-0.35C-0.92,-0.47 -0.89,-0.60 -0.79,-0.73C-0.69,-0.86 -0.52,-0.99 -0.37,-1.12C-0.22,-1.25 -0.02,-1.37 0.13,-1.50C0.28,-1.63 0.43,-1.75 0.55,-1.88C0.67,-2.01 0.80,-2.17 0.86,-2.29Z"/>
<path transform="translate(748.0,858.3) scale(5.94,5.6)" d="M0.86,-2.29C0.90,-1.69 1,-0.89 1,0A1,1 0 1 1 -1,0C-1.00,-0.11 -0.99,-0.23 -0.96,-0.35C-0.92,-0.47 -0.89,-0.60 -0.79,-0.73C-0.69,-0.86 -0.52,-0.99 -0.37,-1.12C-0.22,-1.25 -0.02,-1.37 0.13,-1.50C0.28,-1.63 0.43,-1.75 0.55,-1.88C0.67,-2.01 0.80,-2.17 0.86,-2.29Z"/>
<path transform="translate(774.0,849.2) scale(5.94,5.6)" d="M0.86,-2.29C0.90,-1.69 1,-0.89 1,0A1,1 0 1 1 -1,0C-1.00,-0.11 -0.99,-0.23 -0.96,-0.35C-0.92,-0.47 -0.89,-0.60 -0.79,-0.73C-0.69,-0.86 -0.52,-0.99 -0.37,-1.12C-0.22,-1.25 -0.02,-1.37 0.13,-1.50C0.28,-1.63 0.43,-1.75 0.55,-1.88C0.67,-2.01 0.80,-2.17 0.86,-2.29Z"/>
<path transform="translate(793.5,855.7) scale(5.94,5.6)" d="M0.86,-2.29C0.90,-1.69 1,-0.89 1,0A1,1 0 1 1 -1,0C-1.00,-0.11 -0.99,-0.23 -0.96,-0.35C-0.92,-0.47 -0.89,-0.60 -0.79,-0.73C-0.69,-0.86 -0.52,-0.99 -0.37,-1.12C-0.22,-1.25 -0.02,-1.37 0.13,-1.50C0.28,-1.63 0.43,-1.75 0.55,-1.88C0.67,-2.01 0.80,-2.17 0.86,-2.29Z"/>
<path transform="translate(731.1,884.3) scale(5.94,5.6)" d="M0.86,-2.29C0.90,-1.69 1,-0.89 1,0A1,1 0 1 1 -1,0C-1.00,-0.11 -0.99,-0.23 -0.96,-0.35C-0.92,-0.47 -0.89,-0.60 -0.79,-0.73C-0.69,-0.86 -0.52,-0.99 -0.37,-1.12C-0.22,-1.25 -0.02,-1.37 0.13,-1.50C0.28,-1.63 0.43,-1.75 0.55,-1.88C0.67,-2.01 0.80,-2.17 0.86,-2.29Z"/>
<path transform="translate(759.7,876.5) scale(5.94,5.6)" d="M0.86,-2.29C0.90,-1.69 1,-0.89 1,0A1,1 0 1 1 -1,0C-1.00,-0.11 -0.99,-0.23 -0.96,-0.35C-0.92,-0.47 -0.89,-0.60 -0.79,-0.73C-0.69,-0.86 -0.52,-0.99 -0.37,-1.12C-0.22,-1.25 -0.02,-1.37 0.13,-1.50C0.28,-1.63 0.43,-1.75 0.55,-1.88C0.67,-2.01 0.80,-2.17 0.86,-2.29Z"/>
<path transform="translate(779.7,876.5) scale(5.94,5.6)" d="M0.86,-2.29C0.90,-1.69 1,-0.89 1,0A1,1 0 1 1 -1,0C-1.00,-0.11 -0.99,-0.23 -0.96,-0.35C-0.92,-0.47 -0.89,-0.60 -0.79,-0.73C-0.69,-0.86 -0.52,-0.99 -0.37,-1.12C-0.22,-1.25 -0.02,-1.37 0.13,-1.50C0.28,-1.63 0.43,-1.75 0.55,-1.88C0.67,-2.01 0.80,-2.17 0.86,-2.29Z"/>
<path transform="translate(807.8,889.5) scale(5.94,5.6)" d="M0.86,-2.29C0.90,-1.69 1,-0.89 1,0A1,1 0 1 1 -1,0C-1.00,-0.11 -0.99,-0.23 -0.96,-0.35C-0.92,-0.47 -0.89,-0.60 -0.79,-0.73C-0.69,-0.86 -0.52,-0.99 -0.37,-1.12C-0.22,-1.25 -0.02,-1.37 0.13,-1.50C0.28,-1.63 0.43,-1.75 0.55,-1.88C0.67,-2.01 0.80,-2.17 0.86,-2.29Z"/>
</g>
<g fill="#f8e9c9">
<path transform="translate(843.8,900.0) scale(5.94,5.6)" d="M0.86,-2.29C0.90,-1.69 1,-0.89 1,0A1,1 0 1 1 -1,0C-1.00,-0.11 -0.99,-0.23 -0.96,-0.35C-0.92,-0.47 -0.89,-0.60 -0.79,-0.73C-0.69,-0.86 -0.52,-0.99 -0.37,-1.12C-0.22,-1.25 -0.02,-1.37 0.13,-1.50C0.28,-1.63 0.43,-1.75 0.55,-1.88C0.67,-2.01 0.80,-2.17 0.86,-2.29Z"/>
<path transform="translate(877.6,892.2) scale(5.94,5.6)" d="M0.86,-2.29C0.90,-1.69 1,-0.89 1,0A1,1 0 1 1 -1,0C-1.00,-0.11 -0.99,-0.23 -0.96,-0.35C-0.92,-0.47 -0.89,-0.60 -0.79,-0.73C-0.69,-0.86 -0.52,-0.99 -0.37,-1.12C-0.22,-1.25 -0.02,-1.37 0.13,-1.50C0.28,-1.63 0.43,-1.75 0.55,-1.88C0.67,-2.01 0.80,-2.17 0.86,-2.29Z"/>
<path transform="translate(910.1,883.1) scale(5.94,5.6)" d="M0.86,-2.29C0.90,-1.69 1,-0.89 1,0A1,1 0 1 1 -1,0C-1.00,-0.11 -0.99,-0.23 -0.96,-0.35C-0.92,-0.47 -0.89,-0.60 -0.79,-0.73C-0.69,-0.86 -0.52,-0.99 -0.37,-1.12C-0.22,-1.25 -0.02,-1.37 0.13,-1.50C0.28,-1.63 0.43,-1.75 0.55,-1.88C0.67,-2.01 0.80,-2.17 0.86,-2.29Z"/>
<path transform="translate(933.5,900.0) scale(5.94,5.6)" d="M0.86,-2.29C0.90,-1.69 1,-0.89 1,0A1,1 0 1 1 -1,0C-1.00,-0.11 -0.99,-0.23 -0.96,-0.35C-0.92,-0.47 -0.89,-0.60 -0.79,-0.73C-0.69,-0.86 -0.52,-0.99 -0.37,-1.12C-0.22,-1.25 -0.02,-1.37 0.13,-1.50C0.28,-1.63 0.43,-1.75 0.55,-1.88C0.67,-2.01 0.80,-2.17 0.86,-2.29Z"/>
<path transform="translate(864.6,914.3) scale(5.94,5.6)" d="M0.86,-2.29C0.90,-1.69 1,-0.89 1,0A1,1 0 1 1 -1,0C-1.00,-0.11 -0.99,-0.23 -0.96,-0.35C-0.92,-0.47 -0.89,-0.60 -0.79,-0.73C-0.69,-0.86 -0.52,-0.99 -0.37,-1.12C-0.22,-1.25 -0.02,-1.37 0.13,-1.50C0.28,-1.63 0.43,-1.75 0.55,-1.88C0.67,-2.01 0.80,-2.17 0.86,-2.29Z"/>
<path transform="translate(890.6,905.2) scale(5.94,5.6)" d="M0.86,-2.29C0.90,-1.69 1,-0.89 1,0A1,1 0 1 1 -1,0C-1.00,-0.11 -0.99,-0.23 -0.96,-0.35C-0.92,-0.47 -0.89,-0.60 -0.79,-0.73C-0.69,-0.86 -0.52,-0.99 -0.37,-1.12C-0.22,-1.25 -0.02,-1.37 0.13,-1.50C0.28,-1.63 0.43,-1.75 0.55,-1.88C0.67,-2.01 0.80,-2.17 0.86,-2.29Z"/>
<path transform="translate(910.1,911.7) scale(5.94,5.6)" d="M0.86,-2.29C0.90,-1.69 1,-0.89 1,0A1,1 0 1 1 -1,0C-1.00,-0.11 -0.99,-0.23 -0.96,-0.35C-0.92,-0.47 -0.89,-0.60 -0.79,-0.73C-0.69,-0.86 -0.52,-0.99 -0.37,-1.12C-0.22,-1.25 -0.02,-1.37 0.13,-1.50C0.28,-1.63 0.43,-1.75 0.55,-1.88C0.67,-2.01 0.80,-2.17 0.86,-2.29Z"/>
<path transform="translate(847.7,940.3) scale(5.94,5.6)" d="M0.86,-2.29C0.90,-1.69 1,-0.89 1,0A1,1 0 1 1 -1,0C-1.00,-0.11 -0.99,-0.23 -0.96,-0.35C-0.92,-0.47 -0.89,-0.60 -0.79,-0.73C-0.69,-0.86 -0.52,-0.99 -0.37,-1.12C-0.22,-1.25 -0.02,-1.37 0.13,-1.50C0.28,-1.63 0.43,-1.75 0.55,-1.88C0.67,-2.01 0.80,-2.17 0.86,-2.29Z"/>
<path transform="translate(876.3,932.5) scale(5.94,5.6)" d="M0.86,-2.29C0.90,-1.69 1,-0.89 1,0A1,1 0 1 1 -1,0C-1.00,-0.11 -0.99,-0.23 -0.96,-0.35C-0.92,-0.47 -0.89,-0.60 -0.79,-0.73C-0.69,-0.86 -0.52,-0.99 -0.37,-1.12C-0.22,-1.25 -0.02,-1.37 0.13,-1.50C0.28,-1.63 0.43,-1.75 0.55,-1.88C0.67,-2.01 0.80,-2.17 0.86,-2.29Z"/>
<path transform="translate(896.3,932.5) scale(5.94,5.6)" d="M0.86,-2.29C0.90,-1.69 1,-0.89 1,0A1,1 0 1 1 -1,0C-1.00,-0.11 -0.99,-0.23 -0.96,-0.35C-0.92,-0.47 -0.89,-0.60 -0.79,-0.73C-0.69,-0.86 -0.52,-0.99 -0.37,-1.12C-0.22,-1.25 -0.02,-1.37 0.13,-1.50C0.28,-1.63 0.43,-1.75 0.55,-1.88C0.67,-2.01 0.80,-2.17 0.86,-2.29Z"/>
<path transform="translate(924.4,945.5) scale(5.94,5.6)" d="M0.86,-2.29C0.90,-1.69 1,-0.89 1,0A1,1 0 1 1 -1,0C-1.00,-0.11 -0.99,-0.23 -0.96,-0.35C-0.92,-0.47 -0.89,-0.60 -0.79,-0.73C-0.69,-0.86 -0.52,-0.99 -0.37,-1.12C-0.22,-1.25 -0.02,-1.37 0.13,-1.50C0.28,-1.63 0.43,-1.75 0.55,-1.88C0.67,-2.01 0.80,-2.17 0.86,-2.29Z"/>
</g>
<g fill="#f8e9c9">
<path transform="translate(758.0,930.0) scale(5.94,5.6)" d="M0.86,-2.29C0.90,-1.69 1,-0.89 1,0A1,1 0 1 1 -1,0C-1.00,-0.11 -0.99,-0.23 -0.96,-0.35C-0.92,-0.47 -0.89,-0.60 -0.79,-0.73C-0.69,-0.86 -0.52,-0.99 -0.37,-1.12C-0.22,-1.25 -0.02,-1.37 0.13,-1.50C0.28,-1.63 0.43,-1.75 0.55,-1.88C0.67,-2.01 0.80,-2.17 0.86,-2.29Z"/>
<path transform="translate(791.8,922.2) scale(5.94,5.6)" d="M0.86,-2.29C0.90,-1.69 1,-0.89 1,0A1,1 0 1 1 -1,0C-1.00,-0.11 -0.99,-0.23 -0.96,-0.35C-0.92,-0.47 -0.89,-0.60 -0.79,-0.73C-0.69,-0.86 -0.52,-0.99 -0.37,-1.12C-0.22,-1.25 -0.02,-1.37 0.13,-1.50C0.28,-1.63 0.43,-1.75 0.55,-1.88C0.67,-2.01 0.80,-2.17 0.86,-2.29Z"/>
<path transform="translate(824.3,913.1) scale(5.94,5.6)" d="M0.86,-2.29C0.90,-1.69 1,-0.89 1,0A1,1 0 1 1 -1,0C-1.00,-0.11 -0.99,-0.23 -0.96,-0.35C-0.92,-0.47 -0.89,-0.60 -0.79,-0.73C-0.69,-0.86 -0.52,-0.99 -0.37,-1.12C-0.22,-1.25 -0.02,-1.37 0.13,-1.50C0.28,-1.63 0.43,-1.75 0.55,-1.88C0.67,-2.01 0.80,-2.17 0.86,-2.29Z"/>
<path transform="translate(847.7,930.0) scale(5.94,5.6)" d="M0.86,-2.29C0.90,-1.69 1,-0.89 1,0A1,1 0 1 1 -1,0C-1.00,-0.11 -0.99,-0.23 -0.96,-0.35C-0.92,-0.47 -0.89,-0.60 -0.79,-0.73C-0.69,-0.86 -0.52,-0.99 -0.37,-1.12C-0.22,-1.25 -0.02,-1.37 0.13,-1.50C0.28,-1.63 0.43,-1.75 0.55,-1.88C0.67,-2.01 0.80,-2.17 0.86,-2.29Z"/>
<path transform="translate(778.8,944.3) scale(5.94,5.6)" d="M0.86,-2.29C0.90,-1.69 1,-0.89 1,0A1,1 0 1 1 -1,0C-1.00,-0.11 -0.99,-0.23 -0.96,-0.35C-0.92,-0.47 -0.89,-0.60 -0.79,-0.73C-0.69,-0.86 -0.52,-0.99 -0.37,-1.12C-0.22,-1.25 -0.02,-1.37 0.13,-1.50C0.28,-1.63 0.43,-1.75 0.55,-1.88C0.67,-2.01 0.80,-2.17 0.86,-2.29Z"/>
<path transform="translate(804.8,935.2) scale(5.94,5.6)" d="M0.86,-2.29C0.90,-1.69 1,-0.89 1,0A1,1 0 1 1 -1,0C-1.00,-0.11 -0.99,-0.23 -0.96,-0.35C-0.92,-0.47 -0.89,-0.60 -0.79,-0.73C-0.69,-0.86 -0.52,-0.99 -0.37,-1.12C-0.22,-1.25 -0.02,-1.37 0.13,-1.50C0.28,-1.63 0.43,-1.75 0.55,-1.88C0.67,-2.01 0.80,-2.17 0.86,-2.29Z"/>
<path transform="translate(824.3,941.7) scale(5.94,5.6)" d="M0.86,-2.29C0.90,-1.69 1,-0.89 1,0A1,1 0 1 1 -1,0C-1.00,-0.11 -0.99,-0.23 -0.96,-0.35C-0.92,-0.47 -0.89,-0.60 -0.79,-0.73C-0.69,-0.86 -0.52,-0.99 -0.37,-1.12C-0.22,-1.25 -0.02,-1.37 0.13,-1.50C0.28,-1.63 0.43,-1.75 0.55,-1.88C0.67,-2.01 0.80,-2.17 0.86,-2.29Z"/>
<path transform="translate(761.9,970.3) scale(5.94,5.6)" d="M0.86,-2.29C0.90,-1.69 1,-0.89 1,0A1,1 0 1 1 -1,0C-1.00,-0.11 -0.99,-0.23 -0.96,-0.35C-0.92,-0.47 -0.89,-0.60 -0.79,-0.73C-0.69,-0.86 -0.52,-0.99 -0.37,-1.12C-0.22,-1.25 -0.02,-1.37 0.13,-1.50C0.28,-1.63 0.43,-1.75 0.55,-1.88C0.67,-2.01 0.80,-2.17 0.86,-2.29Z"/>
<path transform="translate(790.5,962.5) scale(5.94,5.6)" d="M0.86,-2.29C0.90,-1.69 1,-0.89 1,0A1,1 0 1 1 -1,0C-1.00,-0.11 -0.99,-0.23 -0.96,-0.35C-0.92,-0.47 -0.89,-0.60 -0.79,-0.73C-0.69,-0.86 -0.52,-0.99 -0.37,-1.12C-0.22,-1.25 -0.02,-1.37 0.13,-1.50C0.28,-1.63 0.43,-1.75 0.55,-1.88C0.67,-2.01 0.80,-2.17 0.86,-2.29Z"/>
<path transform="translate(810.5,962.5) scale(5.94,5.6)" d="M0.86,-2.29C0.90,-1.69 1,-0.89 1,0A1,1 0 1 1 -1,0C-1.00,-0.11 -0.99,-0.23 -0.96,-0.35C-0.92,-0.47 -0.89,-0.60 -0.79,-0.73C-0.69,-0.86 -0.52,-0.99 -0.37,-1.12C-0.22,-1.25 -0.02,-1.37 0.13,-1.50C0.28,-1.63 0.43,-1.75 0.55,-1.88C0.67,-2.01 0.80,-2.17 0.86,-2.29Z"/>
<path transform="translate(838.6,975.5) scale(5.94,5.6)" d="M0.86,-2.29C0.90,-1.69 1,-0.89 1,0A1,1 0 1 1 -1,0C-1.00,-0.11 -0.99,-0.23 -0.96,-0.35C-0.92,-0.47 -0.89,-0.60 -0.79,-0.73C-0.69,-0.86 -0.52,-0.99 -0.37,-1.12C-0.22,-1.25 -0.02,-1.37 0.13,-1.50C0.28,-1.63 0.43,-1.75 0.55,-1.88C0.67,-2.01 0.80,-2.17 0.86,-2.29Z"/>
</g>
<g fill="#f8e9c9">
<path transform="translate(594.0,980.5) scale(5.94,5.6)" d="M0.86,-2.29C0.90,-1.69 1,-0.89 1,0A1,1 0 1 1 -1,0C-1.00,-0.11 -0.99,-0.23 -0.96,-0.35C-0.92,-0.47 -0.89,-0.60 -0.79,-0.73C-0.69,-0.86 -0.52,-0.99 -0.37,-1.12C-0.22,-1.25 -0.02,-1.37 0.13,-1.50C0.28,-1.63 0.43,-1.75 0.55,-1.88C0.67,-2.01 0.80,-2.17 0.86,-2.29Z"/>
<path transform="translate(627.8,972.7) scale(5.94,5.6)" d="M0.86,-2.29C0.90,-1.69 1,-0.89 1,0A1,1 0 1 1 -1,0C-1.00,-0.11 -0.99,-0.23 -0.96,-0.35C-0.92,-0.47 -0.89,-0.60 -0.79,-0.73C-0.69,-0.86 -0.52,-0.99 -0.37,-1.12C-0.22,-1.25 -0.02,-1.37 0.13,-1.50C0.28,-1.63 0.43,-1.75 0.55,-1.88C0.67,-2.01 0.80,-2.17 0.86,-2.29Z"/>
<path transform="translate(660.3,963.6) scale(5.94,5.6)" d="M0.86,-2.29C0.90,-1.69 1,-0.89 1,0A1,1 0 1 1 -1,0C-1.00,-0.11 -0.99,-0.23 -0.96,-0.35C-0.92,-0.47 -0.89,-0.60 -0.79,-0.73C-0.69,-0.86 -0.52,-0.99 -0.37,-1.12C-0.22,-1.25 -0.02,-1.37 0.13,-1.50C0.28,-1.63 0.43,-1.75 0.55,-1.88C0.67,-2.01 0.80,-2.17 0.86,-2.29Z"/>
<path transform="translate(683.7,980.5) scale(5.94,5.6)" d="M0.86,-2.29C0.90,-1.69 1,-0.89 1,0A1,1 0 1 1 -1,0C-1.00,-0.11 -0.99,-0.23 -0.96,-0.35C-0.92,-0.47 -0.89,-0.60 -0.79,-0.73C-0.69,-0.86 -0.52,-0.99 -0.37,-1.12C-0.22,-1.25 -0.02,-1.37 0.13,-1.50C0.28,-1.63 0.43,-1.75 0.55,-1.88C0.67,-2.01 0.80,-2.17 0.86,-2.29Z"/>
<path transform="translate(614.8,994.8) scale(5.94,5.6)" d="M0.86,-2.29C0.90,-1.69 1,-0.89 1,0A1,1 0 1 1 -1,0C-1.00,-0.11 -0.99,-0.23 -0.96,-0.35C-0.92,-0.47 -0.89,-0.60 -0.79,-0.73C-0.69,-0.86 -0.52,-0.99 -0.37,-1.12C-0.22,-1.25 -0.02,-1.37 0.13,-1.50C0.28,-1.63 0.43,-1.75 0.55,-1.88C0.67,-2.01 0.80,-2.17 0.86,-2.29Z"/>
<path transform="translate(640.8,985.7) scale(5.94,5.6)" d="M0.86,-2.29C0.90,-1.69 1,-0.89 1,0A1,1 0 1 1 -1,0C-1.00,-0.11 -0.99,-0.23 -0.96,-0.35C-0.92,-0.47 -0.89,-0.60 -0.79,-0.73C-0.69,-0.86 -0.52,-0.99 -0.37,-1.12C-0.22,-1.25 -0.02,-1.37 0.13,-1.50C0.28,-1.63 0.43,-1.75 0.55,-1.88C0.67,-2.01 0.80,-2.17 0.86,-2.29Z"/>
<path transform="translate(660.3,992.2) scale(5.94,5.6)" d="M0.86,-2.29C0.90,-1.69 1,-0.89 1,0A1,1 0 1 1 -1,0C-1.00,-0.11 -0.99,-0.23 -0.96,-0.35C-0.92,-0.47 -0.89,-0.60 -0.79,-0.73C-0.69,-0.86 -0.52,-0.99 -0.37,-1.12C-0.22,-1.25 -0.02,-1.37 0.13,-1.50C0.28,-1.63 0.43,-1.75 0.55,-1.88C0.67,-2.01 0.80,-2.17 0.86,-2.29Z"/>
<path transform="translate(597.9,1020.8) scale(5.94,5.6)" d="M0.86,-2.29C0.90,-1.69 1,-0.89 1,0A1,1 0 1 1 -1,0C-1.00,-0.11 -0.99,-0.23 -0.96,-0.35C-0.92,-0.47 -0.89,-0.60 -0.79,-0.73C-0.69,-0.86 -0.52,-0.99 -0.37,-1.12C-0.22,-1.25 -0.02,-1.37 0.13,-1.50C0.28,-1.63 0.43,-1.75 0.55,-1.88C0.67,-2.01 0.80,-2.17 0.86,-2.29Z"/>
<path transform="translate(626.5,1013.0) scale(5.94,5.6)" d="M0.86,-2.29C0.90,-1.69 1,-0.89 1,0A1,1 0 1 1 -1,0C-1.00,-0.11 -0.99,-0.23 -0.96,-0.35C-0.92,-0.47 -0.89,-0.60 -0.79,-0.73C-0.69,-0.86 -0.52,-0.99 -0.37,-1.12C-0.22,-1.25 -0.02,-1.37 0.13,-1.50C0.28,-1.63 0.43,-1.75 0.55,-1.88C0.67,-2.01 0.80,-2.17 0.86,-2.29Z"/>
<path transform="translate(646.5,1013.0) scale(5.94,5.6)" d="M0.86,-2.29C0.90,-1.69 1,-0.89 1,0A1,1 0 1 1 -1,0C-1.00,-0.11 -0.99,-0.23 -0.96,-0.35C-0.92,-0.47 -0.89,-0.60 -0.79,-0.73C-0.69,-0.86 -0.52,-0.99 -0.37,-1.12C-0.22,-1.25 -0.02,-1.37 0.13,-1.50C0.28,-1.63 0.43,-1.75 0.55,-1.88C0.67,-2.01 0.80,-2.17 0.86,-2.29Z"/>
<path transform="translate(674.6,1026.0) scale(5.94,5.6)" d="M0.86,-2.29C0.90,-1.69 1,-0.89 1,0A1,1 0 1 1 -1,0C-1.00,-0.11 -0.99,-0.23 -0.96,-0.35C-0.92,-0.47 -0.89,-0.60 -0.79,-0.73C-0.69,-0.86 -0.52,-0.99 -0.37,-1.12C-0.22,-1.25 -0.02,-1.37 0.13,-1.50C0.28,-1.63 0.43,-1.75 0.55,-1.88C0.67,-2.01 0.80,-2.17 0.86,-2.29Z"/>
</g>
<g fill="#f8e9c9">
<path transform="translate(73.7,1571.5) scale(5.94,5.6)" d="M0.86,-2.29C0.90,-1.69 1,-0.89 1,0A1,1 0 1 1 -1,0C-1.00,-0.11 -0.99,-0.23 -0.96,-0.35C-0.92,-0.47 -0.89,-0.60 -0.79,-0.73C-0.69,-0.86 -0.52,-0.99 -0.37,-1.12C-0.22,-1.25 -0.02,-1.37 0.13,-1.50C0.28,-1.63 0.43,-1.75 0.55,-1.88C0.67,-2.01 0.80,-2.17 0.86,-2.29Z"/>
<path transform="translate(107.5,1563.7) scale(5.94,5.6)" d="M0.86,-2.29C0.90,-1.69 1,-0.89 1,0A1,1 0 1 1 -1,0C-1.00,-0.11 -0.99,-0.23 -0.96,-0.35C-0.92,-0.47 -0.89,-0.60 -0.79,-0.73C-0.69,-0.86 -0.52,-0.99 -0.37,-1.12C-0.22,-1.25 -0.02,-1.37 0.13,-1.50C0.28,-1.63 0.43,-1.75 0.55,-1.88C0.67,-2.01 0.80,-2.17 0.86,-2.29Z"/>
<path transform="translate(140.0,1554.6) scale(5.94,5.6)" d="M0.86,-2.29C0.90,-1.69 1,-0.89 1,0A1,1 0 1 1 -1,0C-1.00,-0.11 -0.99,-0.23 -0.96,-0.35C-0.92,-0.47 -0.89,-0.60 -0.79,-0.73C-0.69,-0.86 -0.52,-0.99 -0.37,-1.12C-0.22,-1.25 -0.02,-1.37 0.13,-1.50C0.28,-1.63 0.43,-1.75 0.55,-1.88C0.67,-2.01 0.80,-2.17 0.86,-2.29Z"/>
<path transform="translate(163.4,1571.5) scale(5.94,5.6)" d="M0.86,-2.29C0.90,-1.69 1,-0.89 1,0A1,1 0 1 1 -1,0C-1.00,-0.11 -0.99,-0.23 -0.96,-0.35C-0.92,-0.47 -0.89,-0.60 -0.79,-0.73C-0.69,-0.86 -0.52,-0.99 -0.37,-1.12C-0.22,-1.25 -0.02,-1.37 0.13,-1.50C0.28,-1.63 0.43,-1.75 0.55,-1.88C0.67,-2.01 0.80,-2.17 0.86,-2.29Z"/>
<path transform="translate(94.5,1585.8) scale(5.94,5.6)" d="M0.86,-2.29C0.90,-1.69 1,-0.89 1,0A1,1 0 1 1 -1,0C-1.00,-0.11 -0.99,-0.23 -0.96,-0.35C-0.92,-0.47 -0.89,-0.60 -0.79,-0.73C-0.69,-0.86 -0.52,-0.99 -0.37,-1.12C-0.22,-1.25 -0.02,-1.37 0.13,-1.50C0.28,-1.63 0.43,-1.75 0.55,-1.88C0.67,-2.01 0.80,-2.17 0.86,-2.29Z"/>
<path transform="translate(120.5,1576.7) scale(5.94,5.6)" d="M0.86,-2.29C0.90,-1.69 1,-0.89 1,0A1,1 0 1 1 -1,0C-1.00,-0.11 -0.99,-0.23 -0.96,-0.35C-0.92,-0.47 -0.89,-0.60 -0.79,-0.73C-0.69,-0.86 -0.52,-0.99 -0.37,-1.12C-0.22,-1.25 -0.02,-1.37 0.13,-1.50C0.28,-1.63 0.43,-1.75 0.55,-1.88C0.67,-2.01 0.80,-2.17 0.86,-2.29Z"/>
<path transform="translate(140.0,1583.2) scale(5.94,5.6)" d="M0.86,-2.29C0.90,-1.69 1,-0.89 1,0A1,1 0 1 1 -1,0C-1.00,-0.11 -0.99,-0.23 -0.96,-0.35C-0.92,-0.47 -0.89,-0.60 -0.79,-0.73C-0.69,-0.86 -0.52,-0.99 -0.37,-1.12C-0.22,-1.25 -0.02,-1.37 0.13,-1.50C0.28,-1.63 0.43,-1.75 0.55,-1.88C0.67,-2.01 0.80,-2.17 0.86,-2.29Z"/>
<path transform="translate(77.6,1611.8) scale(5.94,5.6)" d="M0.86,-2.29C0.90,-1.69 1,-0.89 1,0A1,1 0 1 1 -1,0C-1.00,-0.11 -0.99,-0.23 -0.96,-0.35C-0.92,-0.47 -0.89,-0.60 -0.79,-0.73C-0.69,-0.86 -0.52,-0.99 -0.37,-1.12C-0.22,-1.25 -0.02,-1.37 0.13,-1.50C0.28,-1.63 0.43,-1.75 0.55,-1.88C0.67,-2.01 0.80,-2.17 0.86,-2.29Z"/>
<path transform="translate(106.2,1604.0) scale(5.94,5.6)" d="M0.86,-2.29C0.90,-1.69 1,-0.89 1,0A1,1 0 1 1 -1,0C-1.00,-0.11 -0.99,-0.23 -0.96,-0.35C-0.92,-0.47 -0.89,-0.60 -0.79,-0.73C-0.69,-0.86 -0.52,-0.99 -0.37,-1.12C-0.22,-1.25 -0.02,-1.37 0.13,-1.50C0.28,-1.63 0.43,-1.75 0.55,-1.88C0.67,-2.01 0.80,-2.17 0.86,-2.29Z"/>
<path transform="translate(126.2,1604.0) scale(5.94,5.6)" d="M0.86,-2.29C0.90,-1.69 1,-0.89 1,0A1,1 0 1 1 -1,0C-1.00,-0.11 -0.99,-0.23 -0.96,-0.35C-0.92,-0.47 -0.89,-0.60 -0.79,-0.73C-0.69,-0.86 -0.52,-0.99 -0.37,-1.12C-0.22,-1.25 -0.02,-1.37 0.13,-1.50C0.28,-1.63 0.43,-1.75 0.55,-1.88C0.67,-2.01 0.80,-2.17 0.86,-2.29Z"/>
<path transform="translate(154.3,1617.0) scale(5.94,5.6)" d="M0.86,-2.29C0.90,-1.69 1,-0.89 1,0A1,1 0 1 1 -1,0C-1.00,-0.11 -0.99,-0.23 -0.96,-0.35C-0.92,-0.47 -0.89,-0.60 -0.79,-0.73C-0.69,-0.86 -0.52,-0.99 -0.37,-1.12C-0.22,-1.25 -0.02,-1.37 0.13,-1.50C0.28,-1.63 0.43,-1.75 0.55,-1.88C0.67,-2.01 0.80,-2.17 0.86,-2.29Z"/>
</g>
<g fill="#f8e9c9">
<path transform="translate(288.0,1572.0) scale(5.94,5.6)" d="M0.86,-2.29C0.90,-1.69 1,-0.89 1,0A1,1 0 1 1 -1,0C-1.00,-0.11 -0.99,-0.23 -0.96,-0.35C-0.92,-0.47 -0.89,-0.60 -0.79,-0.73C-0.69,-0.86 -0.52,-0.99 -0.37,-1.12C-0.22,-1.25 -0.02,-1.37 0.13,-1.50C0.28,-1.63 0.43,-1.75 0.55,-1.88C0.67,-2.01 0.80,-2.17 0.86,-2.29Z"/>
<path transform="translate(321.8,1564.2) scale(5.94,5.6)" d="M0.86,-2.29C0.90,-1.69 1,-0.89 1,0A1,1 0 1 1 -1,0C-1.00,-0.11 -0.99,-0.23 -0.96,-0.35C-0.92,-0.47 -0.89,-0.60 -0.79,-0.73C-0.69,-0.86 -0.52,-0.99 -0.37,-1.12C-0.22,-1.25 -0.02,-1.37 0.13,-1.50C0.28,-1.63 0.43,-1.75 0.55,-1.88C0.67,-2.01 0.80,-2.17 0.86,-2.29Z"/>
<path transform="translate(354.3,1555.1) scale(5.94,5.6)" d="M0.86,-2.29C0.90,-1.69 1,-0.89 1,0A1,1 0 1 1 -1,0C-1.00,-0.11 -0.99,-0.23 -0.96,-0.35C-0.92,-0.47 -0.89,-0.60 -0.79,-0.73C-0.69,-0.86 -0.52,-0.99 -0.37,-1.12C-0.22,-1.25 -0.02,-1.37 0.13,-1.50C0.28,-1.63 0.43,-1.75 0.55,-1.88C0.67,-2.01 0.80,-2.17 0.86,-2.29Z"/>
<path transform="translate(377.7,1572.0) scale(5.94,5.6)" d="M0.86,-2.29C0.90,-1.69 1,-0.89 1,0A1,1 0 1 1 -1,0C-1.00,-0.11 -0.99,-0.23 -0.96,-0.35C-0.92,-0.47 -0.89,-0.60 -0.79,-0.73C-0.69,-0.86 -0.52,-0.99 -0.37,-1.12C-0.22,-1.25 -0.02,-1.37 0.13,-1.50C0.28,-1.63 0.43,-1.75 0.55,-1.88C0.67,-2.01 0.80,-2.17 0.86,-2.29Z"/>
<path transform="translate(308.8,1586.3) scale(5.94,5.6)" d="M0.86,-2.29C0.90,-1.69 1,-0.89 1,0A1,1 0 1 1 -1,0C-1.00,-0.11 -0.99,-0.23 -0.96,-0.35C-0.92,-0.47 -0.89,-0.60 -0.79,-0.73C-0.69,-0.86 -0.52,-0.99 -0.37,-1.12C-0.22,-1.25 -0.02,-1.37 0.13,-1.50C0.28,-1.63 0.43,-1.75 0.55,-1.88C0.67,-2.01 0.80,-2.17 0.86,-2.29Z"/>
<path transform="translate(334.8,1577.2) scale(5.94,5.6)" d="M0.86,-2.29C0.90,-1.69 1,-0.89 1,0A1,1 0 1 1 -1,0C-1.00,-0.11 -0.99,-0.23 -0.96,-0.35C-0.92,-0.47 -0.89,-0.60 -0.79,-0.73C-0.69,-0.86 -0.52,-0.99 -0.37,-1.12C-0.22,-1.25 -0.02,-1.37 0.13,-1.50C0.28,-1.63 0.43,-1.75 0.55,-1.88C0.67,-2.01 0.80,-2.17 0.86,-2.29Z"/>
<path transform="translate(354.3,1583.7) scale(5.94,5.6)" d="M0.86,-2.29C0.90,-1.69 1,-0.89 1,0A1,1 0 1 1 -1,0C-1.00,-0.11 -0.99,-0.23 -0.96,-0.35C-0.92,-0.47 -0.89,-0.60 -0.79,-0.73C-0.69,-0.86 -0.52,-0.99 -0.37,-1.12C-0.22,-1.25 -0.02,-1.37 0.13,-1.50C0.28,-1.63 0.43,-1.75 0.55,-1.88C0.67,-2.01 0.80,-2.17 0.86,-2.29Z"/>
<path transform="translate(291.9,1612.3) scale(5.94,5.6)" d="M0.86,-2.29C0.90,-1.69 1,-0.89 1,0A1,1 0 1 1 -1,0C-1.00,-0.11 -0.99,-0.23 -0.96,-0.35C-0.92,-0.47 -0.89,-0.60 -0.79,-0.73C-0.69,-0.86 -0.52,-0.99 -0.37,-1.12C-0.22,-1.25 -0.02,-1.37 0.13,-1.50C0.28,-1.63 0.43,-1.75 0.55,-1.88C0.67,-2.01 0.80,-2.17 0.86,-2.29Z"/>
<path transform="translate(320.5,1604.5) scale(5.94,5.6)" d="M0.86,-2.29C0.90,-1.69 1,-0.89 1,0A1,1 0 1 1 -1,0C-1.00,-0.11 -0.99,-0.23 -0.96,-0.35C-0.92,-0.47 -0.89,-0.60 -0.79,-0.73C-0.69,-0.86 -0.52,-0.99 -0.37,-1.12C-0.22,-1.25 -0.02,-1.37 0.13,-1.50C0.28,-1.63 0.43,-1.75 0.55,-1.88C0.67,-2.01 0.80,-2.17 0.86,-2.29Z"/>
<path transform="translate(340.5,1604.5) scale(5.94,5.6)" d="M0.86,-2.29C0.90,-1.69 1,-0.89 1,0A1,1 0 1 1 -1,0C-1.00,-0.11 -0.99,-0.23 -0.96,-0.35C-0.92,-0.47 -0.89,-0.60 -0.79,-0.73C-0.69,-0.86 -0.52,-0.99 -0.37,-1.12C-0.22,-1.25 -0.02,-1.37 0.13,-1.50C0.28,-1.63 0.43,-1.75 0.55,-1.88C0.67,-2.01 0.80,-2.17 0.86,-2.29Z"/>
<path transform="translate(368.6,1617.5) scale(5.94,5.6)" d="M0.86,-2.29C0.90,-1.69 1,-0.89 1,0A1,1 0 1 1 -1,0C-1.00,-0.11 -0.99,-0.23 -0.96,-0.35C-0.92,-0.47 -0.89,-0.60 -0.79,-0.73C-0.69,-0.86 -0.52,-0.99 -0.37,-1.12C-0.22,-1.25 -0.02,-1.37 0.13,-1.50C0.28,-1.63 0.43,-1.75 0.55,-1.88C0.67,-2.01 0.80,-2.17 0.86,-2.29Z"/>
</g>
<g fill="#f8e9c9">
<path transform="translate(387.0,1633.5) scale(5.94,5.6)" d="M0.86,-2.29C0.90,-1.69 1,-0.89 1,0A1,1 0 1 1 -1,0C-1.00,-0.11 -0.99,-0.23 -0.96,-0.35C-0.92,-0.47 -0.89,-0.60 -0.79,-0.73C-0.69,-0.86 -0.52,-0.99 -0.37,-1.12C-0.22,-1.25 -0.02,-1.37 0.13,-1.50C0.28,-1.63 0.43,-1.75 0.55,-1.88C0.67,-2.01 0.80,-2.17 0.86,-2.29Z"/>
<path transform="translate(420.8,1625.7) scale(5.94,5.6)" d="M0.86,-2.29C0.90,-1.69 1,-0.89 1,0A1,1 0 1 1 -1,0C-1.00,-0.11 -0.99,-0.23 -0.96,-0.35C-0.92,-0.47 -0.89,-0.60 -0.79,-0.73C-0.69,-0.86 -0.52,-0.99 -0.37,-1.12C-0.22,-1.25 -0.02,-1.37 0.13,-1.50C0.28,-1.63 0.43,-1.75 0.55,-1.88C0.67,-2.01 0.80,-2.17 0.86,-2.29Z"/>
<path transform="translate(453.3,1616.6) scale(5.94,5.6)" d="M0.86,-2.29C0.90,-1.69 1,-0.89 1,0A1,1 0 1 1 -1,0C-1.00,-0.11 -0.99,-0.23 -0.96,-0.35C-0.92,-0.47 -0.89,-0.60 -0.79,-0.73C-0.69,-0.86 -0.52,-0.99 -0.37,-1.12C-0.22,-1.25 -0.02,-1.37 0.13,-1.50C0.28,-1.63 0.43,-1.75 0.55,-1.88C0.67,-2.01 0.80,-2.17 0.86,-2.29Z"/>
<path transform="translate(476.7,1633.5) scale(5.94,5.6)" d="M0.86,-2.29C0.90,-1.69 1,-0.89 1,0A1,1 0 1 1 -1,0C-1.00,-0.11 -0.99,-0.23 -0.96,-0.35C-0.92,-0.47 -0.89,-0.60 -0.79,-0.73C-0.69,-0.86 -0.52,-0.99 -0.37,-1.12C-0.22,-1.25 -0.02,-1.37 0.13,-1.50C0.28,-1.63 0.43,-1.75 0.55,-1.88C0.67,-2.01 0.80,-2.17 0.86,-2.29Z"/>
<path transform="translate(407.8,1647.8) scale(5.94,5.6)" d="M0.86,-2.29C0.90,-1.69 1,-0.89 1,0A1,1 0 1 1 -1,0C-1.00,-0.11 -0.99,-0.23 -0.96,-0.35C-0.92,-0.47 -0.89,-0.60 -0.79,-0.73C-0.69,-0.86 -0.52,-0.99 -0.37,-1.12C-0.22,-1.25 -0.02,-1.37 0.13,-1.50C0.28,-1.63 0.43,-1.75 0.55,-1.88C0.67,-2.01 0.80,-2.17 0.86,-2.29Z"/>
<path transform="translate(433.8,1638.7) scale(5.94,5.6)" d="M0.86,-2.29C0.90,-1.69 1,-0.89 1,0A1,1 0 1 1 -1,0C-1.00,-0.11 -0.99,-0.23 -0.96,-0.35C-0.92,-0.47 -0.89,-0.60 -0.79,-0.73C-0.69,-0.86 -0.52,-0.99 -0.37,-1.12C-0.22,-1.25 -0.02,-1.37 0.13,-1.50C0.28,-1.63 0.43,-1.75 0.55,-1.88C0.67,-2.01 0.80,-2.17 0.86,-2.29Z"/>
<path transform="translate(453.3,1645.2) scale(5.94,5.6)" d="M0.86,-2.29C0.90,-1.69 1,-0.89 1,0A1,1 0 1 1 -1,0C-1.00,-0.11 -0.99,-0.23 -0.96,-0.35C-0.92,-0.47 -0.89,-0.60 -0.79,-0.73C-0.69,-0.86 -0.52,-0.99 -0.37,-1.12C-0.22,-1.25 -0.02,-1.37 0.13,-1.50C0.28,-1.63 0.43,-1.75 0.55,-1.88C0.67,-2.01 0.80,-2.17 0.86,-2.29Z"/>
<path transform="translate(390.9,1673.8) scale(5.94,5.6)" d="M0.86,-2.29C0.90,-1.69 1,-0.89 1,0A1,1 0 1 1 -1,0C-1.00,-0.11 -0.99,-0.23 -0.96,-0.35C-0.92,-0.47 -0.89,-0.60 -0.79,-0.73C-0.69,-0.86 -0.52,-0.99 -0.37,-1.12C-0.22,-1.25 -0.02,-1.37 0.13,-1.50C0.28,-1.63 0.43,-1.75 0.55,-1.88C0.67,-2.01 0.80,-2.17 0.86,-2.29Z"/>
<path transform="translate(419.5,1666.0) scale(5.94,5.6)" d="M0.86,-2.29C0.90,-1.69 1,-0.89 1,0A1,1 0 1 1 -1,0C-1.00,-0.11 -0.99,-0.23 -0.96,-0.35C-0.92,-0.47 -0.89,-0.60 -0.79,-0.73C-0.69,-0.86 -0.52,-0.99 -0.37,-1.12C-0.22,-1.25 -0.02,-1.37 0.13,-1.50C0.28,-1.63 0.43,-1.75 0.55,-1.88C0.67,-2.01 0.80,-2.17 0.86,-2.29Z"/>
<path transform="translate(439.5,1666.0) scale(5.94,5.6)" d="M0.86,-2.29C0.90,-1.69 1,-0.89 1,0A1,1 0 1 1 -1,0C-1.00,-0.11 -0.99,-0.23 -0.96,-0.35C-0.92,-0.47 -0.89,-0.60 -0.79,-0.73C-0.69,-0.86 -0.52,-0.99 -0.37,-1.12C-0.22,-1.25 -0.02,-1.37 0.13,-1.50C0.28,-1.63 0.43,-1.75 0.55,-1.88C0.67,-2.01 0.80,-2.17 0.86,-2.29Z"/>
<path transform="translate(467.6,1679.0) scale(5.94,5.6)" d="M0.86,-2.29C0.90,-1.69 1,-0.89 1,0A1,1 0 1 1 -1,0C-1.00,-0.11 -0.99,-0.23 -0.96,-0.35C-0.92,-0.47 -0.89,-0.60 -0.79,-0.73C-0.69,-0.86 -0.52,-0.99 -0.37,-1.12C-0.22,-1.25 -0.02,-1.37 0.13,-1.50C0.28,-1.63 0.43,-1.75 0.55,-1.88C0.67,-2.01 0.80,-2.17 0.86,-2.29Z"/>
</g>
<g fill="#f8e9c9">
<path transform="translate(421.0,1714.5) scale(5.94,5.6)" d="M0.86,-2.29C0.90,-1.69 1,-0.89 1,0A1,1 0 1 1 -1,0C-1.00,-0.11 -0.99,-0.23 -0.96,-0.35C-0.92,-0.47 -0.89,-0.60 -0.79,-0.73C-0.69,-0.86 -0.52,-0.99 -0.37,-1.12C-0.22,-1.25 -0.02,-1.37 0.13,-1.50C0.28,-1.63 0.43,-1.75 0.55,-1.88C0.67,-2.01 0.80,-2.17 0.86,-2.29Z"/>
<path transform="translate(454.8,1706.7) scale(5.94,5.6)" d="M0.86,-2.29C0.90,-1.69 1,-0.89 1,0A1,1 0 1 1 -1,0C-1.00,-0.11 -0.99,-0.23 -0.96,-0.35C-0.92,-0.47 -0.89,-0.60 -0.79,-0.73C-0.69,-0.86 -0.52,-0.99 -0.37,-1.12C-0.22,-1.25 -0.02,-1.37 0.13,-1.50C0.28,-1.63 0.43,-1.75 0.55,-1.88C0.67,-2.01 0.80,-2.17 0.86,-2.29Z"/>
<path transform="translate(487.3,1697.6) scale(5.94,5.6)" d="M0.86,-2.29C0.90,-1.69 1,-0.89 1,0A1,1 0 1 1 -1,0C-1.00,-0.11 -0.99,-0.23 -0.96,-0.35C-0.92,-0.47 -0.89,-0.60 -0.79,-0.73C-0.69,-0.86 -0.52,-0.99 -0.37,-1.12C-0.22,-1.25 -0.02,-1.37 0.13,-1.50C0.28,-1.63 0.43,-1.75 0.55,-1.88C0.67,-2.01 0.80,-2.17 0.86,-2.29Z"/>
<path transform="translate(510.7,1714.5) scale(5.94,5.6)" d="M0.86,-2.29C0.90,-1.69 1,-0.89 1,0A1,1 0 1 1 -1,0C-1.00,-0.11 -0.99,-0.23 -0.96,-0.35C-0.92,-0.47 -0.89,-0.60 -0.79,-0.73C-0.69,-0.86 -0.52,-0.99 -0.37,-1.12C-0.22,-1.25 -0.02,-1.37 0.13,-1.50C0.28,-1.63 0.43,-1.75 0.55,-1.88C0.67,-2.01 0.80,-2.17 0.86,-2.29Z"/>
<path transform="translate(441.8,1728.8) scale(5.94,5.6)" d="M0.86,-2.29C0.90,-1.69 1,-0.89 1,0A1,1 0 1 1 -1,0C-1.00,-0.11 -0.99,-0.23 -0.96,-0.35C-0.92,-0.47 -0.89,-0.60 -0.79,-0.73C-0.69,-0.86 -0.52,-0.99 -0.37,-1.12C-0.22,-1.25 -0.02,-1.37 0.13,-1.50C0.28,-1.63 0.43,-1.75 0.55,-1.88C0.67,-2.01 0.80,-2.17 0.86,-2.29Z"/>
<path transform="translate(467.8,1719.7) scale(5.94,5.6)" d="M0.86,-2.29C0.90,-1.69 1,-0.89 1,0A1,1 0 1 1 -1,0C-1.00,-0.11 -0.99,-0.23 -0.96,-0.35C-0.92,-0.47 -0.89,-0.60 -0.79,-0.73C-0.69,-0.86 -0.52,-0.99 -0.37,-1.12C-0.22,-1.25 -0.02,-1.37 0.13,-1.50C0.28,-1.63 0.43,-1.75 0.55,-1.88C0.67,-2.01 0.80,-2.17 0.86,-2.29Z"/>
<path transform="translate(487.3,1726.2) scale(5.94,5.6)" d="M0.86,-2.29C0.90,-1.69 1,-0.89 1,0A1,1 0 1 1 -1,0C-1.00,-0.11 -0.99,-0.23 -0.96,-0.35C-0.92,-0.47 -0.89,-0.60 -0.79,-0.73C-0.69,-0.86 -0.52,-0.99 -0.37,-1.12C-0.22,-1.25 -0.02,-1.37 0.13,-1.50C0.28,-1.63 0.43,-1.75 0.55,-1.88C0.67,-2.01 0.80,-2.17 0.86,-2.29Z"/>
<path transform="translate(424.9,1754.8) scale(5.94,5.6)" d="M0.86,-2.29C0.90,-1.69 1,-0.89 1,0A1,1 0 1 1 -1,0C-1.00,-0.11 -0.99,-0.23 -0.96,-0.35C-0.92,-0.47 -0.89,-0.60 -0.79,-0.73C-0.69,-0.86 -0.52,-0.99 -0.37,-1.12C-0.22,-1.25 -0.02,-1.37 0.13,-1.50C0.28,-1.63 0.43,-1.75 0.55,-1.88C0.67,-2.01 0.80,-2.17 0.86,-2.29Z"/>
<path transform="translate(453.5,1747.0) scale(5.94,5.6)" d="M0.86,-2.29C0.90,-1.69 1,-0.89 1,0A1,1 0 1 1 -1,0C-1.00,-0.11 -0.99,-0.23 -0.96,-0.35C-0.92,-0.47 -0.89,-0.60 -0.79,-0.73C-0.69,-0.86 -0.52,-0.99 -0.37,-1.12C-0.22,-1.25 -0.02,-1.37 0.13,-1.50C0.28,-1.63 0.43,-1.75 0.55,-1.88C0.67,-2.01 0.80,-2.17 0.86,-2.29Z"/>
<path transform="translate(473.5,1747.0) scale(5.94,5.6)" d="M0.86,-2.29C0.90,-1.69 1,-0.89 1,0A1,1 0 1 1 -1,0C-1.00,-0.11 -0.99,-0.23 -0.96,-0.35C-0.92,-0.47 -0.89,-0.60 -0.79,-0.73C-0.69,-0.86 -0.52,-0.99 -0.37,-1.12C-0.22,-1.25 -0.02,-1.37 0.13,-1.50C0.28,-1.63 0.43,-1.75 0.55,-1.88C0.67,-2.01 0.80,-2.17 0.86,-2.29Z"/>
<path transform="translate(501.6,1760.0) scale(5.94,5.6)" d="M0.86,-2.29C0.90,-1.69 1,-0.89 1,0A1,1 0 1 1 -1,0C-1.00,-0.11 -0.99,-0.23 -0.96,-0.35C-0.92,-0.47 -0.89,-0.60 -0.79,-0.73C-0.69,-0.86 -0.52,-0.99 -0.37,-1.12C-0.22,-1.25 -0.02,-1.37 0.13,-1.50C0.28,-1.63 0.43,-1.75 0.55,-1.88C0.67,-2.01 0.80,-2.17 0.86,-2.29Z"/>
</g>
<text x="20.5" y="57.0" font-size="53.5" fill="#4a08f6" font-weight="bold" textLength="554.0" lengthAdjust="spacingAndGlyphs" stroke="#4a08f6" stroke-width="1.7" stroke-linejoin="round">BANGKOK REELS UNDER RAINS</text>
<text x="395.2" y="143.9" font-size="17.6" fill="#2e2e2e" textLength="318.7" lengthAdjust="spacingAndGlyphs">Flooding in the wake of the hours-long</text>
<text x="395.2" y="165.5" font-size="17.6" fill="#2e2e2e" textLength="291.5" lengthAdjust="spacingAndGlyphs">torrential rain starting at 9.10pm on</text>
<text x="395.2" y="187.1" font-size="17.6" fill="#2e2e2e" textLength="346.5" lengthAdjust="spacingAndGlyphs">Wednesday and ending at 5am yesterday</text>
<text x="420.5" y="245.4" font-size="44.5" fill="#4a08f6" font-weight="bold" font-style="italic" textLength="52.0" lengthAdjust="spacingAndGlyphs">25</text>
<text x="491.0" y="247.3" font-size="20.5" fill="#4a08f6" font-weight="bold" textLength="145.5" lengthAdjust="spacingAndGlyphs">flood-hit areas</text>
<text x="131.4" y="279.1" font-size="24.5" fill="#111" textLength="73.6" lengthAdjust="spacingAndGlyphs" stroke="#111" stroke-width="0.6" stroke-linejoin="round">20-30cm</text>
<text x="342.0" y="294.4" font-size="24.5" fill="#111" textLength="68.4" lengthAdjust="spacingAndGlyphs" stroke="#111" stroke-width="0.6" stroke-linejoin="round">15-20cm</text>
<text x="838.7" y="299.6" font-size="24" fill="#111" textLength="66.0" lengthAdjust="spacingAndGlyphs" stroke="#111" stroke-width="0.6" stroke-linejoin="round">10-15cm</text>
<rect x="93" y="348.0" width="12.5" height="12.5" fill="#14ec8e"/>
<text x="112.8" y="359.8" font-size="16" fill="#2e2e2e" textLength="141.4" lengthAdjust="spacingAndGlyphs" word-spacing="0.8">Pattanakarn Road</text>
<text x="111.0" y="380.3" font-size="16" fill="#2e2e2e" textLength="129.6" lengthAdjust="spacingAndGlyphs" word-spacing="0.8">around Soi 45 in</text>
<text x="111.0" y="400.8" font-size="16" fill="#2e2e2e" textLength="85.1" lengthAdjust="spacingAndGlyphs" word-spacing="0.8">front of the</text>
<text x="111.0" y="421.3" font-size="16" fill="#2e2e2e" textLength="122.1" lengthAdjust="spacingAndGlyphs" word-spacing="0.8">Mercedes-Benz</text>
<text x="111.0" y="441.8" font-size="16" fill="#2e2e2e" textLength="146.2" lengthAdjust="spacingAndGlyphs" word-spacing="0.8">showroom in Suan</text>
<text x="111.0" y="462.3" font-size="16" fill="#2e2e2e" textLength="104.6" lengthAdjust="spacingAndGlyphs" word-spacing="0.8">Luang district</text>
<rect x="93" y="478.5" width="12.5" height="12.5" fill="#14ec8e"/>
<text x="112.8" y="490.3" font-size="16" fill="#2e2e2e" textLength="155.0" lengthAdjust="spacingAndGlyphs" word-spacing="0.8">Tessaban Songkroh</text>
<text x="111.0" y="510.8" font-size="16" fill="#2e2e2e" textLength="142.2" lengthAdjust="spacingAndGlyphs" word-spacing="0.8">Road at the Klong</text>
<text x="111.0" y="531.3" font-size="16" fill="#2e2e2e" textLength="127.0" lengthAdjust="spacingAndGlyphs" word-spacing="0.8">Prapa-Tessaban</text>
<text x="111.0" y="551.8" font-size="16" fill="#2e2e2e" textLength="153.9" lengthAdjust="spacingAndGlyphs" word-spacing="0.8">Nimit intersection in</text>
<text x="111.0" y="572.3" font-size="16" fill="#2e2e2e" textLength="83.4" lengthAdjust="spacingAndGlyphs" word-spacing="0.8">Chatuchak</text>
<rect x="93" y="588.5" width="12.5" height="12.5" fill="#14ec8e"/>
<text x="112.8" y="600.3" font-size="16" fill="#2e2e2e" textLength="141.1" lengthAdjust="spacingAndGlyphs" word-spacing="0.8">Sukhumvit Road’s</text>
<text x="111.0" y="620.8" font-size="16" fill="#2e2e2e" textLength="109.5" lengthAdjust="spacingAndGlyphs" word-spacing="0.8">inbound lanes</text>
<text x="111.0" y="641.3" font-size="16" fill="#2e2e2e" textLength="159.8" lengthAdjust="spacingAndGlyphs" word-spacing="0.8">around Bearing BTS</text>
<text x="111.0" y="661.8" font-size="16" fill="#2e2e2e" textLength="145.1" lengthAdjust="spacingAndGlyphs" word-spacing="0.8">station in Bang Na</text>
<text x="111.0" y="682.3" font-size="16" fill="#2e2e2e" textLength="50.4" lengthAdjust="spacingAndGlyphs" word-spacing="0.8">district</text>
<rect x="93" y="698.5" width="12.5" height="12.5" fill="#14ec8e"/>
<text x="112.8" y="710.3" font-size="16" fill="#2e2e2e" textLength="161.7" lengthAdjust="spacingAndGlyphs" word-spacing="0.8">Pattanakarn Road at</text>
<text x="111.0" y="730.8" font-size="16" fill="#2e2e2e" textLength="158.5" lengthAdjust="spacingAndGlyphs" word-spacing="0.8">the Klong Tan-Klong</text>
<text x="111.0" y="751.3" font-size="16" fill="#2e2e2e" textLength="143.3" lengthAdjust="spacingAndGlyphs" word-spacing="0.8">Lao intersection in</text>
<text x="111.0" y="771.8" font-size="16" fill="#2e2e2e" textLength="141.3" lengthAdjust="spacingAndGlyphs" word-spacing="0.8">Suan Luan district</text>
<rect x="93" y="788.0" width="12.5" height="12.5" fill="#14ec8e"/>
<text x="112.8" y="799.8" font-size="16" fill="#2e2e2e" textLength="141.1" lengthAdjust="spacingAndGlyphs" word-spacing="0.8">Sukhumvit Road’s</text>
<text x="111.0" y="820.3" font-size="16" fill="#2e2e2e" textLength="120.1" lengthAdjust="spacingAndGlyphs" word-spacing="0.8">outbound lanes</text>
<text x="111.0" y="840.8" font-size="16" fill="#2e2e2e" textLength="159.8" lengthAdjust="spacingAndGlyphs" word-spacing="0.8">around Bearing BTS</text>
<text x="111.0" y="861.3" font-size="16" fill="#2e2e2e" textLength="145.1" lengthAdjust="spacingAndGlyphs" word-spacing="0.8">station in Bang Na</text>
<text x="322.8" y="359.8" font-size="16" fill="#2e2e2e" textLength="178.5" lengthAdjust="spacingAndGlyphs" word-spacing="0.8">Chaeng Wattana Road</text>
<text x="321.0" y="380.3" font-size="16" fill="#2e2e2e" textLength="159.7" lengthAdjust="spacingAndGlyphs" word-spacing="0.8">around a local Lotus</text>
<text x="321.0" y="400.8" font-size="16" fill="#2e2e2e" textLength="173.1" lengthAdjust="spacingAndGlyphs" word-spacing="0.8">outlet in Lak Si district</text>
<text x="322.8" y="428.8" font-size="16" fill="#2e2e2e" textLength="197.8" lengthAdjust="spacingAndGlyphs" word-spacing="0.8">Chaeng Wattana Road in</text>
<text x="321.0" y="449.3" font-size="16" fill="#2e2e2e" textLength="183.7" lengthAdjust="spacingAndGlyphs" word-spacing="0.8">front of the 1st and 2nd</text>
<text x="321.0" y="469.8" font-size="16" fill="#2e2e2e" textLength="159.8" lengthAdjust="spacingAndGlyphs" word-spacing="0.8">Infantry Battalions in</text>
<text x="321.0" y="490.3" font-size="16" fill="#2e2e2e" textLength="49.3" lengthAdjust="spacingAndGlyphs" word-spacing="0.8">Lak Si</text>
<text x="322.8" y="518.3" font-size="16" fill="#2e2e2e" textLength="185.8" lengthAdjust="spacingAndGlyphs" word-spacing="0.8">Ngam Wong Wan Road</text>
<text x="321.0" y="538.8" font-size="16" fill="#2e2e2e" textLength="189.6" lengthAdjust="spacingAndGlyphs" word-spacing="0.8">around the mouth of Soi</text>
<text x="321.0" y="559.3" font-size="16" fill="#2e2e2e" textLength="162.6" lengthAdjust="spacingAndGlyphs" word-spacing="0.8">Chinnakhet in Lak Si</text>
<text x="322.8" y="587.3" font-size="16" fill="#2e2e2e" textLength="198.4" lengthAdjust="spacingAndGlyphs" word-spacing="0.8">Pracharat 2 Road around</text>
<text x="321.0" y="607.8" font-size="16" fill="#2e2e2e" textLength="70.7" lengthAdjust="spacingAndGlyphs" word-spacing="0.8">the Bang</text>
<text x="321.0" y="628.3" font-size="16" fill="#2e2e2e" textLength="129.9" lengthAdjust="spacingAndGlyphs" word-spacing="0.8">Po-Prachachuen</text>
<text x="321.0" y="648.8" font-size="16" fill="#2e2e2e" textLength="191.7" lengthAdjust="spacingAndGlyphs" word-spacing="0.8">intersection in Bang Sue</text>
<text x="321.0" y="669.3" font-size="16" fill="#2e2e2e" textLength="50.4" lengthAdjust="spacingAndGlyphs" word-spacing="0.8">district</text>
<text x="322.8" y="697.3" font-size="16" fill="#2e2e2e" textLength="167.5" lengthAdjust="spacingAndGlyphs" word-spacing="0.8">Phaholyothin Road in</text>
<text x="321.0" y="717.8" font-size="16" fill="#2e2e2e" textLength="140.4" lengthAdjust="spacingAndGlyphs" word-spacing="0.8">front of Amornpan</text>
<text x="321.0" y="738.3" font-size="16" fill="#2e2e2e" textLength="161.7" lengthAdjust="spacingAndGlyphs" word-spacing="0.8">Market in Chatuchak</text>
<text x="321.0" y="758.8" font-size="16" fill="#2e2e2e" textLength="50.4" lengthAdjust="spacingAndGlyphs" word-spacing="0.8">district</text>
<text x="322.8" y="786.8" font-size="16" fill="#2e2e2e" textLength="185.8" lengthAdjust="spacingAndGlyphs" word-spacing="0.8">Ngam Wong Wan Road</text>
<text x="321.0" y="807.3" font-size="16" fill="#2e2e2e" textLength="159.7" lengthAdjust="spacingAndGlyphs" word-spacing="0.8">in front of Amornpan</text>
<text x="321.0" y="827.8" font-size="16" fill="#2e2e2e" textLength="161.7" lengthAdjust="spacingAndGlyphs" word-spacing="0.8">Market in Chatuchak</text>
<text x="322.8" y="855.8" font-size="16" fill="#2e2e2e" textLength="175.1" lengthAdjust="spacingAndGlyphs" word-spacing="0.8">Lat Phrao Road at Soi</text>
<text x="321.0" y="876.3" font-size="16" fill="#2e2e2e" textLength="192.6" lengthAdjust="spacingAndGlyphs" word-spacing="0.8">122 and Prasert Manukit</text>
<text x="321.0" y="896.8" font-size="16" fill="#2e2e2e" textLength="166.5" lengthAdjust="spacingAndGlyphs" word-spacing="0.8">Road in Wang Thong</text>
<text x="321.0" y="917.3" font-size="16" fill="#2e2e2e" textLength="94.9" lengthAdjust="spacingAndGlyphs" word-spacing="0.8">Lang district</text>
<text x="322.8" y="945.3" font-size="16" fill="#2e2e2e" textLength="176.1" lengthAdjust="spacingAndGlyphs" word-spacing="0.8">Srinakarin Road at the</text>
<text x="321.0" y="965.8" font-size="16" fill="#2e2e2e" textLength="189.8" lengthAdjust="spacingAndGlyphs" word-spacing="0.8">Lam Salee-Klong Kacha</text>
<text x="321.0" y="986.3" font-size="16" fill="#2e2e2e" textLength="195.5" lengthAdjust="spacingAndGlyphs" word-spacing="0.8">intersection in Bang Kapi</text>
<text x="321.0" y="1006.8" font-size="16" fill="#2e2e2e" textLength="50.4" lengthAdjust="spacingAndGlyphs" word-spacing="0.8">district</text>
<text x="572.8" y="359.8" font-size="16" fill="#2e2e2e" textLength="174.4" lengthAdjust="spacingAndGlyphs" word-spacing="0.8">Prachasongkroh Road</text>
<text x="571.0" y="380.3" font-size="16" fill="#2e2e2e" textLength="185.5" lengthAdjust="spacingAndGlyphs" word-spacing="0.8">around the Clock Tower</text>
<text x="571.0" y="400.8" font-size="16" fill="#2e2e2e" textLength="169.4" lengthAdjust="spacingAndGlyphs" word-spacing="0.8">and the Huai Khwang</text>
<text x="571.0" y="421.3" font-size="16" fill="#2e2e2e" textLength="161.6" lengthAdjust="spacingAndGlyphs" word-spacing="0.8">market in Din Daeng</text>
<text x="571.0" y="441.8" font-size="16" fill="#2e2e2e" textLength="50.4" lengthAdjust="spacingAndGlyphs" word-spacing="0.8">district</text>
<text x="572.8" y="469.8" font-size="16" fill="#2e2e2e" textLength="192.7" lengthAdjust="spacingAndGlyphs" word-spacing="0.8">Ratchadaphisek Road at</text>
<text x="571.0" y="490.3" font-size="16" fill="#2e2e2e" textLength="161.8" lengthAdjust="spacingAndGlyphs" word-spacing="0.8">the Ratchayothin-Lat</text>
<text x="571.0" y="510.8" font-size="16" fill="#2e2e2e" textLength="160.7" lengthAdjust="spacingAndGlyphs" word-spacing="0.8">Phrao intersection in</text>
<text x="571.0" y="531.3" font-size="16" fill="#2e2e2e" textLength="83.4" lengthAdjust="spacingAndGlyphs" word-spacing="0.8">Chatuchak</text>
<text x="572.8" y="559.3" font-size="16" fill="#2e2e2e" textLength="189.7" lengthAdjust="spacingAndGlyphs" word-spacing="0.8">Prachasuk Road at Sois</text>
<text x="571.0" y="579.8" font-size="16" fill="#2e2e2e" textLength="152.9" lengthAdjust="spacingAndGlyphs" word-spacing="0.8">45-49 in Din Daeng</text>
<text x="572.8" y="607.8" font-size="16" fill="#2e2e2e" textLength="198.5" lengthAdjust="spacingAndGlyphs" word-spacing="0.8">Kamphaeng Phet 3 Road</text>
<text x="571.0" y="628.3" font-size="16" fill="#2e2e2e" textLength="185.9" lengthAdjust="spacingAndGlyphs" word-spacing="0.8">at the Kamphaeng Phet</text>
<text x="571.0" y="648.8" font-size="16" fill="#2e2e2e" textLength="108.5" lengthAdjust="spacingAndGlyphs" word-spacing="0.8">intersection in</text>
<text x="571.0" y="669.3" font-size="16" fill="#2e2e2e" textLength="83.4" lengthAdjust="spacingAndGlyphs" word-spacing="0.8">Chatuchak</text>
<text x="572.8" y="697.3" font-size="16" fill="#2e2e2e" textLength="195.6" lengthAdjust="spacingAndGlyphs" word-spacing="0.8">Ramkhamhaeng Road at</text>
<text x="571.0" y="717.8" font-size="16" fill="#2e2e2e" textLength="190.5" lengthAdjust="spacingAndGlyphs" word-spacing="0.8">Soi 5 in the Suan Luang</text>
<text x="571.0" y="738.3" font-size="16" fill="#2e2e2e" textLength="50.4" lengthAdjust="spacingAndGlyphs" word-spacing="0.8">district</text>
<text x="572.8" y="766.3" font-size="16" fill="#2e2e2e" textLength="168.5" lengthAdjust="spacingAndGlyphs" word-spacing="0.8">Phaholyothin Road at</text>
<text x="571.0" y="786.8" font-size="16" fill="#2e2e2e" textLength="96.7" lengthAdjust="spacingAndGlyphs" word-spacing="0.8">the Mor Chit</text>
<text x="571.0" y="807.3" font-size="16" fill="#2e2e2e" textLength="172.5" lengthAdjust="spacingAndGlyphs" word-spacing="0.8">Kao-Kamphaeng Phet</text>
<text x="571.0" y="827.8" font-size="16" fill="#2e2e2e" textLength="108.5" lengthAdjust="spacingAndGlyphs" word-spacing="0.8">intersection in</text>
<text x="571.0" y="848.3" font-size="16" fill="#2e2e2e" textLength="83.4" lengthAdjust="spacingAndGlyphs" word-spacing="0.8">Chatuchak</text>
<text x="572.8" y="876.3" font-size="16" fill="#2e2e2e" textLength="189.9" lengthAdjust="spacingAndGlyphs" word-spacing="0.8">Srinakharin Roadaround</text>
<text x="571.0" y="896.8" font-size="16" fill="#2e2e2e" textLength="197.0" lengthAdjust="spacingAndGlyphs" word-spacing="0.8">Sri Iam Temple in Prawet</text>
<text x="571.0" y="917.3" font-size="16" fill="#2e2e2e" textLength="50.4" lengthAdjust="spacingAndGlyphs" word-spacing="0.8">district</text>
<text x="572.8" y="945.3" font-size="16" fill="#2e2e2e" textLength="190.8" lengthAdjust="spacingAndGlyphs" word-spacing="0.8">Chalermphrakiat 9 Road</text>
<text x="571.0" y="965.8" font-size="16" fill="#2e2e2e" textLength="123.8" lengthAdjust="spacingAndGlyphs" word-spacing="0.8">at the Sri Udom</text>
<text x="571.0" y="986.3" font-size="16" fill="#2e2e2e" textLength="168.5" lengthAdjust="spacingAndGlyphs" word-spacing="0.8">intersection in Prawet</text>
<text x="571.0" y="1006.8" font-size="16" fill="#2e2e2e" textLength="50.4" lengthAdjust="spacingAndGlyphs" word-spacing="0.8">district</text>
<text x="822.8" y="359.8" font-size="16" fill="#2e2e2e" textLength="138.4" lengthAdjust="spacingAndGlyphs" word-spacing="0.8">Ngam Wong Wan</text>
<text x="821.0" y="380.3" font-size="16" fill="#2e2e2e" textLength="121.9" lengthAdjust="spacingAndGlyphs" word-spacing="0.8">Road in front of</text>
<text x="821.0" y="400.8" font-size="16" fill="#2e2e2e" textLength="150.1" lengthAdjust="spacingAndGlyphs" word-spacing="0.8">Pong Petch Market</text>
<text x="821.0" y="421.3" font-size="16" fill="#2e2e2e" textLength="68.6" lengthAdjust="spacingAndGlyphs" word-spacing="0.8">in Lak Si</text>
<text x="822.8" y="449.3" font-size="16" fill="#2e2e2e" textLength="148.2" lengthAdjust="spacingAndGlyphs" word-spacing="0.8">Phaholyothin Road</text>
<text x="821.0" y="469.8" font-size="16" fill="#2e2e2e" textLength="147.2" lengthAdjust="spacingAndGlyphs" word-spacing="0.8">around Bang Khen</text>
<text x="821.0" y="490.3" font-size="16" fill="#2e2e2e" textLength="125.8" lengthAdjust="spacingAndGlyphs" word-spacing="0.8">Circle and Bang</text>
<text x="821.0" y="510.8" font-size="16" fill="#2e2e2e" textLength="154.0" lengthAdjust="spacingAndGlyphs" word-spacing="0.8">Khen Police Station</text>
<text x="821.0" y="531.3" font-size="16" fill="#2e2e2e" textLength="106.5" lengthAdjust="spacingAndGlyphs" word-spacing="0.8">in Bang Khen</text>
<text x="821.0" y="551.8" font-size="16" fill="#2e2e2e" textLength="50.4" lengthAdjust="spacingAndGlyphs" word-spacing="0.8">district</text>
<text x="822.8" y="579.8" font-size="16" fill="#2e2e2e" textLength="124.8" lengthAdjust="spacingAndGlyphs" word-spacing="0.8">Nakhon Chai Sr</text>
<text x="821.0" y="600.3" font-size="16" fill="#2e2e2e" textLength="143.1" lengthAdjust="spacingAndGlyphs" word-spacing="0.8">Road in front of Si</text>
<text x="821.0" y="620.8" font-size="16" fill="#2e2e2e" textLength="153.5" lengthAdjust="spacingAndGlyphs" word-spacing="0.8">Yan Market in Dusit</text>
<text x="821.0" y="641.3" font-size="16" fill="#2e2e2e" textLength="50.4" lengthAdjust="spacingAndGlyphs" word-spacing="0.8">district</text>
<text x="822.8" y="669.3" font-size="16" fill="#2e2e2e" textLength="136.5" lengthAdjust="spacingAndGlyphs" word-spacing="0.8">Navamin Road at</text>
<text x="821.0" y="689.8" font-size="16" fill="#2e2e2e" textLength="122.9" lengthAdjust="spacingAndGlyphs" word-spacing="0.8">Sois 121-127 in</text>
<text x="821.0" y="710.3" font-size="16" fill="#2e2e2e" textLength="157.8" lengthAdjust="spacingAndGlyphs" word-spacing="0.8">Bueang Kum district</text>
<g fill="#14ec8e">
<circle cx="389.5" cy="1178.75" r="6.4"/>
<circle cx="432" cy="1230.5" r="6.4"/>
<circle cx="438" cy="1243.25" r="6.4"/>
<circle cx="480.5" cy="1274.25" r="6.4"/>
<circle cx="497" cy="1171.25" r="6.4"/>
<circle cx="491.25" cy="1190.75" r="6.4"/>
<circle cx="507.5" cy="1185" r="6.4"/>
<circle cx="521.75" cy="1184.5" r="6.4"/>
<circle cx="478.75" cy="1070" r="6.4"/>
<circle cx="462.5" cy="1083" r="6.4"/>
<circle cx="480" cy="1096.25" r="6.4"/>
<circle cx="553.75" cy="1249.25" r="6.4"/>
<circle cx="558.25" cy="1307.5" r="6.4"/>
<circle cx="646.75" cy="1330.5" r="6.4"/>
<circle cx="645.75" cy="1348.75" r="6.4"/>
<rect x="501.25" y="1192.25" width="12.5" height="12.5"/>
<rect x="553.75" y="1318.0" width="12.5" height="12.5"/>
<rect x="491.25" y="1375.5" width="12.5" height="12.5"/>
<rect x="501.25" y="1392.5" width="12.5" height="12.5"/>
<polygon points="453,1057.75 467,1057.75 460,1070.75"/>
<polygon points="514.75,1071.5 528.75,1071.5 521.75,1084.5"/>
<polygon points="403.6,1194 417.6,1194 410.6,1207"/>
</g>
<text x="466.2" y="1218.0" font-size="17.5" fill="#fff" font-weight="bold">Chatuchak</text>
<text x="563.8" y="1243.0" font-size="17.5" fill="#fff" font-weight="bold">Bang</text>
<text x="563.8" y="1264.5" font-size="17.5" fill="#fff" font-weight="bold">Kapi</text>
<text x="486.2" y="1267.5" font-size="17.5" fill="#fff" font-weight="bold">Wang</text>
<text x="486.2" y="1288.8" font-size="17.5" fill="#fff" font-weight="bold">Thong</text>
<text x="486.2" y="1310.0" font-size="17.5" fill="#fff" font-weight="bold">Lang</text>
<text x="572.5" y="1305.0" font-size="17.5" fill="#fff" font-weight="bold">Suan</text>
<text x="572.5" y="1327.0" font-size="17.5" fill="#fff" font-weight="bold">Luang</text>
<text x="632.5" y="1316.2" font-size="17.5" fill="#fff" font-weight="bold">Prawet</text>
<text x="20.2" y="1049.6" font-size="40.4" fill="#111" font-weight="bold" textLength="255.0" lengthAdjust="spacingAndGlyphs" stroke="#111" stroke-width="1.3" stroke-linejoin="round">BIGGEST RAINFALL</text>
<text x="20.0" y="1090.6" font-size="40.7" fill="#111" textLength="264.5" lengthAdjust="spacingAndGlyphs" stroke="#111" stroke-width="0.9" stroke-linejoin="round">IN 24-HOUR PERIOD</text>
<text x="19.8" y="1123.2" font-size="27.9" fill="#111" textLength="261.2" lengthAdjust="spacingAndGlyphs" stroke="#111" stroke-width="0.5" stroke-linejoin="round">(7AM, MAY 24 – 7AM, MAY 25)</text>
<text x="19.8" y="1155.2" font-size="17.6" fill="#3a3a3a" textLength="112.5" lengthAdjust="spacingAndGlyphs">Rainfall (mm)</text>
<text x="105.6" y="1192.0" font-size="24.1" fill="#111" textLength="113.0" lengthAdjust="spacingAndGlyphs" stroke="#111" stroke-width="0.4" stroke-linejoin="round">Rainfall map</text>
<rect x="39" y="1206" width="25" height="65.8" fill="#4a08f6"/>
<rect x="39" y="1271.5" width="25" height="65.3" fill="#ff0000"/>
<rect x="39" y="1336.5" width="25" height="54.3" fill="#ff5000"/>
<rect x="39" y="1390.5" width="25" height="54.8" fill="#ffd23c"/>
<rect x="39" y="1445" width="25" height="21.8" fill="#68fa0c"/>
<text x="70.0" y="1214.5" font-size="17.7" fill="#111" textLength="21.0" lengthAdjust="spacingAndGlyphs" stroke="#111" stroke-width="0.45" stroke-linejoin="round">120</text>
<text x="70.0" y="1279.0" font-size="17.7" fill="#111" textLength="14.0" lengthAdjust="spacingAndGlyphs" stroke="#111" stroke-width="0.45" stroke-linejoin="round">90</text>
<text x="70.0" y="1339.5" font-size="17.7" fill="#111" textLength="14.0" lengthAdjust="spacingAndGlyphs" stroke="#111" stroke-width="0.45" stroke-linejoin="round">60</text>
<text x="70.0" y="1395.5" font-size="17.7" fill="#111" textLength="14.0" lengthAdjust="spacingAndGlyphs" stroke="#111" stroke-width="0.45" stroke-linejoin="round">35</text>
<text x="70.0" y="1450.5" font-size="17.7" fill="#111" textLength="14.0" lengthAdjust="spacingAndGlyphs" stroke="#111" stroke-width="0.45" stroke-linejoin="round">10</text>
<text x="70.0" y="1471.5" font-size="17.7" fill="#111" textLength="7.0" lengthAdjust="spacingAndGlyphs" stroke="#111" stroke-width="0.45" stroke-linejoin="round">0</text>
<path transform="translate(800.0,1342.0) scale(17.5)" d="M0.86,-2.29C0.90,-1.69 1,-0.89 1,0A1,1 0 1 1 -1,0C-1.00,-0.11 -0.99,-0.23 -0.96,-0.35C-0.92,-0.47 -0.89,-0.60 -0.79,-0.73C-0.69,-0.86 -0.52,-0.99 -0.37,-1.12C-0.22,-1.25 -0.02,-1.37 0.13,-1.50C0.28,-1.63 0.43,-1.75 0.55,-1.88C0.67,-2.01 0.80,-2.17 0.86,-2.29Z" fill="#80f7bc"/>
<path transform="translate(940.0,1357.5) scale(29)" d="M0.86,-2.29C0.90,-1.69 1,-0.89 1,0A1,1 0 1 1 -1,0C-1.00,-0.11 -0.99,-0.23 -0.96,-0.35C-0.92,-0.47 -0.89,-0.60 -0.79,-0.73C-0.69,-0.86 -0.52,-0.99 -0.37,-1.12C-0.22,-1.25 -0.02,-1.37 0.13,-1.50C0.28,-1.63 0.43,-1.75 0.55,-1.88C0.67,-2.01 0.80,-2.17 0.86,-2.29Z" fill="#80f7bc"/>
<path transform="translate(866.8,1461.6) scale(28.8)" d="M0.86,-2.29C0.90,-1.69 1,-0.89 1,0A1,1 0 1 1 -1,0C-1.00,-0.11 -0.99,-0.23 -0.96,-0.35C-0.92,-0.47 -0.89,-0.60 -0.79,-0.73C-0.69,-0.86 -0.52,-0.99 -0.37,-1.12C-0.22,-1.25 -0.02,-1.37 0.13,-1.50C0.28,-1.63 0.43,-1.75 0.55,-1.88C0.67,-2.01 0.80,-2.17 0.86,-2.29Z" fill="#80f7bc"/>
<path transform="translate(946.0,1454.4) scale(29)" d="M0.86,-2.29C0.90,-1.69 1,-0.89 1,0A1,1 0 1 1 -1,0C-1.00,-0.11 -0.99,-0.23 -0.96,-0.35C-0.92,-0.47 -0.89,-0.60 -0.79,-0.73C-0.69,-0.86 -0.52,-0.99 -0.37,-1.12C-0.22,-1.25 -0.02,-1.37 0.13,-1.50C0.28,-1.63 0.43,-1.75 0.55,-1.88C0.67,-2.01 0.80,-2.17 0.86,-2.29Z" fill="#80f7bc"/>
<path transform="translate(804.4,1437.6) scale(12)" d="M0.8,-2.08C0.84,-1.54 1,-0.81 1,0A1,1 0 1 1 -1,0C-1.00,-0.10 -1.00,-0.21 -0.96,-0.32C-0.93,-0.43 -0.89,-0.55 -0.80,-0.66C-0.70,-0.78 -0.54,-0.90 -0.39,-1.02C-0.24,-1.13 -0.05,-1.25 0.09,-1.36C0.24,-1.48 0.38,-1.59 0.50,-1.71C0.62,-1.83 0.74,-1.97 0.80,-2.08Z" fill="#80f7bc"/>
<path transform="translate(972.4,1567.2) scale(12)" d="M0.8,-2.08C0.84,-1.54 1,-0.81 1,0A1,1 0 1 1 -1,0C-1.00,-0.10 -1.00,-0.21 -0.96,-0.32C-0.93,-0.43 -0.89,-0.55 -0.80,-0.66C-0.70,-0.78 -0.54,-0.90 -0.39,-1.02C-0.24,-1.13 -0.05,-1.25 0.09,-1.36C0.24,-1.48 0.38,-1.59 0.50,-1.71C0.62,-1.83 0.74,-1.97 0.80,-2.08Z" fill="#80f7bc"/>
<path transform="translate(896.8,1634.0) scale(17)" d="M0.86,-2.29C0.90,-1.69 1,-0.89 1,0A1,1 0 1 1 -1,0C-1.00,-0.11 -0.99,-0.23 -0.96,-0.35C-0.92,-0.47 -0.89,-0.60 -0.79,-0.73C-0.69,-0.86 -0.52,-0.99 -0.37,-1.12C-0.22,-1.25 -0.02,-1.37 0.13,-1.50C0.28,-1.63 0.43,-1.75 0.55,-1.88C0.67,-2.01 0.80,-2.17 0.86,-2.29Z" fill="#80f7bc"/>
<path transform="translate(961.0,1661.6) scale(12)" d="M0.8,-2.08C0.84,-1.54 1,-0.81 1,0A1,1 0 1 1 -1,0C-1.00,-0.10 -1.00,-0.21 -0.96,-0.32C-0.93,-0.43 -0.89,-0.55 -0.80,-0.66C-0.70,-0.78 -0.54,-0.90 -0.39,-1.02C-0.24,-1.13 -0.05,-1.25 0.09,-1.36C0.24,-1.48 0.38,-1.59 0.50,-1.71C0.62,-1.83 0.74,-1.97 0.80,-2.08Z" fill="#80f7bc"/>
<path transform="translate(904.7,1700.0) scale(12)" d="M0.8,-2.08C0.84,-1.54 1,-0.81 1,0A1,1 0 1 1 -1,0C-1.00,-0.10 -1.00,-0.21 -0.96,-0.32C-0.93,-0.43 -0.89,-0.55 -0.80,-0.66C-0.70,-0.78 -0.54,-0.90 -0.39,-1.02C-0.24,-1.13 -0.05,-1.25 0.09,-1.36C0.24,-1.48 0.38,-1.59 0.50,-1.71C0.62,-1.83 0.74,-1.97 0.80,-2.08Z" fill="#80f7bc"/>
<path transform="translate(448.8,1469.6) scale(12)" d="M0.8,-2.08C0.84,-1.54 1,-0.81 1,0A1,1 0 1 1 -1,0C-1.00,-0.10 -1.00,-0.21 -0.96,-0.32C-0.93,-0.43 -0.89,-0.55 -0.80,-0.66C-0.70,-0.78 -0.54,-0.90 -0.39,-1.02C-0.24,-1.13 -0.05,-1.25 0.09,-1.36C0.24,-1.48 0.38,-1.59 0.50,-1.71C0.62,-1.83 0.74,-1.97 0.80,-2.08Z" fill="#80f7bc"/>
<path transform="translate(495.6,1439.6) scale(12)" d="M0.8,-2.08C0.84,-1.54 1,-0.81 1,0A1,1 0 1 1 -1,0C-1.00,-0.10 -1.00,-0.21 -0.96,-0.32C-0.93,-0.43 -0.89,-0.55 -0.80,-0.66C-0.70,-0.78 -0.54,-0.90 -0.39,-1.02C-0.24,-1.13 -0.05,-1.25 0.09,-1.36C0.24,-1.48 0.38,-1.59 0.50,-1.71C0.62,-1.83 0.74,-1.97 0.80,-2.08Z" fill="#80f7bc"/>
<path transform="translate(496.3,1487.6) scale(12)" d="M0.8,-2.08C0.84,-1.54 1,-0.81 1,0A1,1 0 1 1 -1,0C-1.00,-0.10 -1.00,-0.21 -0.96,-0.32C-0.93,-0.43 -0.89,-0.55 -0.80,-0.66C-0.70,-0.78 -0.54,-0.90 -0.39,-1.02C-0.24,-1.13 -0.05,-1.25 0.09,-1.36C0.24,-1.48 0.38,-1.59 0.50,-1.71C0.62,-1.83 0.74,-1.97 0.80,-2.08Z" fill="#80f7bc"/>
<path transform="translate(541.9,1469.6) scale(12)" d="M0.8,-2.08C0.84,-1.54 1,-0.81 1,0A1,1 0 1 1 -1,0C-1.00,-0.10 -1.00,-0.21 -0.96,-0.32C-0.93,-0.43 -0.89,-0.55 -0.80,-0.66C-0.70,-0.78 -0.54,-0.90 -0.39,-1.02C-0.24,-1.13 -0.05,-1.25 0.09,-1.36C0.24,-1.48 0.38,-1.59 0.50,-1.71C0.62,-1.83 0.74,-1.97 0.80,-2.08Z" fill="#80f7bc"/>
<path transform="translate(576.0,1480.4) scale(12)" d="M0.8,-2.08C0.84,-1.54 1,-0.81 1,0A1,1 0 1 1 -1,0C-1.00,-0.10 -1.00,-0.21 -0.96,-0.32C-0.93,-0.43 -0.89,-0.55 -0.80,-0.66C-0.70,-0.78 -0.54,-0.90 -0.39,-1.02C-0.24,-1.13 -0.05,-1.25 0.09,-1.36C0.24,-1.48 0.38,-1.59 0.50,-1.71C0.62,-1.83 0.74,-1.97 0.80,-2.08Z" fill="#80f7bc"/>
<path transform="translate(622.0,1445.6) scale(12)" d="M0.8,-2.08C0.84,-1.54 1,-0.81 1,0A1,1 0 1 1 -1,0C-1.00,-0.10 -1.00,-0.21 -0.96,-0.32C-0.93,-0.43 -0.89,-0.55 -0.80,-0.66C-0.70,-0.78 -0.54,-0.90 -0.39,-1.02C-0.24,-1.13 -0.05,-1.25 0.09,-1.36C0.24,-1.48 0.38,-1.59 0.50,-1.71C0.62,-1.83 0.74,-1.97 0.80,-2.08Z" fill="#80f7bc"/>
<path transform="translate(523.0,1657.0) scale(13)" d="M0.8,-2.08C0.84,-1.54 1,-0.81 1,0A1,1 0 1 1 -1,0C-1.00,-0.10 -1.00,-0.21 -0.96,-0.32C-0.93,-0.43 -0.89,-0.55 -0.80,-0.66C-0.70,-0.78 -0.54,-0.90 -0.39,-1.02C-0.24,-1.13 -0.05,-1.25 0.09,-1.36C0.24,-1.48 0.38,-1.59 0.50,-1.71C0.62,-1.83 0.74,-1.97 0.80,-2.08Z" fill="#80f7bc"/>
<circle cx="696.2" cy="1588" r="143" fill="#80f7bc"/>
<g fill="none" stroke="#eefcf5" stroke-width="1.1">
<circle cx="696.2" cy="1588" r="35.8"/>
<circle cx="696.2" cy="1588" r="71.5"/>
<circle cx="696.2" cy="1588" r="107.2"/>
<line x1="696.2" y1="1588" x2="696.2" y2="1445.0"/>
<line x1="696.2" y1="1588" x2="832.2" y2="1543.8"/>
<line x1="696.2" y1="1588" x2="780.3" y2="1703.7"/>
<line x1="696.2" y1="1588" x2="612.1" y2="1703.7"/>
<line x1="696.2" y1="1588" x2="560.2" y2="1543.8"/>
</g>
<text x="699.6" y="1458.5" font-size="12.5" fill="#eafcf3" textLength="18.4" lengthAdjust="spacingAndGlyphs" stroke="#eafcf3" stroke-width="0.3" stroke-linejoin="round">200</text>
<text x="699.6" y="1494.2" font-size="12.5" fill="#eafcf3" textLength="18.4" lengthAdjust="spacingAndGlyphs" stroke="#eafcf3" stroke-width="0.3" stroke-linejoin="round">150</text>
<text x="699.6" y="1530.0" font-size="12.5" fill="#eafcf3" textLength="18.4" lengthAdjust="spacingAndGlyphs" stroke="#eafcf3" stroke-width="0.3" stroke-linejoin="round">100</text>
<text x="699.6" y="1565.8" font-size="12.5" fill="#eafcf3" textLength="12.2" lengthAdjust="spacingAndGlyphs" stroke="#eafcf3" stroke-width="0.3" stroke-linejoin="round">50</text>
<polygon points="696.2,1467.2 804.3,1552.9 760.1,1675.9 637.8,1668.4 604.4,1558.2" fill="none" stroke="#4a08f6" stroke-width="2.4"/>
<rect x="689.6" y="1460.6" width="13.2" height="13.2" fill="#4a08f6"/>
<rect x="797.7" y="1546.3" width="13.2" height="13.2" fill="#4a08f6"/>
<rect x="753.5" y="1669.3" width="13.2" height="13.2" fill="#4a08f6"/>
<rect x="631.2" y="1661.8" width="13.2" height="13.2" fill="#4a08f6"/>
<rect x="597.8" y="1551.6" width="13.2" height="13.2" fill="#4a08f6"/>
<g transform="translate(66.7,1651.8) scale(1.0)" fill="#000">
<polygon points="43.5,0 73.3,17.9 14.3,17.9"/>
<rect x="24.3" y="17.5" width="38.8" height="21.2"/>
<rect x="62" y="25.2" width="11.3" height="6.8"/>
<path d="M25,28.4 H16.3 Q4.1,28.4 4.1,41.2 V54.4" fill="none" stroke="#000" stroke-width="7.5"/>
</g>
<g transform="translate(124,1701.5)">
<rect width="16" height="34.3" fill="#000"/>
<rect x="7.5" y="3.45" width="8.5" height="1.5" fill="#d8e8f3"/>
<rect x="12.5" y="6.95" width="3.5" height="1.5" fill="#d8e8f3"/>
<rect x="7.5" y="11.45" width="8.5" height="1.5" fill="#d8e8f3"/>
<rect x="12.5" y="14.95" width="3.5" height="1.5" fill="#d8e8f3"/>
<rect x="7.5" y="19.25" width="8.5" height="1.5" fill="#d8e8f3"/>
<rect x="12.5" y="22.75" width="3.5" height="1.5" fill="#d8e8f3"/>
<rect x="7.5" y="27.05" width="8.5" height="1.5" fill="#d8e8f3"/>
<rect x="12.5" y="30.75" width="3.5" height="1.5" fill="#d8e8f3"/>
</g>
<g transform="translate(104.2,1745.2)" fill="#000">
<path d="M0,0H35.8V27.6H33.0V2.8H2.8V27.6H0Z"/>
<rect x="6.9" y="8.0" width="22" height="19.6"/>
</g>
<g transform="translate(675,1351.25) scale(0.755)" fill="#000">
<polygon points="43.5,0 73.3,17.9 14.3,17.9"/>
<rect x="24.3" y="17.5" width="38.8" height="21.2"/>
<rect x="62" y="25.2" width="11.3" height="6.8"/>
<path d="M25,28.4 H16.3 Q4.1,28.4 4.1,41.2 V54.4" fill="none" stroke="#000" stroke-width="7.5"/>
</g>
<g transform="translate(442,1501.4)">
<rect width="16" height="34.3" fill="#000"/>
<rect x="7.5" y="3.45" width="8.5" height="1.5" fill="#d8e8f3"/>
<rect x="12.5" y="6.95" width="3.5" height="1.5" fill="#d8e8f3"/>
<rect x="7.5" y="11.45" width="8.5" height="1.5" fill="#d8e8f3"/>
<rect x="12.5" y="14.95" width="3.5" height="1.5" fill="#d8e8f3"/>
<rect x="7.5" y="19.25" width="8.5" height="1.5" fill="#d8e8f3"/>
<rect x="12.5" y="22.75" width="3.5" height="1.5" fill="#d8e8f3"/>
<rect x="7.5" y="27.05" width="8.5" height="1.5" fill="#d8e8f3"/>
<rect x="12.5" y="30.75" width="3.5" height="1.5" fill="#d8e8f3"/>
</g>
<g transform="translate(849.3,1497.6)">
<rect width="16" height="34.3" fill="#000"/>
<rect x="7.5" y="3.45" width="8.5" height="1.5" fill="#d8e8f3"/>
<rect x="12.5" y="6.95" width="3.5" height="1.5" fill="#d8e8f3"/>
<rect x="7.5" y="11.45" width="8.5" height="1.5" fill="#d8e8f3"/>
<rect x="12.5" y="14.95" width="3.5" height="1.5" fill="#d8e8f3"/>
<rect x="7.5" y="19.25" width="8.5" height="1.5" fill="#d8e8f3"/>
<rect x="12.5" y="22.75" width="3.5" height="1.5" fill="#d8e8f3"/>
<rect x="7.5" y="27.05" width="8.5" height="1.5" fill="#d8e8f3"/>
<rect x="12.5" y="30.75" width="3.5" height="1.5" fill="#d8e8f3"/>
</g>
<g transform="translate(788.8,1675.5)" fill="#000">
<path d="M0,0H36V27H33.2V2.8H2.8V27H0Z"/>
<rect x="7.0" y="7.4" width="22" height="19.6"/>
</g>
<text x="153.5" y="1698.0" font-size="18.2" fill="#2e2e2e" textLength="114.7" lengthAdjust="spacingAndGlyphs">Pump Station</text>
<text x="153.5" y="1732.4" font-size="18.2" fill="#2e2e2e" textLength="261.6" lengthAdjust="spacingAndGlyphs">Water-Level Monitoring Station</text>
<text x="153.5" y="1766.8" font-size="18.2" fill="#2e2e2e" textLength="102.3" lengthAdjust="spacingAndGlyphs">Water gates</text>
<text x="697.0" y="1399.5" font-size="18.4" fill="#2e2e2e" textLength="154.9" lengthAdjust="spacingAndGlyphs">Wang Thong Lang</text>
<text x="697.0" y="1430.1" font-size="29" fill="#4a08f6" textLength="73.0" lengthAdjust="spacingAndGlyphs" stroke="#4a08f6" stroke-width="0.7" stroke-linejoin="round">169mm</text>
<text x="850.0" y="1551.0" font-size="18.4" fill="#2e2e2e" textLength="87.5" lengthAdjust="spacingAndGlyphs">Bang Kapi</text>
<text x="850.0" y="1581.6" font-size="29" fill="#4a08f6" textLength="73.0" lengthAdjust="spacingAndGlyphs" stroke="#4a08f6" stroke-width="0.7" stroke-linejoin="round">159mm</text>
<text x="788.3" y="1721.6" font-size="18.4" fill="#2e2e2e" textLength="59.0" lengthAdjust="spacingAndGlyphs">Prawet</text>
<text x="788.3" y="1752.2" font-size="29" fill="#4a08f6" textLength="73.0" lengthAdjust="spacingAndGlyphs" stroke="#4a08f6" stroke-width="0.7" stroke-linejoin="round">152mm</text>
<text x="604.0" y="1751.0" font-size="18.4" fill="#2e2e2e" textLength="90.6" lengthAdjust="spacingAndGlyphs">Chatuchak</text>
<text x="604.0" y="1781.6" font-size="29" fill="#4a08f6" textLength="73.0" lengthAdjust="spacingAndGlyphs" stroke="#4a08f6" stroke-width="0.7" stroke-linejoin="round">139mm</text>
<text x="443.0" y="1555.0" font-size="18.4" fill="#2e2e2e" textLength="102.2" lengthAdjust="spacingAndGlyphs">Suan Luang</text>
<text x="443.0" y="1585.6" font-size="29" fill="#4a08f6" textLength="73.0" lengthAdjust="spacingAndGlyphs" stroke="#4a08f6" stroke-width="0.7" stroke-linejoin="round">135mm</text>
<text x="1.0" y="1818.4" font-size="14.2" fill="#222" font-style="italic" textLength="322.0" lengthAdjust="spacingAndGlyphs">Source: Department of Drainage and Sewerage</text>
<text x="901.6" y="1811.6" font-size="10.5" fill="#222" font-style="italic" textLength="96.4" lengthAdjust="spacingAndGlyphs">NATION GRAPHICS</text>
</svg></body></html>
